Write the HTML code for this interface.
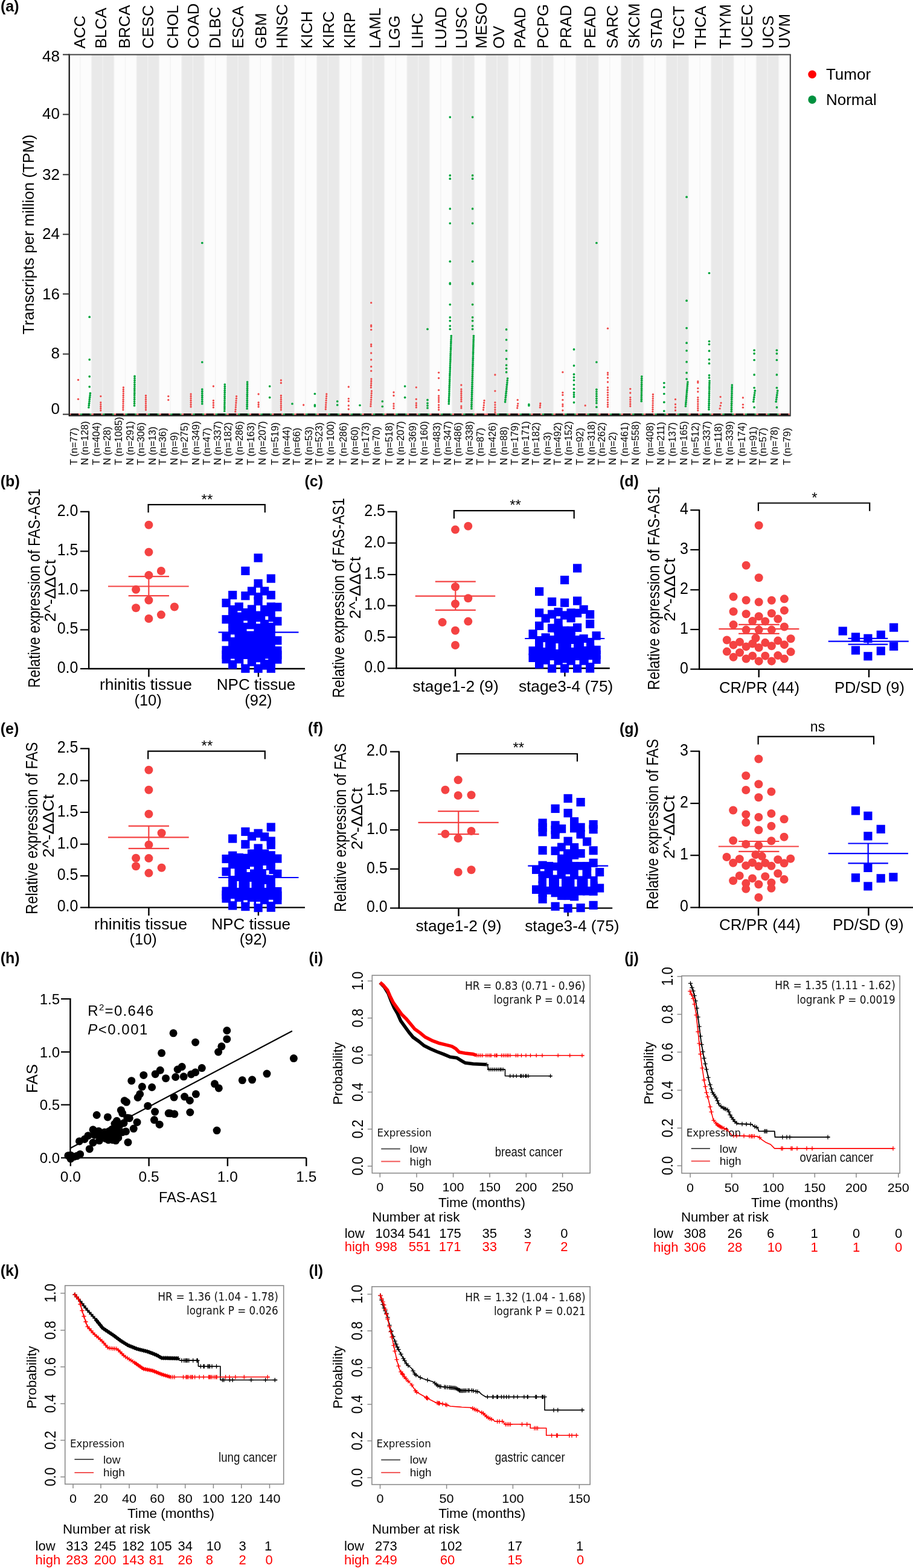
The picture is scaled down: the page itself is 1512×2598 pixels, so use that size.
<!DOCTYPE html>
<html><head><meta charset="utf-8"><title>Figure</title>
<style>html,body{margin:0;padding:0;background:#fff;}svg{display:block;}
</style></head>
<body><svg xmlns="http://www.w3.org/2000/svg" font-family="'Liberation Sans', Arial, Helvetica, sans-serif" width="1512" height="2598" viewBox="0 0 1512 2598">
<rect width="1512" height="2598" fill="#fff"/>
<rect x="114.10" y="90.50" width="37.32" height="597.00" fill="#fcfcfc"/>
<rect x="151.42" y="90.50" width="37.32" height="597.00" fill="#e9e9e9"/>
<rect x="188.74" y="90.50" width="37.32" height="597.00" fill="#fcfcfc"/>
<rect x="226.06" y="90.50" width="37.32" height="597.00" fill="#e9e9e9"/>
<rect x="263.38" y="90.50" width="37.32" height="597.00" fill="#fcfcfc"/>
<rect x="300.70" y="90.50" width="37.32" height="597.00" fill="#e9e9e9"/>
<rect x="338.02" y="90.50" width="37.32" height="597.00" fill="#fcfcfc"/>
<rect x="375.34" y="90.50" width="37.32" height="597.00" fill="#e9e9e9"/>
<rect x="412.66" y="90.50" width="37.32" height="597.00" fill="#fcfcfc"/>
<rect x="449.98" y="90.50" width="37.32" height="597.00" fill="#e9e9e9"/>
<rect x="487.30" y="90.50" width="37.32" height="597.00" fill="#fcfcfc"/>
<rect x="524.62" y="90.50" width="37.32" height="597.00" fill="#e9e9e9"/>
<rect x="561.94" y="90.50" width="37.32" height="597.00" fill="#fcfcfc"/>
<rect x="599.26" y="90.50" width="37.32" height="597.00" fill="#e9e9e9"/>
<rect x="636.58" y="90.50" width="37.32" height="597.00" fill="#fcfcfc"/>
<rect x="673.90" y="90.50" width="37.32" height="597.00" fill="#e9e9e9"/>
<rect x="711.22" y="90.50" width="37.32" height="597.00" fill="#fcfcfc"/>
<rect x="748.54" y="90.50" width="37.32" height="597.00" fill="#e9e9e9"/>
<rect x="785.86" y="90.50" width="18.66" height="597.00" fill="#fcfcfc"/>
<rect x="804.52" y="90.50" width="37.32" height="597.00" fill="#e9e9e9"/>
<rect x="841.84" y="90.50" width="37.32" height="597.00" fill="#fcfcfc"/>
<rect x="879.16" y="90.50" width="37.32" height="597.00" fill="#e9e9e9"/>
<rect x="916.48" y="90.50" width="37.32" height="597.00" fill="#fcfcfc"/>
<rect x="953.80" y="90.50" width="37.32" height="597.00" fill="#e9e9e9"/>
<rect x="991.12" y="90.50" width="37.32" height="597.00" fill="#fcfcfc"/>
<rect x="1028.44" y="90.50" width="37.32" height="597.00" fill="#e9e9e9"/>
<rect x="1065.76" y="90.50" width="37.32" height="597.00" fill="#fcfcfc"/>
<rect x="1103.08" y="90.50" width="37.32" height="597.00" fill="#e9e9e9"/>
<rect x="1140.40" y="90.50" width="37.32" height="597.00" fill="#fcfcfc"/>
<rect x="1177.72" y="90.50" width="37.32" height="597.00" fill="#e9e9e9"/>
<rect x="1215.04" y="90.50" width="37.32" height="597.00" fill="#fcfcfc"/>
<rect x="1252.36" y="90.50" width="37.32" height="597.00" fill="#e9e9e9"/>
<rect x="1289.68" y="90.50" width="18.66" height="597.00" fill="#fcfcfc"/>
<rect x="132.16" y="90.5" width="1.3" height="596.0" fill="#f2f2f2"/>
<rect x="150.82" y="90.5" width="1.3" height="596.0" fill="#f2f2f2"/>
<rect x="169.48" y="90.5" width="1.3" height="596.0" fill="#f2f2f2"/>
<rect x="188.14" y="90.5" width="1.3" height="596.0" fill="#f2f2f2"/>
<rect x="206.80" y="90.5" width="1.3" height="596.0" fill="#f2f2f2"/>
<rect x="225.46" y="90.5" width="1.3" height="596.0" fill="#f2f2f2"/>
<rect x="244.12" y="90.5" width="1.3" height="596.0" fill="#f2f2f2"/>
<rect x="262.78" y="90.5" width="1.3" height="596.0" fill="#f2f2f2"/>
<rect x="281.44" y="90.5" width="1.3" height="596.0" fill="#f2f2f2"/>
<rect x="300.10" y="90.5" width="1.3" height="596.0" fill="#f2f2f2"/>
<rect x="318.76" y="90.5" width="1.3" height="596.0" fill="#f2f2f2"/>
<rect x="337.42" y="90.5" width="1.3" height="596.0" fill="#f2f2f2"/>
<rect x="356.08" y="90.5" width="1.3" height="596.0" fill="#f2f2f2"/>
<rect x="374.74" y="90.5" width="1.3" height="596.0" fill="#f2f2f2"/>
<rect x="393.40" y="90.5" width="1.3" height="596.0" fill="#f2f2f2"/>
<rect x="412.06" y="90.5" width="1.3" height="596.0" fill="#f2f2f2"/>
<rect x="430.72" y="90.5" width="1.3" height="596.0" fill="#f2f2f2"/>
<rect x="449.38" y="90.5" width="1.3" height="596.0" fill="#f2f2f2"/>
<rect x="468.04" y="90.5" width="1.3" height="596.0" fill="#f2f2f2"/>
<rect x="486.70" y="90.5" width="1.3" height="596.0" fill="#f2f2f2"/>
<rect x="505.36" y="90.5" width="1.3" height="596.0" fill="#f2f2f2"/>
<rect x="524.02" y="90.5" width="1.3" height="596.0" fill="#f2f2f2"/>
<rect x="542.68" y="90.5" width="1.3" height="596.0" fill="#f2f2f2"/>
<rect x="561.34" y="90.5" width="1.3" height="596.0" fill="#f2f2f2"/>
<rect x="580.00" y="90.5" width="1.3" height="596.0" fill="#f2f2f2"/>
<rect x="598.66" y="90.5" width="1.3" height="596.0" fill="#f2f2f2"/>
<rect x="617.32" y="90.5" width="1.3" height="596.0" fill="#f2f2f2"/>
<rect x="635.98" y="90.5" width="1.3" height="596.0" fill="#f2f2f2"/>
<rect x="654.64" y="90.5" width="1.3" height="596.0" fill="#f2f2f2"/>
<rect x="673.30" y="90.5" width="1.3" height="596.0" fill="#f2f2f2"/>
<rect x="691.96" y="90.5" width="1.3" height="596.0" fill="#f2f2f2"/>
<rect x="710.62" y="90.5" width="1.3" height="596.0" fill="#f2f2f2"/>
<rect x="729.28" y="90.5" width="1.3" height="596.0" fill="#f2f2f2"/>
<rect x="747.94" y="90.5" width="1.3" height="596.0" fill="#f2f2f2"/>
<rect x="766.60" y="90.5" width="1.3" height="596.0" fill="#f2f2f2"/>
<rect x="785.26" y="90.5" width="1.3" height="596.0" fill="#f2f2f2"/>
<rect x="803.92" y="90.5" width="1.3" height="596.0" fill="#f2f2f2"/>
<rect x="822.58" y="90.5" width="1.3" height="596.0" fill="#f2f2f2"/>
<rect x="841.24" y="90.5" width="1.3" height="596.0" fill="#f2f2f2"/>
<rect x="859.90" y="90.5" width="1.3" height="596.0" fill="#f2f2f2"/>
<rect x="878.56" y="90.5" width="1.3" height="596.0" fill="#f2f2f2"/>
<rect x="897.22" y="90.5" width="1.3" height="596.0" fill="#f2f2f2"/>
<rect x="915.88" y="90.5" width="1.3" height="596.0" fill="#f2f2f2"/>
<rect x="934.54" y="90.5" width="1.3" height="596.0" fill="#f2f2f2"/>
<rect x="953.20" y="90.5" width="1.3" height="596.0" fill="#f2f2f2"/>
<rect x="971.86" y="90.5" width="1.3" height="596.0" fill="#f2f2f2"/>
<rect x="990.52" y="90.5" width="1.3" height="596.0" fill="#f2f2f2"/>
<rect x="1009.18" y="90.5" width="1.3" height="596.0" fill="#f2f2f2"/>
<rect x="1027.84" y="90.5" width="1.3" height="596.0" fill="#f2f2f2"/>
<rect x="1046.50" y="90.5" width="1.3" height="596.0" fill="#f2f2f2"/>
<rect x="1065.16" y="90.5" width="1.3" height="596.0" fill="#f2f2f2"/>
<rect x="1083.82" y="90.5" width="1.3" height="596.0" fill="#f2f2f2"/>
<rect x="1102.48" y="90.5" width="1.3" height="596.0" fill="#f2f2f2"/>
<rect x="1121.14" y="90.5" width="1.3" height="596.0" fill="#f2f2f2"/>
<rect x="1139.80" y="90.5" width="1.3" height="596.0" fill="#f2f2f2"/>
<rect x="1158.46" y="90.5" width="1.3" height="596.0" fill="#f2f2f2"/>
<rect x="1177.12" y="90.5" width="1.3" height="596.0" fill="#f2f2f2"/>
<rect x="1195.78" y="90.5" width="1.3" height="596.0" fill="#f2f2f2"/>
<rect x="1214.44" y="90.5" width="1.3" height="596.0" fill="#f2f2f2"/>
<rect x="1233.10" y="90.5" width="1.3" height="596.0" fill="#f2f2f2"/>
<rect x="1251.76" y="90.5" width="1.3" height="596.0" fill="#f2f2f2"/>
<rect x="1270.42" y="90.5" width="1.3" height="596.0" fill="#f2f2f2"/>
<rect x="1289.08" y="90.5" width="1.3" height="596.0" fill="#f2f2f2"/>
<circle cx="129.5" cy="629.4" r="1.65" fill="#f04a4a"/>
<circle cx="129.5" cy="661.3" r="1.65" fill="#f04a4a"/>
<circle cx="148.2" cy="525.2" r="1.85" fill="#00a53c"/>
<circle cx="148.2" cy="595.8" r="1.85" fill="#00a53c"/>
<circle cx="148.2" cy="623.8" r="1.85" fill="#00a53c"/>
<circle cx="148.2" cy="640.8" r="1.85" fill="#00a53c"/>
<circle cx="149.4" cy="651.5" r="1.85" fill="#00a53c"/>
<circle cx="149.1" cy="654.9" r="1.85" fill="#00a53c"/>
<circle cx="148.7" cy="658.2" r="1.85" fill="#00a53c"/>
<circle cx="148.3" cy="661.6" r="1.85" fill="#00a53c"/>
<circle cx="148.0" cy="664.9" r="1.85" fill="#00a53c"/>
<circle cx="147.6" cy="668.3" r="1.85" fill="#00a53c"/>
<circle cx="147.3" cy="671.6" r="1.85" fill="#00a53c"/>
<circle cx="146.9" cy="675.0" r="1.85" fill="#00a53c"/>
<circle cx="166.8" cy="656.6" r="1.65" fill="#f04a4a"/>
<circle cx="166.8" cy="666.8" r="1.65" fill="#f04a4a"/>
<circle cx="166.8" cy="670.1" r="1.65" fill="#f04a4a"/>
<circle cx="166.8" cy="673.4" r="1.65" fill="#f04a4a"/>
<circle cx="166.8" cy="676.7" r="1.65" fill="#f04a4a"/>
<circle cx="166.8" cy="680.0" r="1.65" fill="#f04a4a"/>
<circle cx="204.4" cy="642.0" r="1.65" fill="#f04a4a"/>
<circle cx="204.3" cy="645.4" r="1.65" fill="#f04a4a"/>
<circle cx="204.3" cy="648.7" r="1.65" fill="#f04a4a"/>
<circle cx="204.3" cy="652.1" r="1.65" fill="#f04a4a"/>
<circle cx="204.2" cy="655.5" r="1.65" fill="#f04a4a"/>
<circle cx="204.2" cy="658.8" r="1.65" fill="#f04a4a"/>
<circle cx="204.1" cy="662.2" r="1.65" fill="#f04a4a"/>
<circle cx="204.1" cy="665.5" r="1.65" fill="#f04a4a"/>
<circle cx="204.0" cy="668.9" r="1.65" fill="#f04a4a"/>
<circle cx="204.0" cy="672.3" r="1.65" fill="#f04a4a"/>
<circle cx="203.9" cy="675.6" r="1.65" fill="#f04a4a"/>
<circle cx="203.9" cy="679.0" r="1.65" fill="#f04a4a"/>
<circle cx="223.0" cy="623.4" r="1.85" fill="#00a53c"/>
<circle cx="223.0" cy="626.9" r="1.85" fill="#00a53c"/>
<circle cx="223.0" cy="630.3" r="1.85" fill="#00a53c"/>
<circle cx="222.9" cy="633.8" r="1.85" fill="#00a53c"/>
<circle cx="222.9" cy="637.3" r="1.85" fill="#00a53c"/>
<circle cx="222.9" cy="640.8" r="1.85" fill="#00a53c"/>
<circle cx="222.8" cy="644.2" r="1.85" fill="#00a53c"/>
<circle cx="222.8" cy="647.7" r="1.85" fill="#00a53c"/>
<circle cx="222.8" cy="651.2" r="1.85" fill="#00a53c"/>
<circle cx="222.7" cy="654.6" r="1.85" fill="#00a53c"/>
<circle cx="222.7" cy="658.1" r="1.85" fill="#00a53c"/>
<circle cx="222.7" cy="661.6" r="1.85" fill="#00a53c"/>
<circle cx="222.6" cy="665.1" r="1.85" fill="#00a53c"/>
<circle cx="222.6" cy="668.5" r="1.85" fill="#00a53c"/>
<circle cx="222.5" cy="672.0" r="1.85" fill="#00a53c"/>
<circle cx="241.5" cy="655.5" r="1.65" fill="#f04a4a"/>
<circle cx="241.5" cy="658.9" r="1.65" fill="#f04a4a"/>
<circle cx="241.5" cy="662.2" r="1.65" fill="#f04a4a"/>
<circle cx="241.5" cy="665.6" r="1.65" fill="#f04a4a"/>
<circle cx="241.5" cy="668.9" r="1.65" fill="#f04a4a"/>
<circle cx="241.5" cy="672.3" r="1.65" fill="#f04a4a"/>
<circle cx="241.5" cy="675.6" r="1.65" fill="#f04a4a"/>
<circle cx="241.5" cy="679.0" r="1.65" fill="#f04a4a"/>
<circle cx="278.8" cy="656.6" r="1.65" fill="#f04a4a"/>
<circle cx="278.8" cy="662.7" r="1.65" fill="#f04a4a"/>
<circle cx="316.1" cy="653.0" r="1.65" fill="#f04a4a"/>
<circle cx="316.1" cy="656.5" r="1.65" fill="#f04a4a"/>
<circle cx="316.1" cy="660.0" r="1.65" fill="#f04a4a"/>
<circle cx="316.1" cy="663.5" r="1.65" fill="#f04a4a"/>
<circle cx="316.1" cy="667.0" r="1.65" fill="#f04a4a"/>
<circle cx="316.1" cy="670.5" r="1.65" fill="#f04a4a"/>
<circle cx="316.1" cy="674.0" r="1.65" fill="#f04a4a"/>
<circle cx="334.8" cy="402.5" r="1.85" fill="#00a53c"/>
<circle cx="334.8" cy="600.0" r="1.85" fill="#00a53c"/>
<circle cx="334.8" cy="645.0" r="1.85" fill="#00a53c"/>
<circle cx="334.8" cy="648.4" r="1.85" fill="#00a53c"/>
<circle cx="334.8" cy="651.9" r="1.85" fill="#00a53c"/>
<circle cx="334.8" cy="655.3" r="1.85" fill="#00a53c"/>
<circle cx="334.8" cy="658.7" r="1.85" fill="#00a53c"/>
<circle cx="334.8" cy="662.1" r="1.85" fill="#00a53c"/>
<circle cx="334.8" cy="665.6" r="1.85" fill="#00a53c"/>
<circle cx="334.8" cy="669.0" r="1.85" fill="#00a53c"/>
<circle cx="353.4" cy="640.0" r="1.65" fill="#f04a4a"/>
<circle cx="353.4" cy="663.7" r="1.65" fill="#f04a4a"/>
<circle cx="353.4" cy="667.5" r="1.65" fill="#f04a4a"/>
<circle cx="353.4" cy="671.2" r="1.65" fill="#f04a4a"/>
<circle cx="353.4" cy="675.0" r="1.65" fill="#f04a4a"/>
<circle cx="372.3" cy="637.0" r="1.85" fill="#00a53c"/>
<circle cx="372.3" cy="640.4" r="1.85" fill="#00a53c"/>
<circle cx="372.3" cy="643.8" r="1.85" fill="#00a53c"/>
<circle cx="372.2" cy="647.2" r="1.85" fill="#00a53c"/>
<circle cx="372.2" cy="650.5" r="1.85" fill="#00a53c"/>
<circle cx="372.1" cy="653.9" r="1.85" fill="#00a53c"/>
<circle cx="372.1" cy="657.3" r="1.85" fill="#00a53c"/>
<circle cx="372.1" cy="660.7" r="1.85" fill="#00a53c"/>
<circle cx="372.0" cy="664.1" r="1.85" fill="#00a53c"/>
<circle cx="372.0" cy="667.5" r="1.85" fill="#00a53c"/>
<circle cx="371.9" cy="670.8" r="1.85" fill="#00a53c"/>
<circle cx="371.9" cy="674.2" r="1.85" fill="#00a53c"/>
<circle cx="371.9" cy="677.6" r="1.85" fill="#00a53c"/>
<circle cx="371.8" cy="681.0" r="1.85" fill="#00a53c"/>
<circle cx="391.6" cy="656.6" r="1.65" fill="#f04a4a"/>
<circle cx="391.4" cy="660.2" r="1.65" fill="#f04a4a"/>
<circle cx="391.1" cy="663.9" r="1.65" fill="#f04a4a"/>
<circle cx="390.9" cy="667.5" r="1.65" fill="#f04a4a"/>
<circle cx="390.6" cy="671.1" r="1.65" fill="#f04a4a"/>
<circle cx="390.4" cy="674.7" r="1.65" fill="#f04a4a"/>
<circle cx="390.1" cy="678.4" r="1.65" fill="#f04a4a"/>
<circle cx="389.8" cy="682.0" r="1.65" fill="#f04a4a"/>
<circle cx="409.6" cy="633.0" r="1.85" fill="#00a53c"/>
<circle cx="409.6" cy="636.4" r="1.85" fill="#00a53c"/>
<circle cx="409.6" cy="639.8" r="1.85" fill="#00a53c"/>
<circle cx="409.5" cy="643.2" r="1.85" fill="#00a53c"/>
<circle cx="409.5" cy="646.5" r="1.85" fill="#00a53c"/>
<circle cx="409.5" cy="649.9" r="1.85" fill="#00a53c"/>
<circle cx="409.4" cy="653.3" r="1.85" fill="#00a53c"/>
<circle cx="409.4" cy="656.7" r="1.85" fill="#00a53c"/>
<circle cx="409.3" cy="660.1" r="1.85" fill="#00a53c"/>
<circle cx="409.3" cy="663.5" r="1.85" fill="#00a53c"/>
<circle cx="409.3" cy="666.8" r="1.85" fill="#00a53c"/>
<circle cx="409.2" cy="670.2" r="1.85" fill="#00a53c"/>
<circle cx="409.2" cy="673.6" r="1.85" fill="#00a53c"/>
<circle cx="409.1" cy="677.0" r="1.85" fill="#00a53c"/>
<circle cx="428.1" cy="653.0" r="1.65" fill="#f04a4a"/>
<circle cx="428.1" cy="667.0" r="1.65" fill="#f04a4a"/>
<circle cx="428.1" cy="670.5" r="1.65" fill="#f04a4a"/>
<circle cx="428.1" cy="674.0" r="1.65" fill="#f04a4a"/>
<circle cx="446.7" cy="640.0" r="1.85" fill="#00a53c"/>
<circle cx="446.7" cy="658.6" r="1.85" fill="#00a53c"/>
<circle cx="465.4" cy="630.0" r="1.65" fill="#f04a4a"/>
<circle cx="465.4" cy="634.5" r="1.65" fill="#f04a4a"/>
<circle cx="465.4" cy="655.5" r="1.65" fill="#f04a4a"/>
<circle cx="465.4" cy="658.9" r="1.65" fill="#f04a4a"/>
<circle cx="465.4" cy="662.2" r="1.65" fill="#f04a4a"/>
<circle cx="465.4" cy="665.6" r="1.65" fill="#f04a4a"/>
<circle cx="465.4" cy="668.9" r="1.65" fill="#f04a4a"/>
<circle cx="465.4" cy="672.3" r="1.65" fill="#f04a4a"/>
<circle cx="465.4" cy="675.6" r="1.65" fill="#f04a4a"/>
<circle cx="465.4" cy="679.0" r="1.65" fill="#f04a4a"/>
<circle cx="484.0" cy="669.0" r="1.85" fill="#00a53c"/>
<circle cx="502.7" cy="671.0" r="1.65" fill="#f04a4a"/>
<circle cx="521.4" cy="652.5" r="1.85" fill="#00a53c"/>
<circle cx="521.4" cy="671.0" r="1.85" fill="#00a53c"/>
<circle cx="521.4" cy="673.0" r="1.85" fill="#00a53c"/>
<circle cx="540.8" cy="653.0" r="1.65" fill="#f04a4a"/>
<circle cx="540.6" cy="656.6" r="1.65" fill="#f04a4a"/>
<circle cx="540.3" cy="660.1" r="1.65" fill="#f04a4a"/>
<circle cx="540.1" cy="663.7" r="1.65" fill="#f04a4a"/>
<circle cx="539.9" cy="667.3" r="1.65" fill="#f04a4a"/>
<circle cx="539.7" cy="670.9" r="1.65" fill="#f04a4a"/>
<circle cx="539.5" cy="674.4" r="1.65" fill="#f04a4a"/>
<circle cx="539.3" cy="678.0" r="1.65" fill="#f04a4a"/>
<circle cx="558.7" cy="665.0" r="1.85" fill="#00a53c"/>
<circle cx="558.7" cy="671.0" r="1.85" fill="#00a53c"/>
<circle cx="577.3" cy="641.0" r="1.65" fill="#f04a4a"/>
<circle cx="577.3" cy="672.0" r="1.65" fill="#f04a4a"/>
<circle cx="577.3" cy="678.0" r="1.65" fill="#f04a4a"/>
<circle cx="577.3" cy="660.6" r="1.65" fill="#f04a4a"/>
<circle cx="577.3" cy="664.7" r="1.65" fill="#f04a4a"/>
<circle cx="596.0" cy="671.5" r="1.85" fill="#00a53c"/>
<circle cx="614.7" cy="501.7" r="1.65" fill="#f04a4a"/>
<circle cx="614.7" cy="539.0" r="1.65" fill="#f04a4a"/>
<circle cx="614.7" cy="541.0" r="1.65" fill="#f04a4a"/>
<circle cx="614.7" cy="546.3" r="1.65" fill="#f04a4a"/>
<circle cx="614.7" cy="570.7" r="1.65" fill="#f04a4a"/>
<circle cx="614.7" cy="573.7" r="1.65" fill="#f04a4a"/>
<circle cx="614.7" cy="585.0" r="1.65" fill="#f04a4a"/>
<circle cx="614.7" cy="596.0" r="1.65" fill="#f04a4a"/>
<circle cx="614.7" cy="607.5" r="1.65" fill="#f04a4a"/>
<circle cx="614.7" cy="614.6" r="1.65" fill="#f04a4a"/>
<circle cx="614.9" cy="628.0" r="1.65" fill="#f04a4a"/>
<circle cx="614.8" cy="631.5" r="1.65" fill="#f04a4a"/>
<circle cx="614.7" cy="635.0" r="1.65" fill="#f04a4a"/>
<circle cx="614.5" cy="638.5" r="1.65" fill="#f04a4a"/>
<circle cx="614.4" cy="642.0" r="1.65" fill="#f04a4a"/>
<circle cx="615.4" cy="648.0" r="1.65" fill="#f04a4a"/>
<circle cx="615.2" cy="651.6" r="1.65" fill="#f04a4a"/>
<circle cx="615.0" cy="655.1" r="1.65" fill="#f04a4a"/>
<circle cx="614.8" cy="658.7" r="1.65" fill="#f04a4a"/>
<circle cx="614.6" cy="662.3" r="1.65" fill="#f04a4a"/>
<circle cx="614.3" cy="665.9" r="1.65" fill="#f04a4a"/>
<circle cx="614.1" cy="669.4" r="1.65" fill="#f04a4a"/>
<circle cx="613.9" cy="673.0" r="1.65" fill="#f04a4a"/>
<circle cx="633.3" cy="665.0" r="1.85" fill="#00a53c"/>
<circle cx="633.3" cy="673.5" r="1.85" fill="#00a53c"/>
<circle cx="652.0" cy="650.0" r="1.65" fill="#f04a4a"/>
<circle cx="652.0" cy="655.5" r="1.65" fill="#f04a4a"/>
<circle cx="652.0" cy="669.0" r="1.65" fill="#f04a4a"/>
<circle cx="652.0" cy="672.8" r="1.65" fill="#f04a4a"/>
<circle cx="652.0" cy="676.6" r="1.65" fill="#f04a4a"/>
<circle cx="670.6" cy="640.0" r="1.85" fill="#00a53c"/>
<circle cx="670.6" cy="658.6" r="1.85" fill="#00a53c"/>
<circle cx="689.3" cy="641.8" r="1.65" fill="#f04a4a"/>
<circle cx="689.3" cy="661.3" r="1.65" fill="#f04a4a"/>
<circle cx="689.3" cy="668.0" r="1.65" fill="#f04a4a"/>
<circle cx="689.3" cy="671.5" r="1.65" fill="#f04a4a"/>
<circle cx="689.3" cy="675.0" r="1.65" fill="#f04a4a"/>
<circle cx="708.0" cy="545.3" r="1.85" fill="#00a53c"/>
<circle cx="708.0" cy="662.7" r="1.85" fill="#00a53c"/>
<circle cx="708.0" cy="668.0" r="1.85" fill="#00a53c"/>
<circle cx="708.0" cy="672.0" r="1.85" fill="#00a53c"/>
<circle cx="708.0" cy="676.0" r="1.85" fill="#00a53c"/>
<circle cx="726.6" cy="617.3" r="1.65" fill="#f04a4a"/>
<circle cx="726.6" cy="626.5" r="1.65" fill="#f04a4a"/>
<circle cx="726.6" cy="646.3" r="1.65" fill="#f04a4a"/>
<circle cx="726.6" cy="656.0" r="1.65" fill="#f04a4a"/>
<circle cx="726.6" cy="659.3" r="1.65" fill="#f04a4a"/>
<circle cx="726.6" cy="662.7" r="1.65" fill="#f04a4a"/>
<circle cx="726.6" cy="666.0" r="1.65" fill="#f04a4a"/>
<circle cx="726.6" cy="671.0" r="1.65" fill="#f04a4a"/>
<circle cx="726.6" cy="675.0" r="1.65" fill="#f04a4a"/>
<circle cx="726.6" cy="679.0" r="1.65" fill="#f04a4a"/>
<circle cx="745.3" cy="194.1" r="1.85" fill="#00a53c"/>
<circle cx="745.3" cy="290.7" r="1.85" fill="#00a53c"/>
<circle cx="745.3" cy="296.2" r="1.85" fill="#00a53c"/>
<circle cx="745.3" cy="345.9" r="1.85" fill="#00a53c"/>
<circle cx="745.3" cy="370.0" r="1.85" fill="#00a53c"/>
<circle cx="745.3" cy="433.2" r="1.85" fill="#00a53c"/>
<circle cx="745.3" cy="469.0" r="1.85" fill="#00a53c"/>
<circle cx="745.3" cy="470.6" r="1.85" fill="#00a53c"/>
<circle cx="745.3" cy="504.6" r="1.85" fill="#00a53c"/>
<circle cx="745.3" cy="525.8" r="1.85" fill="#00a53c"/>
<circle cx="745.3" cy="531.6" r="1.85" fill="#00a53c"/>
<circle cx="745.3" cy="540.0" r="1.85" fill="#00a53c"/>
<circle cx="745.3" cy="545.3" r="1.85" fill="#00a53c"/>
<circle cx="747.3" cy="556.5" r="1.85" fill="#00a53c"/>
<circle cx="747.2" cy="559.8" r="1.85" fill="#00a53c"/>
<circle cx="747.0" cy="563.1" r="1.85" fill="#00a53c"/>
<circle cx="746.9" cy="566.4" r="1.85" fill="#00a53c"/>
<circle cx="746.8" cy="569.7" r="1.85" fill="#00a53c"/>
<circle cx="746.7" cy="573.0" r="1.85" fill="#00a53c"/>
<circle cx="746.6" cy="576.4" r="1.85" fill="#00a53c"/>
<circle cx="746.5" cy="579.7" r="1.85" fill="#00a53c"/>
<circle cx="746.3" cy="583.0" r="1.85" fill="#00a53c"/>
<circle cx="746.2" cy="586.3" r="1.85" fill="#00a53c"/>
<circle cx="746.1" cy="589.6" r="1.85" fill="#00a53c"/>
<circle cx="746.0" cy="592.9" r="1.85" fill="#00a53c"/>
<circle cx="745.9" cy="596.2" r="1.85" fill="#00a53c"/>
<circle cx="745.8" cy="599.5" r="1.85" fill="#00a53c"/>
<circle cx="745.6" cy="602.8" r="1.85" fill="#00a53c"/>
<circle cx="745.5" cy="606.1" r="1.85" fill="#00a53c"/>
<circle cx="745.4" cy="609.4" r="1.85" fill="#00a53c"/>
<circle cx="745.3" cy="612.8" r="1.85" fill="#00a53c"/>
<circle cx="745.2" cy="616.1" r="1.85" fill="#00a53c"/>
<circle cx="745.0" cy="619.4" r="1.85" fill="#00a53c"/>
<circle cx="744.9" cy="622.7" r="1.85" fill="#00a53c"/>
<circle cx="744.8" cy="626.0" r="1.85" fill="#00a53c"/>
<circle cx="744.7" cy="629.3" r="1.85" fill="#00a53c"/>
<circle cx="744.6" cy="632.6" r="1.85" fill="#00a53c"/>
<circle cx="744.5" cy="635.9" r="1.85" fill="#00a53c"/>
<circle cx="744.3" cy="639.2" r="1.85" fill="#00a53c"/>
<circle cx="744.2" cy="642.5" r="1.85" fill="#00a53c"/>
<circle cx="744.1" cy="645.8" r="1.85" fill="#00a53c"/>
<circle cx="744.0" cy="649.1" r="1.85" fill="#00a53c"/>
<circle cx="743.9" cy="652.5" r="1.85" fill="#00a53c"/>
<circle cx="743.8" cy="655.8" r="1.85" fill="#00a53c"/>
<circle cx="743.6" cy="659.1" r="1.85" fill="#00a53c"/>
<circle cx="743.5" cy="662.4" r="1.85" fill="#00a53c"/>
<circle cx="743.4" cy="665.7" r="1.85" fill="#00a53c"/>
<circle cx="743.3" cy="669.0" r="1.85" fill="#00a53c"/>
<circle cx="763.9" cy="638.0" r="1.65" fill="#f04a4a"/>
<circle cx="763.9" cy="645.0" r="1.65" fill="#f04a4a"/>
<circle cx="763.9" cy="648.3" r="1.65" fill="#f04a4a"/>
<circle cx="763.9" cy="651.7" r="1.65" fill="#f04a4a"/>
<circle cx="763.9" cy="655.0" r="1.65" fill="#f04a4a"/>
<circle cx="763.9" cy="658.3" r="1.65" fill="#f04a4a"/>
<circle cx="763.9" cy="661.7" r="1.65" fill="#f04a4a"/>
<circle cx="763.9" cy="665.0" r="1.65" fill="#f04a4a"/>
<circle cx="763.9" cy="673.0" r="1.65" fill="#f04a4a"/>
<circle cx="763.9" cy="676.0" r="1.65" fill="#f04a4a"/>
<circle cx="782.6" cy="194.1" r="1.85" fill="#00a53c"/>
<circle cx="782.6" cy="290.7" r="1.85" fill="#00a53c"/>
<circle cx="782.6" cy="296.2" r="1.85" fill="#00a53c"/>
<circle cx="782.6" cy="345.9" r="1.85" fill="#00a53c"/>
<circle cx="782.6" cy="370.0" r="1.85" fill="#00a53c"/>
<circle cx="782.6" cy="433.2" r="1.85" fill="#00a53c"/>
<circle cx="782.6" cy="469.0" r="1.85" fill="#00a53c"/>
<circle cx="782.6" cy="470.6" r="1.85" fill="#00a53c"/>
<circle cx="782.6" cy="504.6" r="1.85" fill="#00a53c"/>
<circle cx="782.6" cy="525.8" r="1.85" fill="#00a53c"/>
<circle cx="782.6" cy="531.6" r="1.85" fill="#00a53c"/>
<circle cx="782.6" cy="540.0" r="1.85" fill="#00a53c"/>
<circle cx="782.6" cy="545.3" r="1.85" fill="#00a53c"/>
<circle cx="784.4" cy="556.5" r="1.85" fill="#00a53c"/>
<circle cx="784.3" cy="559.8" r="1.85" fill="#00a53c"/>
<circle cx="784.2" cy="563.2" r="1.85" fill="#00a53c"/>
<circle cx="784.1" cy="566.5" r="1.85" fill="#00a53c"/>
<circle cx="784.0" cy="569.9" r="1.85" fill="#00a53c"/>
<circle cx="783.9" cy="573.2" r="1.85" fill="#00a53c"/>
<circle cx="783.8" cy="576.6" r="1.85" fill="#00a53c"/>
<circle cx="783.7" cy="579.9" r="1.85" fill="#00a53c"/>
<circle cx="783.6" cy="583.3" r="1.85" fill="#00a53c"/>
<circle cx="783.5" cy="586.6" r="1.85" fill="#00a53c"/>
<circle cx="783.4" cy="590.0" r="1.85" fill="#00a53c"/>
<circle cx="783.3" cy="593.3" r="1.85" fill="#00a53c"/>
<circle cx="783.2" cy="596.7" r="1.85" fill="#00a53c"/>
<circle cx="783.1" cy="600.0" r="1.85" fill="#00a53c"/>
<circle cx="783.0" cy="603.4" r="1.85" fill="#00a53c"/>
<circle cx="782.9" cy="606.7" r="1.85" fill="#00a53c"/>
<circle cx="782.8" cy="610.1" r="1.85" fill="#00a53c"/>
<circle cx="782.7" cy="613.4" r="1.85" fill="#00a53c"/>
<circle cx="782.6" cy="616.8" r="1.85" fill="#00a53c"/>
<circle cx="782.5" cy="620.1" r="1.85" fill="#00a53c"/>
<circle cx="782.4" cy="623.4" r="1.85" fill="#00a53c"/>
<circle cx="782.3" cy="626.8" r="1.85" fill="#00a53c"/>
<circle cx="782.2" cy="630.1" r="1.85" fill="#00a53c"/>
<circle cx="782.1" cy="633.5" r="1.85" fill="#00a53c"/>
<circle cx="782.0" cy="636.8" r="1.85" fill="#00a53c"/>
<circle cx="781.9" cy="640.2" r="1.85" fill="#00a53c"/>
<circle cx="781.8" cy="643.5" r="1.85" fill="#00a53c"/>
<circle cx="781.7" cy="646.9" r="1.85" fill="#00a53c"/>
<circle cx="781.6" cy="650.2" r="1.85" fill="#00a53c"/>
<circle cx="781.5" cy="653.6" r="1.85" fill="#00a53c"/>
<circle cx="781.4" cy="656.9" r="1.85" fill="#00a53c"/>
<circle cx="781.3" cy="660.3" r="1.85" fill="#00a53c"/>
<circle cx="781.2" cy="663.6" r="1.85" fill="#00a53c"/>
<circle cx="781.1" cy="667.0" r="1.85" fill="#00a53c"/>
<circle cx="781.0" cy="670.3" r="1.85" fill="#00a53c"/>
<circle cx="780.9" cy="673.7" r="1.85" fill="#00a53c"/>
<circle cx="780.9" cy="677.0" r="1.85" fill="#00a53c"/>
<circle cx="802.0" cy="663.7" r="1.65" fill="#f04a4a"/>
<circle cx="801.6" cy="667.5" r="1.65" fill="#f04a4a"/>
<circle cx="801.3" cy="671.4" r="1.65" fill="#f04a4a"/>
<circle cx="800.9" cy="675.2" r="1.65" fill="#f04a4a"/>
<circle cx="800.5" cy="679.0" r="1.65" fill="#f04a4a"/>
<circle cx="819.9" cy="621.0" r="1.65" fill="#f04a4a"/>
<circle cx="819.9" cy="647.8" r="1.65" fill="#f04a4a"/>
<circle cx="819.9" cy="666.8" r="1.65" fill="#f04a4a"/>
<circle cx="819.9" cy="670.8" r="1.65" fill="#f04a4a"/>
<circle cx="819.9" cy="674.9" r="1.65" fill="#f04a4a"/>
<circle cx="819.9" cy="679.0" r="1.65" fill="#f04a4a"/>
<circle cx="819.9" cy="683.0" r="1.65" fill="#f04a4a"/>
<circle cx="838.6" cy="545.9" r="1.85" fill="#00a53c"/>
<circle cx="838.6" cy="563.0" r="1.85" fill="#00a53c"/>
<circle cx="838.6" cy="581.0" r="1.85" fill="#00a53c"/>
<circle cx="838.6" cy="594.8" r="1.85" fill="#00a53c"/>
<circle cx="838.6" cy="605.0" r="1.85" fill="#00a53c"/>
<circle cx="838.6" cy="610.6" r="1.85" fill="#00a53c"/>
<circle cx="838.6" cy="616.7" r="1.85" fill="#00a53c"/>
<circle cx="840.6" cy="627.0" r="1.85" fill="#00a53c"/>
<circle cx="840.2" cy="630.5" r="1.85" fill="#00a53c"/>
<circle cx="839.9" cy="634.1" r="1.85" fill="#00a53c"/>
<circle cx="839.5" cy="637.6" r="1.85" fill="#00a53c"/>
<circle cx="839.1" cy="641.1" r="1.85" fill="#00a53c"/>
<circle cx="838.8" cy="644.6" r="1.85" fill="#00a53c"/>
<circle cx="838.4" cy="648.2" r="1.85" fill="#00a53c"/>
<circle cx="838.0" cy="651.7" r="1.85" fill="#00a53c"/>
<circle cx="837.7" cy="655.2" r="1.85" fill="#00a53c"/>
<circle cx="837.3" cy="658.7" r="1.85" fill="#00a53c"/>
<circle cx="836.9" cy="662.3" r="1.85" fill="#00a53c"/>
<circle cx="836.6" cy="665.8" r="1.85" fill="#00a53c"/>
<circle cx="857.2" cy="662.7" r="1.65" fill="#f04a4a"/>
<circle cx="857.7" cy="668.8" r="1.65" fill="#f04a4a"/>
<circle cx="857.2" cy="672.4" r="1.65" fill="#f04a4a"/>
<circle cx="856.7" cy="676.0" r="1.65" fill="#f04a4a"/>
<circle cx="875.9" cy="670.0" r="1.85" fill="#00a53c"/>
<circle cx="875.9" cy="672.0" r="1.85" fill="#00a53c"/>
<circle cx="894.8" cy="668.4" r="1.65" fill="#f04a4a"/>
<circle cx="894.6" cy="671.7" r="1.65" fill="#f04a4a"/>
<circle cx="894.3" cy="675.0" r="1.65" fill="#f04a4a"/>
<circle cx="931.9" cy="616.7" r="1.65" fill="#f04a4a"/>
<circle cx="931.9" cy="662.7" r="1.65" fill="#f04a4a"/>
<circle cx="931.9" cy="680.0" r="1.65" fill="#f04a4a"/>
<circle cx="931.9" cy="650.4" r="1.65" fill="#f04a4a"/>
<circle cx="931.9" cy="654.5" r="1.65" fill="#f04a4a"/>
<circle cx="931.9" cy="670.0" r="1.65" fill="#f04a4a"/>
<circle cx="931.9" cy="673.0" r="1.65" fill="#f04a4a"/>
<circle cx="950.5" cy="578.9" r="1.85" fill="#00a53c"/>
<circle cx="950.5" cy="605.8" r="1.85" fill="#00a53c"/>
<circle cx="950.5" cy="620.2" r="1.85" fill="#00a53c"/>
<circle cx="950.5" cy="637.5" r="1.85" fill="#00a53c"/>
<circle cx="950.5" cy="644.3" r="1.85" fill="#00a53c"/>
<circle cx="950.5" cy="666.8" r="1.85" fill="#00a53c"/>
<circle cx="950.5" cy="625.0" r="1.85" fill="#00a53c"/>
<circle cx="950.5" cy="630.0" r="1.85" fill="#00a53c"/>
<circle cx="950.5" cy="650.4" r="1.85" fill="#00a53c"/>
<circle cx="950.5" cy="654.0" r="1.85" fill="#00a53c"/>
<circle cx="950.5" cy="657.6" r="1.85" fill="#00a53c"/>
<circle cx="969.2" cy="671.9" r="1.65" fill="#f04a4a"/>
<circle cx="987.9" cy="402.5" r="1.85" fill="#00a53c"/>
<circle cx="987.9" cy="600.0" r="1.85" fill="#00a53c"/>
<circle cx="987.9" cy="674.4" r="1.85" fill="#00a53c"/>
<circle cx="987.9" cy="645.3" r="1.85" fill="#00a53c"/>
<circle cx="987.9" cy="649.0" r="1.85" fill="#00a53c"/>
<circle cx="987.9" cy="652.8" r="1.85" fill="#00a53c"/>
<circle cx="987.9" cy="656.5" r="1.85" fill="#00a53c"/>
<circle cx="987.9" cy="660.3" r="1.85" fill="#00a53c"/>
<circle cx="987.9" cy="664.0" r="1.85" fill="#00a53c"/>
<circle cx="987.9" cy="667.8" r="1.85" fill="#00a53c"/>
<circle cx="1006.5" cy="544.2" r="1.65" fill="#f04a4a"/>
<circle cx="1006.5" cy="626.0" r="1.65" fill="#f04a4a"/>
<circle cx="1006.5" cy="633.0" r="1.65" fill="#f04a4a"/>
<circle cx="1006.5" cy="617.7" r="1.65" fill="#f04a4a"/>
<circle cx="1006.5" cy="620.8" r="1.65" fill="#f04a4a"/>
<circle cx="1006.5" cy="642.0" r="1.65" fill="#f04a4a"/>
<circle cx="1006.5" cy="646.2" r="1.65" fill="#f04a4a"/>
<circle cx="1006.5" cy="650.3" r="1.65" fill="#f04a4a"/>
<circle cx="1006.5" cy="654.5" r="1.65" fill="#f04a4a"/>
<circle cx="1006.5" cy="658.6" r="1.65" fill="#f04a4a"/>
<circle cx="1006.5" cy="662.7" r="1.65" fill="#f04a4a"/>
<circle cx="1006.5" cy="666.8" r="1.65" fill="#f04a4a"/>
<circle cx="1006.5" cy="670.4" r="1.65" fill="#f04a4a"/>
<circle cx="1006.5" cy="674.0" r="1.65" fill="#f04a4a"/>
<circle cx="1043.8" cy="644.3" r="1.65" fill="#f04a4a"/>
<circle cx="1043.8" cy="651.0" r="1.65" fill="#f04a4a"/>
<circle cx="1043.8" cy="658.6" r="1.65" fill="#f04a4a"/>
<circle cx="1043.8" cy="662.2" r="1.65" fill="#f04a4a"/>
<circle cx="1043.8" cy="665.8" r="1.65" fill="#f04a4a"/>
<circle cx="1043.8" cy="669.4" r="1.65" fill="#f04a4a"/>
<circle cx="1043.8" cy="673.0" r="1.65" fill="#f04a4a"/>
<circle cx="1062.8" cy="623.8" r="1.85" fill="#00a53c"/>
<circle cx="1062.7" cy="627.2" r="1.85" fill="#00a53c"/>
<circle cx="1062.7" cy="630.6" r="1.85" fill="#00a53c"/>
<circle cx="1062.6" cy="634.0" r="1.85" fill="#00a53c"/>
<circle cx="1062.6" cy="637.4" r="1.85" fill="#00a53c"/>
<circle cx="1062.5" cy="640.8" r="1.85" fill="#00a53c"/>
<circle cx="1062.5" cy="644.2" r="1.85" fill="#00a53c"/>
<circle cx="1062.5" cy="647.7" r="1.85" fill="#00a53c"/>
<circle cx="1062.4" cy="651.1" r="1.85" fill="#00a53c"/>
<circle cx="1062.4" cy="654.5" r="1.85" fill="#00a53c"/>
<circle cx="1062.3" cy="657.9" r="1.85" fill="#00a53c"/>
<circle cx="1062.3" cy="661.3" r="1.85" fill="#00a53c"/>
<circle cx="1062.2" cy="664.7" r="1.85" fill="#00a53c"/>
<circle cx="1081.4" cy="653.5" r="1.65" fill="#f04a4a"/>
<circle cx="1081.3" cy="657.1" r="1.65" fill="#f04a4a"/>
<circle cx="1081.3" cy="660.6" r="1.65" fill="#f04a4a"/>
<circle cx="1081.2" cy="664.2" r="1.65" fill="#f04a4a"/>
<circle cx="1081.2" cy="667.8" r="1.65" fill="#f04a4a"/>
<circle cx="1081.1" cy="671.3" r="1.65" fill="#f04a4a"/>
<circle cx="1081.0" cy="674.9" r="1.65" fill="#f04a4a"/>
<circle cx="1081.0" cy="678.4" r="1.65" fill="#f04a4a"/>
<circle cx="1080.9" cy="682.0" r="1.65" fill="#f04a4a"/>
<circle cx="1099.8" cy="634.5" r="1.85" fill="#00a53c"/>
<circle cx="1099.8" cy="641.6" r="1.85" fill="#00a53c"/>
<circle cx="1099.8" cy="652.5" r="1.85" fill="#00a53c"/>
<circle cx="1099.8" cy="666.4" r="1.85" fill="#00a53c"/>
<circle cx="1099.8" cy="681.0" r="1.85" fill="#00a53c"/>
<circle cx="1118.5" cy="661.7" r="1.65" fill="#f04a4a"/>
<circle cx="1118.5" cy="680.0" r="1.65" fill="#f04a4a"/>
<circle cx="1118.5" cy="669.9" r="1.65" fill="#f04a4a"/>
<circle cx="1118.5" cy="675.0" r="1.65" fill="#f04a4a"/>
<circle cx="1137.1" cy="326.4" r="1.85" fill="#00a53c"/>
<circle cx="1137.1" cy="498.2" r="1.85" fill="#00a53c"/>
<circle cx="1137.1" cy="543.6" r="1.85" fill="#00a53c"/>
<circle cx="1137.1" cy="568.2" r="1.85" fill="#00a53c"/>
<circle cx="1137.1" cy="581.0" r="1.85" fill="#00a53c"/>
<circle cx="1137.1" cy="599.7" r="1.85" fill="#00a53c"/>
<circle cx="1137.1" cy="617.7" r="1.85" fill="#00a53c"/>
<circle cx="1137.1" cy="628.0" r="1.85" fill="#00a53c"/>
<circle cx="1138.9" cy="633.0" r="1.85" fill="#00a53c"/>
<circle cx="1138.6" cy="636.3" r="1.85" fill="#00a53c"/>
<circle cx="1138.3" cy="639.7" r="1.85" fill="#00a53c"/>
<circle cx="1138.0" cy="643.0" r="1.85" fill="#00a53c"/>
<circle cx="1137.7" cy="646.3" r="1.85" fill="#00a53c"/>
<circle cx="1137.4" cy="649.7" r="1.85" fill="#00a53c"/>
<circle cx="1137.1" cy="653.0" r="1.85" fill="#00a53c"/>
<circle cx="1136.8" cy="656.3" r="1.85" fill="#00a53c"/>
<circle cx="1136.6" cy="659.7" r="1.85" fill="#00a53c"/>
<circle cx="1136.3" cy="663.0" r="1.85" fill="#00a53c"/>
<circle cx="1136.0" cy="666.3" r="1.85" fill="#00a53c"/>
<circle cx="1135.7" cy="669.7" r="1.85" fill="#00a53c"/>
<circle cx="1135.4" cy="673.0" r="1.85" fill="#00a53c"/>
<circle cx="1155.8" cy="643.3" r="1.65" fill="#f04a4a"/>
<circle cx="1155.8" cy="649.0" r="1.65" fill="#f04a4a"/>
<circle cx="1155.8" cy="632.0" r="1.65" fill="#f04a4a"/>
<circle cx="1155.8" cy="634.0" r="1.65" fill="#f04a4a"/>
<circle cx="1155.8" cy="658.6" r="1.65" fill="#f04a4a"/>
<circle cx="1155.8" cy="662.2" r="1.65" fill="#f04a4a"/>
<circle cx="1155.8" cy="665.7" r="1.65" fill="#f04a4a"/>
<circle cx="1155.8" cy="669.3" r="1.65" fill="#f04a4a"/>
<circle cx="1155.8" cy="672.9" r="1.65" fill="#f04a4a"/>
<circle cx="1155.8" cy="676.4" r="1.65" fill="#f04a4a"/>
<circle cx="1155.8" cy="680.0" r="1.65" fill="#f04a4a"/>
<circle cx="1174.5" cy="452.5" r="1.85" fill="#00a53c"/>
<circle cx="1174.5" cy="565.6" r="1.85" fill="#00a53c"/>
<circle cx="1174.5" cy="570.5" r="1.85" fill="#00a53c"/>
<circle cx="1174.5" cy="581.4" r="1.85" fill="#00a53c"/>
<circle cx="1174.5" cy="595.6" r="1.85" fill="#00a53c"/>
<circle cx="1174.5" cy="602.2" r="1.85" fill="#00a53c"/>
<circle cx="1174.5" cy="621.8" r="1.85" fill="#00a53c"/>
<circle cx="1174.5" cy="626.0" r="1.85" fill="#00a53c"/>
<circle cx="1175.0" cy="631.0" r="1.85" fill="#00a53c"/>
<circle cx="1174.9" cy="634.4" r="1.85" fill="#00a53c"/>
<circle cx="1174.8" cy="637.8" r="1.85" fill="#00a53c"/>
<circle cx="1174.7" cy="641.2" r="1.85" fill="#00a53c"/>
<circle cx="1174.7" cy="644.6" r="1.85" fill="#00a53c"/>
<circle cx="1174.6" cy="648.0" r="1.85" fill="#00a53c"/>
<circle cx="1174.5" cy="651.4" r="1.85" fill="#00a53c"/>
<circle cx="1174.5" cy="654.8" r="1.85" fill="#00a53c"/>
<circle cx="1174.4" cy="658.1" r="1.85" fill="#00a53c"/>
<circle cx="1174.3" cy="661.5" r="1.85" fill="#00a53c"/>
<circle cx="1174.2" cy="664.9" r="1.85" fill="#00a53c"/>
<circle cx="1174.2" cy="668.3" r="1.85" fill="#00a53c"/>
<circle cx="1174.1" cy="671.7" r="1.85" fill="#00a53c"/>
<circle cx="1174.0" cy="675.1" r="1.85" fill="#00a53c"/>
<circle cx="1174.0" cy="678.5" r="1.85" fill="#00a53c"/>
<circle cx="1193.1" cy="657.6" r="1.65" fill="#f04a4a"/>
<circle cx="1194.1" cy="667.6" r="1.65" fill="#f04a4a"/>
<circle cx="1193.1" cy="672.2" r="1.65" fill="#f04a4a"/>
<circle cx="1192.1" cy="676.9" r="1.65" fill="#f04a4a"/>
<circle cx="1212.3" cy="638.0" r="1.85" fill="#00a53c"/>
<circle cx="1212.2" cy="641.4" r="1.85" fill="#00a53c"/>
<circle cx="1212.1" cy="644.7" r="1.85" fill="#00a53c"/>
<circle cx="1212.0" cy="648.1" r="1.85" fill="#00a53c"/>
<circle cx="1212.0" cy="651.5" r="1.85" fill="#00a53c"/>
<circle cx="1211.9" cy="654.8" r="1.85" fill="#00a53c"/>
<circle cx="1211.8" cy="658.2" r="1.85" fill="#00a53c"/>
<circle cx="1211.7" cy="661.6" r="1.85" fill="#00a53c"/>
<circle cx="1211.7" cy="665.0" r="1.85" fill="#00a53c"/>
<circle cx="1211.6" cy="668.3" r="1.85" fill="#00a53c"/>
<circle cx="1211.5" cy="671.7" r="1.85" fill="#00a53c"/>
<circle cx="1211.4" cy="675.1" r="1.85" fill="#00a53c"/>
<circle cx="1211.4" cy="678.4" r="1.85" fill="#00a53c"/>
<circle cx="1211.3" cy="681.8" r="1.85" fill="#00a53c"/>
<circle cx="1230.4" cy="658.9" r="1.65" fill="#f04a4a"/>
<circle cx="1230.4" cy="670.3" r="1.65" fill="#f04a4a"/>
<circle cx="1230.4" cy="675.2" r="1.65" fill="#f04a4a"/>
<circle cx="1249.1" cy="580.3" r="1.85" fill="#00a53c"/>
<circle cx="1249.1" cy="585.8" r="1.85" fill="#00a53c"/>
<circle cx="1249.1" cy="596.5" r="1.85" fill="#00a53c"/>
<circle cx="1249.1" cy="620.9" r="1.85" fill="#00a53c"/>
<circle cx="1249.1" cy="642.5" r="1.85" fill="#00a53c"/>
<circle cx="1249.1" cy="674.9" r="1.85" fill="#00a53c"/>
<circle cx="1250.3" cy="647.4" r="1.85" fill="#00a53c"/>
<circle cx="1249.8" cy="651.0" r="1.85" fill="#00a53c"/>
<circle cx="1249.3" cy="654.6" r="1.85" fill="#00a53c"/>
<circle cx="1248.8" cy="658.2" r="1.85" fill="#00a53c"/>
<circle cx="1248.3" cy="661.8" r="1.85" fill="#00a53c"/>
<circle cx="1247.8" cy="665.4" r="1.85" fill="#00a53c"/>
<circle cx="1286.4" cy="580.3" r="1.85" fill="#00a53c"/>
<circle cx="1286.4" cy="585.8" r="1.85" fill="#00a53c"/>
<circle cx="1286.4" cy="596.5" r="1.85" fill="#00a53c"/>
<circle cx="1286.4" cy="620.9" r="1.85" fill="#00a53c"/>
<circle cx="1286.4" cy="642.5" r="1.85" fill="#00a53c"/>
<circle cx="1286.4" cy="674.9" r="1.85" fill="#00a53c"/>
<circle cx="1287.7" cy="647.4" r="1.85" fill="#00a53c"/>
<circle cx="1287.2" cy="651.0" r="1.85" fill="#00a53c"/>
<circle cx="1286.7" cy="654.6" r="1.85" fill="#00a53c"/>
<circle cx="1286.2" cy="658.2" r="1.85" fill="#00a53c"/>
<circle cx="1285.7" cy="661.8" r="1.85" fill="#00a53c"/>
<circle cx="1285.2" cy="665.4" r="1.85" fill="#00a53c"/>
<rect x="114.10" y="685.20" width="18.66" height="2.60" fill="#f26060"/>
<rect x="117.50" y="685.20" width="12.46" height="2.60" fill="#000"/>
<rect x="132.76" y="685.20" width="18.66" height="2.60" fill="#10a040"/>
<rect x="136.16" y="685.20" width="12.46" height="2.60" fill="#000"/>
<rect x="151.42" y="685.20" width="18.66" height="2.60" fill="#f26060"/>
<rect x="154.82" y="685.20" width="12.46" height="2.60" fill="#000"/>
<rect x="170.08" y="685.20" width="18.66" height="2.60" fill="#10a040"/>
<rect x="173.48" y="685.20" width="12.46" height="2.60" fill="#000"/>
<rect x="188.74" y="685.20" width="18.66" height="2.60" fill="#f26060"/>
<rect x="192.14" y="685.20" width="12.46" height="2.60" fill="#000"/>
<rect x="207.40" y="685.20" width="18.66" height="2.60" fill="#10a040"/>
<rect x="210.80" y="685.20" width="12.46" height="2.60" fill="#000"/>
<rect x="226.06" y="685.20" width="18.66" height="2.60" fill="#f26060"/>
<rect x="229.46" y="685.20" width="12.46" height="2.60" fill="#000"/>
<rect x="244.72" y="685.20" width="18.66" height="2.60" fill="#10a040"/>
<rect x="248.12" y="685.20" width="12.46" height="2.60" fill="#000"/>
<rect x="263.38" y="685.20" width="18.66" height="2.60" fill="#f26060"/>
<rect x="266.78" y="685.20" width="12.46" height="2.60" fill="#000"/>
<rect x="282.04" y="685.20" width="18.66" height="2.60" fill="#10a040"/>
<rect x="285.44" y="685.20" width="12.46" height="2.60" fill="#000"/>
<rect x="300.70" y="685.20" width="18.66" height="2.60" fill="#f26060"/>
<rect x="304.10" y="685.20" width="12.46" height="2.60" fill="#000"/>
<rect x="319.36" y="685.20" width="18.66" height="2.60" fill="#10a040"/>
<rect x="322.76" y="685.20" width="12.46" height="2.60" fill="#000"/>
<rect x="338.02" y="685.20" width="18.66" height="2.60" fill="#f26060"/>
<rect x="341.42" y="685.20" width="12.46" height="2.60" fill="#000"/>
<rect x="356.68" y="685.20" width="18.66" height="2.60" fill="#10a040"/>
<rect x="360.08" y="685.20" width="12.46" height="2.60" fill="#000"/>
<rect x="375.34" y="685.20" width="18.66" height="2.60" fill="#f26060"/>
<rect x="378.74" y="685.20" width="12.46" height="2.60" fill="#000"/>
<rect x="394.00" y="685.20" width="18.66" height="2.60" fill="#10a040"/>
<rect x="397.40" y="685.20" width="12.46" height="2.60" fill="#000"/>
<rect x="412.66" y="685.20" width="18.66" height="2.60" fill="#f26060"/>
<rect x="416.06" y="685.20" width="12.46" height="2.60" fill="#000"/>
<rect x="431.32" y="685.20" width="18.66" height="2.60" fill="#10a040"/>
<rect x="434.72" y="685.20" width="12.46" height="2.60" fill="#000"/>
<rect x="449.98" y="685.20" width="18.66" height="2.60" fill="#f26060"/>
<rect x="453.38" y="685.20" width="12.46" height="2.60" fill="#000"/>
<rect x="468.64" y="685.20" width="18.66" height="2.60" fill="#10a040"/>
<rect x="472.04" y="685.20" width="12.46" height="2.60" fill="#000"/>
<rect x="487.30" y="685.20" width="18.66" height="2.60" fill="#f26060"/>
<rect x="490.70" y="685.20" width="12.46" height="2.60" fill="#000"/>
<rect x="505.96" y="685.20" width="18.66" height="2.60" fill="#10a040"/>
<rect x="509.36" y="685.20" width="12.46" height="2.60" fill="#000"/>
<rect x="524.62" y="685.20" width="18.66" height="2.60" fill="#f26060"/>
<rect x="528.02" y="685.20" width="12.46" height="2.60" fill="#000"/>
<rect x="543.28" y="685.20" width="18.66" height="2.60" fill="#10a040"/>
<rect x="546.68" y="685.20" width="12.46" height="2.60" fill="#000"/>
<rect x="561.94" y="685.20" width="18.66" height="2.60" fill="#f26060"/>
<rect x="565.34" y="685.20" width="12.46" height="2.60" fill="#000"/>
<rect x="580.60" y="685.20" width="18.66" height="2.60" fill="#10a040"/>
<rect x="584.00" y="685.20" width="12.46" height="2.60" fill="#000"/>
<rect x="599.26" y="685.20" width="18.66" height="2.60" fill="#f26060"/>
<rect x="602.66" y="685.20" width="12.46" height="2.60" fill="#000"/>
<rect x="617.92" y="685.20" width="18.66" height="2.60" fill="#10a040"/>
<rect x="621.32" y="685.20" width="12.46" height="2.60" fill="#000"/>
<rect x="636.58" y="685.20" width="18.66" height="2.60" fill="#f26060"/>
<rect x="639.98" y="685.20" width="12.46" height="2.60" fill="#000"/>
<rect x="655.24" y="685.20" width="18.66" height="2.60" fill="#10a040"/>
<rect x="658.64" y="685.20" width="12.46" height="2.60" fill="#000"/>
<rect x="673.90" y="685.20" width="18.66" height="2.60" fill="#f26060"/>
<rect x="677.30" y="685.20" width="12.46" height="2.60" fill="#000"/>
<rect x="692.56" y="685.20" width="18.66" height="2.60" fill="#10a040"/>
<rect x="695.96" y="685.20" width="12.46" height="2.60" fill="#000"/>
<rect x="711.22" y="685.20" width="18.66" height="2.60" fill="#f26060"/>
<rect x="714.62" y="685.20" width="12.46" height="2.60" fill="#000"/>
<rect x="729.88" y="685.20" width="18.66" height="2.60" fill="#10a040"/>
<rect x="733.28" y="685.20" width="12.46" height="2.60" fill="#000"/>
<rect x="748.54" y="685.20" width="18.66" height="2.60" fill="#f26060"/>
<rect x="751.94" y="685.20" width="12.46" height="2.60" fill="#000"/>
<rect x="767.20" y="685.20" width="18.66" height="2.60" fill="#10a040"/>
<rect x="770.60" y="685.20" width="12.46" height="2.60" fill="#000"/>
<rect x="785.86" y="685.20" width="18.66" height="2.60" fill="#f26060"/>
<rect x="789.26" y="685.20" width="12.46" height="2.60" fill="#000"/>
<rect x="804.52" y="685.20" width="18.66" height="2.60" fill="#f26060"/>
<rect x="807.92" y="685.20" width="12.46" height="2.60" fill="#000"/>
<rect x="823.18" y="685.20" width="18.66" height="2.60" fill="#10a040"/>
<rect x="826.58" y="685.20" width="12.46" height="2.60" fill="#000"/>
<rect x="841.84" y="685.20" width="18.66" height="2.60" fill="#f26060"/>
<rect x="845.24" y="685.20" width="12.46" height="2.60" fill="#000"/>
<rect x="860.50" y="685.20" width="18.66" height="2.60" fill="#10a040"/>
<rect x="863.90" y="685.20" width="12.46" height="2.60" fill="#000"/>
<rect x="879.16" y="685.20" width="18.66" height="2.60" fill="#f26060"/>
<rect x="882.56" y="685.20" width="12.46" height="2.60" fill="#000"/>
<rect x="897.82" y="685.20" width="18.66" height="2.60" fill="#10a040"/>
<rect x="901.22" y="685.20" width="12.46" height="2.60" fill="#000"/>
<rect x="916.48" y="685.20" width="18.66" height="2.60" fill="#f26060"/>
<rect x="919.88" y="685.20" width="12.46" height="2.60" fill="#000"/>
<rect x="935.14" y="685.20" width="18.66" height="2.60" fill="#10a040"/>
<rect x="938.54" y="685.20" width="12.46" height="2.60" fill="#000"/>
<rect x="953.80" y="685.20" width="18.66" height="2.60" fill="#f26060"/>
<rect x="957.20" y="685.20" width="12.46" height="2.60" fill="#000"/>
<rect x="972.46" y="685.20" width="18.66" height="2.60" fill="#10a040"/>
<rect x="975.86" y="685.20" width="12.46" height="2.60" fill="#000"/>
<rect x="991.12" y="685.20" width="18.66" height="2.60" fill="#f26060"/>
<rect x="994.52" y="685.20" width="12.46" height="2.60" fill="#000"/>
<rect x="1009.78" y="685.20" width="18.66" height="2.60" fill="#10a040"/>
<rect x="1013.18" y="685.20" width="12.46" height="2.60" fill="#000"/>
<rect x="1028.44" y="685.20" width="18.66" height="2.60" fill="#f26060"/>
<rect x="1031.84" y="685.20" width="12.46" height="2.60" fill="#000"/>
<rect x="1047.10" y="685.20" width="18.66" height="2.60" fill="#10a040"/>
<rect x="1050.50" y="685.20" width="12.46" height="2.60" fill="#000"/>
<rect x="1065.76" y="685.20" width="18.66" height="2.60" fill="#f26060"/>
<rect x="1069.16" y="685.20" width="12.46" height="2.60" fill="#000"/>
<rect x="1084.42" y="685.20" width="18.66" height="2.60" fill="#10a040"/>
<rect x="1087.82" y="685.20" width="12.46" height="2.60" fill="#000"/>
<rect x="1103.08" y="685.20" width="18.66" height="2.60" fill="#f26060"/>
<rect x="1106.48" y="685.20" width="12.46" height="2.60" fill="#000"/>
<rect x="1121.74" y="685.20" width="18.66" height="2.60" fill="#10a040"/>
<rect x="1125.14" y="685.20" width="12.46" height="2.60" fill="#000"/>
<rect x="1140.40" y="685.20" width="18.66" height="2.60" fill="#f26060"/>
<rect x="1143.80" y="685.20" width="12.46" height="2.60" fill="#000"/>
<rect x="1159.06" y="685.20" width="18.66" height="2.60" fill="#10a040"/>
<rect x="1162.46" y="685.20" width="12.46" height="2.60" fill="#000"/>
<rect x="1177.72" y="685.20" width="18.66" height="2.60" fill="#f26060"/>
<rect x="1181.12" y="685.20" width="12.46" height="2.60" fill="#000"/>
<rect x="1196.38" y="685.20" width="18.66" height="2.60" fill="#10a040"/>
<rect x="1199.78" y="685.20" width="12.46" height="2.60" fill="#000"/>
<rect x="1215.04" y="685.20" width="18.66" height="2.60" fill="#f26060"/>
<rect x="1218.44" y="685.20" width="12.46" height="2.60" fill="#000"/>
<rect x="1233.70" y="685.20" width="18.66" height="2.60" fill="#10a040"/>
<rect x="1237.10" y="685.20" width="12.46" height="2.60" fill="#000"/>
<rect x="1252.36" y="685.20" width="18.66" height="2.60" fill="#f26060"/>
<rect x="1255.76" y="685.20" width="12.46" height="2.60" fill="#000"/>
<rect x="1271.02" y="685.20" width="18.66" height="2.60" fill="#10a040"/>
<rect x="1274.42" y="685.20" width="12.46" height="2.60" fill="#000"/>
<rect x="1289.68" y="685.20" width="18.66" height="2.60" fill="#f26060"/>
<rect x="1293.08" y="685.20" width="12.46" height="2.60" fill="#000"/>
<rect x="114.70" y="687.60" width="1194.10" height="2.20" fill="#222"/>
<line x1="114.70" y1="89.50" x2="114.70" y2="689.80" stroke="#111" stroke-width="2.2"/>
<line x1="113.10" y1="90.50" x2="1309.80" y2="90.50" stroke="#444" stroke-width="2.0"/>
<line x1="1308.80" y1="90.50" x2="1308.80" y2="689.80" stroke="#444" stroke-width="2.0"/>
<line x1="104.00" y1="90.45" x2="114.70" y2="90.45" stroke="#333" stroke-width="2.0"/>
<text x="98.90" y="101.70" font-size="26" text-anchor="end">48</text>
<line x1="104.00" y1="189.60" x2="114.70" y2="189.60" stroke="#333" stroke-width="2.0"/>
<text x="98.90" y="196.80" font-size="26" text-anchor="end">40</text>
<line x1="104.00" y1="289.30" x2="114.70" y2="289.30" stroke="#333" stroke-width="2.0"/>
<text x="98.90" y="298.30" font-size="26" text-anchor="end">32</text>
<line x1="104.00" y1="388.30" x2="114.70" y2="388.30" stroke="#333" stroke-width="2.0"/>
<text x="98.90" y="396.40" font-size="26" text-anchor="end">24</text>
<line x1="104.00" y1="487.10" x2="114.70" y2="487.10" stroke="#333" stroke-width="2.0"/>
<text x="98.90" y="496.40" font-size="26" text-anchor="end">16</text>
<line x1="104.00" y1="586.60" x2="114.70" y2="586.60" stroke="#333" stroke-width="2.0"/>
<text x="98.90" y="593.70" font-size="26" text-anchor="end">8</text>
<line x1="104.00" y1="686.50" x2="114.70" y2="686.50" stroke="#333" stroke-width="2.0"/>
<text x="98.90" y="685.80" font-size="26" text-anchor="end">0</text>
<text transform="translate(56.40,554.00) rotate(-90)" font-size="26" textLength="331" lengthAdjust="spacingAndGlyphs">Transcripts per million (TPM)</text>
<text transform="translate(141.30,80.50) rotate(-90)" font-size="26">ACC</text>
<text transform="translate(176.10,80.50) rotate(-90)" font-size="26">BLCA</text>
<text transform="translate(214.90,80.50) rotate(-90)" font-size="26">BRCA</text>
<text transform="translate(253.80,80.50) rotate(-90)" font-size="26">CESC</text>
<text transform="translate(294.70,80.50) rotate(-90)" font-size="26">CHOL</text>
<text transform="translate(329.40,80.50) rotate(-90)" font-size="26">COAD</text>
<text transform="translate(365.20,80.50) rotate(-90)" font-size="26">DLBC</text>
<text transform="translate(403.10,80.50) rotate(-90)" font-size="26">ESCA</text>
<text transform="translate(440.50,80.50) rotate(-90)" font-size="26">GBM</text>
<text transform="translate(476.30,80.50) rotate(-90)" font-size="26">HNSC</text>
<text transform="translate(517.20,80.50) rotate(-90)" font-size="26">KICH</text>
<text transform="translate(553.00,80.50) rotate(-90)" font-size="26">KIRC</text>
<text transform="translate(587.70,80.50) rotate(-90)" font-size="26">KIRP</text>
<text transform="translate(629.70,80.50) rotate(-90)" font-size="26">LAML</text>
<text transform="translate(662.40,80.50) rotate(-90)" font-size="26">LGG</text>
<text transform="translate(699.60,80.50) rotate(-90)" font-size="26">LIHC</text>
<text transform="translate(738.70,80.50) rotate(-90)" font-size="26">LUAD</text>
<text transform="translate(773.40,80.50) rotate(-90)" font-size="26">LUSC</text>
<text transform="translate(806.20,80.50) rotate(-90)" font-size="26">MESO</text>
<text transform="translate(834.80,80.50) rotate(-90)" font-size="26">OV</text>
<text transform="translate(869.60,80.50) rotate(-90)" font-size="26">PAAD</text>
<text transform="translate(908.40,80.50) rotate(-90)" font-size="26">PCPG</text>
<text transform="translate(946.20,80.50) rotate(-90)" font-size="26">PRAD</text>
<text transform="translate(986.10,80.50) rotate(-90)" font-size="26">PEAD</text>
<text transform="translate(1022.50,80.50) rotate(-90)" font-size="26">SARC</text>
<text transform="translate(1059.40,80.50) rotate(-90)" font-size="26">SKCM</text>
<text transform="translate(1096.20,80.50) rotate(-90)" font-size="26">STAD</text>
<text transform="translate(1133.00,80.50) rotate(-90)" font-size="26">TGCT</text>
<text transform="translate(1168.80,80.50) rotate(-90)" font-size="26">THCA</text>
<text transform="translate(1209.90,80.50) rotate(-90)" font-size="26">THYM</text>
<text transform="translate(1246.10,80.50) rotate(-90)" font-size="26">UCEC</text>
<text transform="translate(1281.40,80.50) rotate(-90)" font-size="26">UCS</text>
<text transform="translate(1307.60,80.50) rotate(-90)" font-size="26">UVM</text>
<text transform="translate(128.00,770.60) rotate(-90)" font-size="16.3">T (n=77)</text>
<text transform="translate(146.40,770.60) rotate(-90)" font-size="16.3">N (n=128)</text>
<text transform="translate(164.80,770.60) rotate(-90)" font-size="16.3">T (n=404)</text>
<text transform="translate(183.20,770.60) rotate(-90)" font-size="16.3">N (n=28)</text>
<text transform="translate(202.20,770.60) rotate(-90)" font-size="16.3">T (n=1085)</text>
<text transform="translate(220.60,770.60) rotate(-90)" font-size="16.3">N (n=291)</text>
<text transform="translate(239.00,770.60) rotate(-90)" font-size="16.3">T (n=306)</text>
<text transform="translate(257.50,770.60) rotate(-90)" font-size="16.3">N (n=13)</text>
<text transform="translate(275.20,770.60) rotate(-90)" font-size="16.3">T (n=36)</text>
<text transform="translate(293.60,770.60) rotate(-90)" font-size="16.3">N (n=9)</text>
<text transform="translate(310.80,770.60) rotate(-90)" font-size="16.3">T (n=275)</text>
<text transform="translate(329.80,770.60) rotate(-90)" font-size="16.3">N (n=349)</text>
<text transform="translate(347.60,770.60) rotate(-90)" font-size="16.3">T (n=47)</text>
<text transform="translate(366.00,770.60) rotate(-90)" font-size="16.3">N (n=337)</text>
<text transform="translate(383.20,770.60) rotate(-90)" font-size="16.3">T (n=182)</text>
<text transform="translate(402.20,770.60) rotate(-90)" font-size="16.3">N (n=286)</text>
<text transform="translate(421.30,770.60) rotate(-90)" font-size="16.3">T (n=163)</text>
<text transform="translate(439.70,770.60) rotate(-90)" font-size="16.3">N (n=207)</text>
<text transform="translate(460.60,770.60) rotate(-90)" font-size="16.3">T (n=519)</text>
<text transform="translate(479.60,770.60) rotate(-90)" font-size="16.3">N (n=44)</text>
<text transform="translate(497.40,770.60) rotate(-90)" font-size="16.3">T (n=66)</text>
<text transform="translate(516.90,770.60) rotate(-90)" font-size="16.3">N (n=53)</text>
<text transform="translate(534.30,770.60) rotate(-90)" font-size="16.3">T (n=523)</text>
<text transform="translate(552.70,770.60) rotate(-90)" font-size="16.3">N (n=100)</text>
<text transform="translate(574.20,770.60) rotate(-90)" font-size="16.3">T (n=286)</text>
<text transform="translate(593.40,770.60) rotate(-90)" font-size="16.3">N (n=60)</text>
<text transform="translate(610.50,770.60) rotate(-90)" font-size="16.3">T (n=173)</text>
<text transform="translate(628.90,770.60) rotate(-90)" font-size="16.3">N (n=70)</text>
<text transform="translate(650.30,770.60) rotate(-90)" font-size="16.3">T (n=518)</text>
<text transform="translate(668.70,770.60) rotate(-90)" font-size="16.3">N (n=207)</text>
<text transform="translate(689.00,770.60) rotate(-90)" font-size="16.3">T (n=369)</text>
<text transform="translate(708.00,770.60) rotate(-90)" font-size="16.3">N (n=160)</text>
<text transform="translate(728.90,770.60) rotate(-90)" font-size="16.3">T (n=483)</text>
<text transform="translate(747.30,770.60) rotate(-90)" font-size="16.3">N (n=347)</text>
<text transform="translate(764.10,770.60) rotate(-90)" font-size="16.3">T (n=486)</text>
<text transform="translate(782.90,770.60) rotate(-90)" font-size="16.3">N (n=338)</text>
<text transform="translate(800.70,770.60) rotate(-90)" font-size="16.3">T (n=87)</text>
<text transform="translate(820.90,770.60) rotate(-90)" font-size="16.3">T (n=426)</text>
<text transform="translate(840.00,770.60) rotate(-90)" font-size="16.3">N (n=88)</text>
<text transform="translate(858.40,770.60) rotate(-90)" font-size="16.3">T (n=179)</text>
<text transform="translate(876.20,770.60) rotate(-90)" font-size="16.3">N (n=171)</text>
<text transform="translate(893.30,770.60) rotate(-90)" font-size="16.3">T (n=182)</text>
<text transform="translate(911.70,770.60) rotate(-90)" font-size="16.3">N (n=3)</text>
<text transform="translate(928.90,770.60) rotate(-90)" font-size="16.3">T (n=492)</text>
<text transform="translate(947.40,770.60) rotate(-90)" font-size="16.3">N (n=152)</text>
<text transform="translate(966.40,770.60) rotate(-90)" font-size="16.3">T (n=92)</text>
<text transform="translate(984.80,770.60) rotate(-90)" font-size="16.3">N (n=318)</text>
<text transform="translate(1002.00,770.60) rotate(-90)" font-size="16.3">T (n=262)</text>
<text transform="translate(1020.40,770.60) rotate(-90)" font-size="16.3">N (n=2)</text>
<text transform="translate(1040.00,770.60) rotate(-90)" font-size="16.3">T (n=461)</text>
<text transform="translate(1058.40,770.60) rotate(-90)" font-size="16.3">N (n=558)</text>
<text transform="translate(1081.70,770.60) rotate(-90)" font-size="16.3">T (n=408)</text>
<text transform="translate(1100.20,770.60) rotate(-90)" font-size="16.3">N (n=211)</text>
<text transform="translate(1119.20,770.60) rotate(-90)" font-size="16.3">T (n=137)</text>
<text transform="translate(1137.60,770.60) rotate(-90)" font-size="16.3">N (n=165)</text>
<text transform="translate(1157.30,770.60) rotate(-90)" font-size="16.3">T (n=512)</text>
<text transform="translate(1176.30,770.60) rotate(-90)" font-size="16.3">N (n=337)</text>
<text transform="translate(1194.70,770.60) rotate(-90)" font-size="16.3">T (n=118)</text>
<text transform="translate(1213.80,770.60) rotate(-90)" font-size="16.3">N (n=339)</text>
<text transform="translate(1233.80,770.60) rotate(-90)" font-size="16.3">T (n=174)</text>
<text transform="translate(1252.60,770.60) rotate(-90)" font-size="16.3">N (n=91)</text>
<text transform="translate(1268.80,770.60) rotate(-90)" font-size="16.3">T (n=57)</text>
<text transform="translate(1287.80,770.60) rotate(-90)" font-size="16.3">N (n=78)</text>
<text transform="translate(1308.60,770.60) rotate(-90)" font-size="16.3">T (n=79)</text>
<circle cx="1345.10" cy="123.20" r="6.8" fill="#ff0000"/>
<circle cx="1345.10" cy="165.10" r="6.8" fill="#00913f"/>
<text x="1367.90" y="131.90" font-size="26">Tumor</text>
<text x="1367.90" y="173.50" font-size="26">Normal</text>
<text x="1.00" y="18.50" font-size="25" font-weight="bold">(a)</text>
<line x1="147.10" y1="846.80" x2="147.10" y2="1109.00" stroke="#000" stroke-width="2.4"/>
<line x1="146.10" y1="1108.00" x2="505.00" y2="1108.00" stroke="#000" stroke-width="2.4"/>
<line x1="133.00" y1="847.80" x2="147.10" y2="847.80" stroke="#000" stroke-width="2.2"/>
<text x="129.40" y="854.60" font-size="26.8" text-anchor="end" textLength="34.75" lengthAdjust="spacingAndGlyphs">2.0</text>
<line x1="133.00" y1="913.40" x2="147.10" y2="913.40" stroke="#000" stroke-width="2.2"/>
<text x="129.40" y="920.20" font-size="26.8" text-anchor="end" textLength="34.75" lengthAdjust="spacingAndGlyphs">1.5</text>
<line x1="133.00" y1="978.60" x2="147.10" y2="978.60" stroke="#000" stroke-width="2.2"/>
<text x="129.40" y="985.40" font-size="26.8" text-anchor="end" textLength="34.75" lengthAdjust="spacingAndGlyphs">1.0</text>
<line x1="133.00" y1="1043.50" x2="147.10" y2="1043.50" stroke="#000" stroke-width="2.2"/>
<text x="129.40" y="1050.30" font-size="26.8" text-anchor="end" textLength="34.75" lengthAdjust="spacingAndGlyphs">0.5</text>
<line x1="133.00" y1="1108.00" x2="147.10" y2="1108.00" stroke="#000" stroke-width="2.2"/>
<text x="129.40" y="1114.80" font-size="26.8" text-anchor="end" textLength="34.75" lengthAdjust="spacingAndGlyphs">0.0</text>
<line x1="246.40" y1="1108.00" x2="246.40" y2="1121.50" stroke="#000" stroke-width="2.4"/>
<line x1="427.90" y1="1108.00" x2="427.90" y2="1121.50" stroke="#000" stroke-width="2.4"/>
<circle cx="246.40" cy="869.80" r="7.0" fill="#f44242"/>
<circle cx="246.40" cy="914.80" r="7.0" fill="#f44242"/>
<circle cx="266.90" cy="946.00" r="7.0" fill="#f44242"/>
<circle cx="246.40" cy="953.10" r="7.0" fill="#f44242"/>
<circle cx="225.10" cy="976.80" r="7.0" fill="#f44242"/>
<circle cx="246.40" cy="994.50" r="7.0" fill="#f44242"/>
<circle cx="225.10" cy="1007.30" r="7.0" fill="#f44242"/>
<circle cx="288.90" cy="1005.50" r="7.0" fill="#f44242"/>
<circle cx="266.90" cy="1018.60" r="7.0" fill="#f44242"/>
<circle cx="246.40" cy="1025.00" r="7.0" fill="#f44242"/>
<rect x="367.50" y="991.95" width="14.20" height="14.20" fill="#0000ff"/>
<rect x="367.50" y="1019.15" width="14.20" height="14.20" fill="#0000ff"/>
<rect x="367.50" y="1048.40" width="14.20" height="14.20" fill="#0000ff"/>
<rect x="367.50" y="1070.30" width="14.20" height="14.20" fill="#0000ff"/>
<rect x="367.50" y="1077.70" width="14.20" height="14.20" fill="#0000ff"/>
<rect x="367.50" y="1085.10" width="14.20" height="14.20" fill="#0000ff"/>
<rect x="378.10" y="978.90" width="14.20" height="14.20" fill="#0000ff"/>
<rect x="378.10" y="1003.00" width="14.20" height="14.20" fill="#0000ff"/>
<rect x="378.10" y="1014.39" width="14.20" height="14.20" fill="#0000ff"/>
<rect x="378.10" y="1025.78" width="14.20" height="14.20" fill="#0000ff"/>
<rect x="378.10" y="1037.16" width="14.20" height="14.20" fill="#0000ff"/>
<rect x="378.10" y="1048.55" width="14.20" height="14.20" fill="#0000ff"/>
<rect x="378.10" y="1059.94" width="14.20" height="14.20" fill="#0000ff"/>
<rect x="378.10" y="1071.33" width="14.20" height="14.20" fill="#0000ff"/>
<rect x="378.10" y="1082.71" width="14.20" height="14.20" fill="#0000ff"/>
<rect x="378.10" y="1094.10" width="14.20" height="14.20" fill="#0000ff"/>
<rect x="388.70" y="998.30" width="14.20" height="14.20" fill="#0000ff"/>
<rect x="388.70" y="1009.15" width="14.20" height="14.20" fill="#0000ff"/>
<rect x="388.70" y="1020.00" width="14.20" height="14.20" fill="#0000ff"/>
<rect x="388.70" y="1030.85" width="14.20" height="14.20" fill="#0000ff"/>
<rect x="388.70" y="1041.70" width="14.20" height="14.20" fill="#0000ff"/>
<rect x="388.70" y="1052.55" width="14.20" height="14.20" fill="#0000ff"/>
<rect x="388.70" y="1063.40" width="14.20" height="14.20" fill="#0000ff"/>
<rect x="388.70" y="1074.25" width="14.20" height="14.20" fill="#0000ff"/>
<rect x="388.70" y="1085.10" width="14.20" height="14.20" fill="#0000ff"/>
<rect x="399.30" y="938.80" width="14.20" height="14.20" fill="#0000ff"/>
<rect x="399.30" y="980.10" width="14.20" height="14.20" fill="#0000ff"/>
<rect x="399.30" y="1008.00" width="14.20" height="14.20" fill="#0000ff"/>
<rect x="399.30" y="1019.57" width="14.20" height="14.20" fill="#0000ff"/>
<rect x="399.30" y="1031.15" width="14.20" height="14.20" fill="#0000ff"/>
<rect x="399.30" y="1042.73" width="14.20" height="14.20" fill="#0000ff"/>
<rect x="399.30" y="1054.30" width="14.20" height="14.20" fill="#0000ff"/>
<rect x="399.30" y="1065.88" width="14.20" height="14.20" fill="#0000ff"/>
<rect x="399.30" y="1077.45" width="14.20" height="14.20" fill="#0000ff"/>
<rect x="399.30" y="1089.03" width="14.20" height="14.20" fill="#0000ff"/>
<rect x="399.30" y="1100.60" width="14.20" height="14.20" fill="#0000ff"/>
<rect x="409.90" y="972.30" width="14.20" height="14.20" fill="#0000ff"/>
<rect x="409.90" y="1002.40" width="14.20" height="14.20" fill="#0000ff"/>
<rect x="409.90" y="1013.30" width="14.20" height="14.20" fill="#0000ff"/>
<rect x="409.90" y="1024.20" width="14.20" height="14.20" fill="#0000ff"/>
<rect x="409.90" y="1035.10" width="14.20" height="14.20" fill="#0000ff"/>
<rect x="409.90" y="1046.00" width="14.20" height="14.20" fill="#0000ff"/>
<rect x="409.90" y="1056.90" width="14.20" height="14.20" fill="#0000ff"/>
<rect x="409.90" y="1067.80" width="14.20" height="14.20" fill="#0000ff"/>
<rect x="409.90" y="1078.70" width="14.20" height="14.20" fill="#0000ff"/>
<rect x="409.90" y="1089.60" width="14.20" height="14.20" fill="#0000ff"/>
<rect x="420.50" y="917.30" width="14.20" height="14.20" fill="#0000ff"/>
<rect x="420.50" y="959.70" width="14.20" height="14.20" fill="#0000ff"/>
<rect x="420.50" y="969.47" width="14.20" height="14.20" fill="#0000ff"/>
<rect x="420.50" y="979.23" width="14.20" height="14.20" fill="#0000ff"/>
<rect x="420.50" y="989.00" width="14.20" height="14.20" fill="#0000ff"/>
<rect x="420.50" y="1012.60" width="14.20" height="14.20" fill="#0000ff"/>
<rect x="420.50" y="1023.60" width="14.20" height="14.20" fill="#0000ff"/>
<rect x="420.50" y="1034.60" width="14.20" height="14.20" fill="#0000ff"/>
<rect x="420.50" y="1045.60" width="14.20" height="14.20" fill="#0000ff"/>
<rect x="420.50" y="1056.60" width="14.20" height="14.20" fill="#0000ff"/>
<rect x="420.50" y="1067.60" width="14.20" height="14.20" fill="#0000ff"/>
<rect x="420.50" y="1078.60" width="14.20" height="14.20" fill="#0000ff"/>
<rect x="420.50" y="1089.60" width="14.20" height="14.20" fill="#0000ff"/>
<rect x="420.50" y="1100.60" width="14.20" height="14.20" fill="#0000ff"/>
<rect x="431.10" y="972.30" width="14.20" height="14.20" fill="#0000ff"/>
<rect x="431.10" y="1002.80" width="14.20" height="14.20" fill="#0000ff"/>
<rect x="431.10" y="1014.36" width="14.20" height="14.20" fill="#0000ff"/>
<rect x="431.10" y="1025.93" width="14.20" height="14.20" fill="#0000ff"/>
<rect x="431.10" y="1037.49" width="14.20" height="14.20" fill="#0000ff"/>
<rect x="431.10" y="1049.05" width="14.20" height="14.20" fill="#0000ff"/>
<rect x="431.10" y="1060.61" width="14.20" height="14.20" fill="#0000ff"/>
<rect x="431.10" y="1072.18" width="14.20" height="14.20" fill="#0000ff"/>
<rect x="431.10" y="1083.74" width="14.20" height="14.20" fill="#0000ff"/>
<rect x="431.10" y="1095.30" width="14.20" height="14.20" fill="#0000ff"/>
<rect x="441.70" y="951.50" width="14.20" height="14.20" fill="#0000ff"/>
<rect x="441.70" y="978.90" width="14.20" height="14.20" fill="#0000ff"/>
<rect x="441.70" y="998.30" width="14.20" height="14.20" fill="#0000ff"/>
<rect x="441.70" y="1009.67" width="14.20" height="14.20" fill="#0000ff"/>
<rect x="441.70" y="1021.03" width="14.20" height="14.20" fill="#0000ff"/>
<rect x="441.70" y="1032.40" width="14.20" height="14.20" fill="#0000ff"/>
<rect x="441.70" y="1043.77" width="14.20" height="14.20" fill="#0000ff"/>
<rect x="441.70" y="1055.13" width="14.20" height="14.20" fill="#0000ff"/>
<rect x="441.70" y="1066.50" width="14.20" height="14.20" fill="#0000ff"/>
<rect x="441.70" y="1077.87" width="14.20" height="14.20" fill="#0000ff"/>
<rect x="441.70" y="1089.23" width="14.20" height="14.20" fill="#0000ff"/>
<rect x="441.70" y="1100.60" width="14.20" height="14.20" fill="#0000ff"/>
<rect x="452.30" y="998.70" width="14.20" height="14.20" fill="#0000ff"/>
<rect x="452.30" y="1022.25" width="14.20" height="14.20" fill="#0000ff"/>
<rect x="452.30" y="1054.15" width="14.20" height="14.20" fill="#0000ff"/>
<rect x="452.30" y="1071.00" width="14.20" height="14.20" fill="#0000ff"/>
<rect x="452.30" y="1078.25" width="14.20" height="14.20" fill="#0000ff"/>
<rect x="452.30" y="1085.50" width="14.20" height="14.20" fill="#0000ff"/>
<rect x="382.00" y="1051.40" width="6.50" height="4.60" fill="#fff"/>
<rect x="393.40" y="1012.20" width="6.20" height="2.40" fill="#fff"/>
<rect x="403.30" y="1028.50" width="6.50" height="3.30" fill="#fff"/>
<rect x="424.10" y="1030.20" width="6.90" height="3.20" fill="#fff"/>
<rect x="439.30" y="1021.20" width="4.90" height="5.70" fill="#fff"/>
<rect x="445.00" y="1030.20" width="7.30" height="1.60" fill="#fff"/>
<rect x="382.00" y="1091.50" width="6.50" height="2.50" fill="#fff"/>
<rect x="403.30" y="1092.00" width="6.50" height="8.50" fill="#fff"/>
<rect x="408.60" y="1042.40" width="11.80" height="3.30" fill="#fff"/>
<rect x="439.30" y="1091.50" width="4.90" height="1.70" fill="#fff"/>
<rect x="424.10" y="1097.30" width="6.90" height="3.20" fill="#fff"/>
<rect x="424.10" y="973.70" width="6.90" height="8.20" fill="#fff"/>
<line x1="179.00" y1="971.50" x2="312.70" y2="971.50" stroke="#f44242" stroke-width="2.2"/>
<line x1="212.70" y1="955.20" x2="280.00" y2="955.20" stroke="#f44242" stroke-width="2.2"/>
<line x1="212.70" y1="987.10" x2="280.00" y2="987.10" stroke="#f44242" stroke-width="2.2"/>
<line x1="246.35" y1="955.20" x2="246.35" y2="987.10" stroke="#f44242" stroke-width="2.2"/>
<line x1="361.60" y1="1047.70" x2="494.50" y2="1047.70" stroke="#0000ff" stroke-width="2.2"/>
<text x="241.40" y="1142.70" font-size="25.5" text-anchor="middle" textLength="153" lengthAdjust="spacingAndGlyphs">rhinitis tissue</text>
<text x="245.10" y="1168.60" font-size="25.5" text-anchor="middle">(10)</text>
<text x="424.00" y="1142.70" font-size="25.5" text-anchor="middle" textLength="130.5" lengthAdjust="spacingAndGlyphs">NPC tissue</text>
<text x="427.90" y="1168.60" font-size="25.5" text-anchor="middle">(92)</text>
<polyline points="245.6,849.3 245.6,836.2 438.8,836.2 438.8,849.3" fill="none" stroke="#000" stroke-width="2.2"/>
<text x="342.90" y="835.60" font-size="24" text-anchor="middle">**</text>
<text transform="translate(66.20,1139.50) rotate(-90)" font-size="27.5" textLength="330.0" lengthAdjust="spacingAndGlyphs">Relative expression of FAS-AS1</text>
<text transform="translate(91.60,1030.50) rotate(-90)" font-size="26" textLength="103.2" lengthAdjust="spacingAndGlyphs">2^-ΔΔCt</text>
<text x="0.80" y="805.60" font-size="25" font-weight="bold">(b)</text>
<line x1="656.40" y1="846.80" x2="656.40" y2="1108.30" stroke="#000" stroke-width="2.4"/>
<line x1="655.40" y1="1107.30" x2="1009.80" y2="1107.30" stroke="#000" stroke-width="2.4"/>
<line x1="641.70" y1="847.80" x2="656.40" y2="847.80" stroke="#000" stroke-width="2.2"/>
<text x="638.00" y="854.60" font-size="26.8" text-anchor="end" textLength="34.75" lengthAdjust="spacingAndGlyphs">2.5</text>
<line x1="641.70" y1="899.70" x2="656.40" y2="899.70" stroke="#000" stroke-width="2.2"/>
<text x="638.00" y="906.50" font-size="26.8" text-anchor="end" textLength="34.75" lengthAdjust="spacingAndGlyphs">2.0</text>
<line x1="641.70" y1="952.00" x2="656.40" y2="952.00" stroke="#000" stroke-width="2.2"/>
<text x="638.00" y="958.80" font-size="26.8" text-anchor="end" textLength="34.75" lengthAdjust="spacingAndGlyphs">1.5</text>
<line x1="641.70" y1="1003.50" x2="656.40" y2="1003.50" stroke="#000" stroke-width="2.2"/>
<text x="638.00" y="1010.30" font-size="26.8" text-anchor="end" textLength="34.75" lengthAdjust="spacingAndGlyphs">1.0</text>
<line x1="641.70" y1="1055.70" x2="656.40" y2="1055.70" stroke="#000" stroke-width="2.2"/>
<text x="638.00" y="1062.50" font-size="26.8" text-anchor="end" textLength="34.75" lengthAdjust="spacingAndGlyphs">0.5</text>
<line x1="641.70" y1="1107.30" x2="656.40" y2="1107.30" stroke="#000" stroke-width="2.2"/>
<text x="638.00" y="1114.10" font-size="26.8" text-anchor="end" textLength="34.75" lengthAdjust="spacingAndGlyphs">0.0</text>
<line x1="754.00" y1="1107.30" x2="754.00" y2="1120.80" stroke="#000" stroke-width="2.4"/>
<line x1="935.40" y1="1107.30" x2="935.40" y2="1120.80" stroke="#000" stroke-width="2.4"/>
<circle cx="754.00" cy="877.60" r="7.0" fill="#f44242"/>
<circle cx="775.30" cy="871.70" r="7.0" fill="#f44242"/>
<circle cx="754.00" cy="972.20" r="7.0" fill="#f44242"/>
<circle cx="775.30" cy="991.30" r="7.0" fill="#f44242"/>
<circle cx="754.00" cy="1000.50" r="7.0" fill="#f44242"/>
<circle cx="732.60" cy="1031.10" r="7.0" fill="#f44242"/>
<circle cx="775.30" cy="1029.60" r="7.0" fill="#f44242"/>
<circle cx="754.00" cy="1044.70" r="7.0" fill="#f44242"/>
<circle cx="754.00" cy="1069.00" r="7.0" fill="#f44242"/>
<rect x="875.50" y="1043.20" width="14.20" height="14.20" fill="#0000ff"/>
<rect x="875.50" y="1071.20" width="14.20" height="14.20" fill="#0000ff"/>
<rect x="875.50" y="1082.80" width="14.20" height="14.20" fill="#0000ff"/>
<rect x="886.00" y="973.00" width="14.20" height="14.20" fill="#0000ff"/>
<rect x="886.00" y="1008.30" width="14.20" height="14.20" fill="#0000ff"/>
<rect x="886.00" y="1029.80" width="14.20" height="14.20" fill="#0000ff"/>
<rect x="886.00" y="1054.00" width="14.20" height="14.20" fill="#0000ff"/>
<rect x="886.00" y="1063.83" width="14.20" height="14.20" fill="#0000ff"/>
<rect x="886.00" y="1073.65" width="14.20" height="14.20" fill="#0000ff"/>
<rect x="886.00" y="1083.47" width="14.20" height="14.20" fill="#0000ff"/>
<rect x="886.00" y="1093.30" width="14.20" height="14.20" fill="#0000ff"/>
<rect x="896.50" y="1017.40" width="14.20" height="14.20" fill="#0000ff"/>
<rect x="896.50" y="1049.30" width="14.20" height="14.20" fill="#0000ff"/>
<rect x="896.50" y="1058.62" width="14.20" height="14.20" fill="#0000ff"/>
<rect x="896.50" y="1067.95" width="14.20" height="14.20" fill="#0000ff"/>
<rect x="896.50" y="1077.27" width="14.20" height="14.20" fill="#0000ff"/>
<rect x="896.50" y="1086.60" width="14.20" height="14.20" fill="#0000ff"/>
<rect x="907.00" y="989.90" width="14.20" height="14.20" fill="#0000ff"/>
<rect x="907.00" y="1010.70" width="14.20" height="14.20" fill="#0000ff"/>
<rect x="907.00" y="1033.60" width="14.20" height="14.20" fill="#0000ff"/>
<rect x="907.00" y="1053.10" width="14.20" height="14.20" fill="#0000ff"/>
<rect x="907.00" y="1064.92" width="14.20" height="14.20" fill="#0000ff"/>
<rect x="907.00" y="1076.75" width="14.20" height="14.20" fill="#0000ff"/>
<rect x="907.00" y="1088.57" width="14.20" height="14.20" fill="#0000ff"/>
<rect x="907.00" y="1100.40" width="14.20" height="14.20" fill="#0000ff"/>
<rect x="917.50" y="1006.90" width="14.20" height="14.20" fill="#0000ff"/>
<rect x="917.50" y="1025.00" width="14.20" height="14.20" fill="#0000ff"/>
<rect x="917.50" y="1035.43" width="14.20" height="14.20" fill="#0000ff"/>
<rect x="917.50" y="1045.87" width="14.20" height="14.20" fill="#0000ff"/>
<rect x="917.50" y="1056.30" width="14.20" height="14.20" fill="#0000ff"/>
<rect x="917.50" y="1066.73" width="14.20" height="14.20" fill="#0000ff"/>
<rect x="917.50" y="1077.17" width="14.20" height="14.20" fill="#0000ff"/>
<rect x="917.50" y="1087.60" width="14.20" height="14.20" fill="#0000ff"/>
<rect x="928.00" y="953.90" width="14.20" height="14.20" fill="#0000ff"/>
<rect x="928.00" y="991.60" width="14.20" height="14.20" fill="#0000ff"/>
<rect x="928.00" y="1012.40" width="14.20" height="14.20" fill="#0000ff"/>
<rect x="928.00" y="1037.80" width="14.20" height="14.20" fill="#0000ff"/>
<rect x="928.00" y="1048.23" width="14.20" height="14.20" fill="#0000ff"/>
<rect x="928.00" y="1058.67" width="14.20" height="14.20" fill="#0000ff"/>
<rect x="928.00" y="1069.10" width="14.20" height="14.20" fill="#0000ff"/>
<rect x="928.00" y="1079.53" width="14.20" height="14.20" fill="#0000ff"/>
<rect x="928.00" y="1089.97" width="14.20" height="14.20" fill="#0000ff"/>
<rect x="928.00" y="1100.40" width="14.20" height="14.20" fill="#0000ff"/>
<rect x="938.50" y="1008.30" width="14.20" height="14.20" fill="#0000ff"/>
<rect x="938.50" y="1017.00" width="14.20" height="14.20" fill="#0000ff"/>
<rect x="938.50" y="1037.80" width="14.20" height="14.20" fill="#0000ff"/>
<rect x="938.50" y="1047.76" width="14.20" height="14.20" fill="#0000ff"/>
<rect x="938.50" y="1057.72" width="14.20" height="14.20" fill="#0000ff"/>
<rect x="938.50" y="1067.68" width="14.20" height="14.20" fill="#0000ff"/>
<rect x="938.50" y="1077.64" width="14.20" height="14.20" fill="#0000ff"/>
<rect x="938.50" y="1087.60" width="14.20" height="14.20" fill="#0000ff"/>
<rect x="949.00" y="934.35" width="14.20" height="14.20" fill="#0000ff"/>
<rect x="949.00" y="988.50" width="14.20" height="14.20" fill="#0000ff"/>
<rect x="949.00" y="1008.70" width="14.20" height="14.20" fill="#0000ff"/>
<rect x="949.00" y="1032.85" width="14.20" height="14.20" fill="#0000ff"/>
<rect x="949.00" y="1053.10" width="14.20" height="14.20" fill="#0000ff"/>
<rect x="949.00" y="1064.92" width="14.20" height="14.20" fill="#0000ff"/>
<rect x="949.00" y="1076.75" width="14.20" height="14.20" fill="#0000ff"/>
<rect x="949.00" y="1088.57" width="14.20" height="14.20" fill="#0000ff"/>
<rect x="949.00" y="1100.40" width="14.20" height="14.20" fill="#0000ff"/>
<rect x="959.50" y="1002.80" width="14.20" height="14.20" fill="#0000ff"/>
<rect x="959.50" y="1051.20" width="14.20" height="14.20" fill="#0000ff"/>
<rect x="959.50" y="1060.30" width="14.20" height="14.20" fill="#0000ff"/>
<rect x="959.50" y="1069.40" width="14.20" height="14.20" fill="#0000ff"/>
<rect x="959.50" y="1078.50" width="14.20" height="14.20" fill="#0000ff"/>
<rect x="959.50" y="1087.60" width="14.20" height="14.20" fill="#0000ff"/>
<rect x="970.00" y="1010.95" width="14.20" height="14.20" fill="#0000ff"/>
<rect x="970.00" y="1026.70" width="14.20" height="14.20" fill="#0000ff"/>
<rect x="970.00" y="1056.90" width="14.20" height="14.20" fill="#0000ff"/>
<rect x="970.00" y="1067.78" width="14.20" height="14.20" fill="#0000ff"/>
<rect x="970.00" y="1078.65" width="14.20" height="14.20" fill="#0000ff"/>
<rect x="970.00" y="1089.52" width="14.20" height="14.20" fill="#0000ff"/>
<rect x="970.00" y="1100.40" width="14.20" height="14.20" fill="#0000ff"/>
<rect x="980.50" y="1046.25" width="14.20" height="14.20" fill="#0000ff"/>
<rect x="980.50" y="1069.80" width="14.20" height="14.20" fill="#0000ff"/>
<rect x="980.50" y="1077.75" width="14.20" height="14.20" fill="#0000ff"/>
<rect x="980.50" y="1085.70" width="14.20" height="14.20" fill="#0000ff"/>
<rect x="899.50" y="1064.00" width="3.50" height="9.00" fill="#fff"/>
<rect x="920.50" y="1066.00" width="4.00" height="10.00" fill="#fff"/>
<rect x="946.00" y="1067.00" width="4.00" height="6.00" fill="#fff"/>
<rect x="967.00" y="1065.00" width="4.00" height="6.00" fill="#fff"/>
<rect x="910.80" y="1094.10" width="6.70" height="6.70" fill="#fff"/>
<rect x="931.80" y="1098.40" width="6.70" height="1.90" fill="#fff"/>
<rect x="952.80" y="1094.10" width="6.70" height="6.70" fill="#fff"/>
<rect x="974.70" y="1093.20" width="6.20" height="4.80" fill="#fff"/>
<line x1="687.70" y1="987.60" x2="820.20" y2="987.60" stroke="#f44242" stroke-width="2.2"/>
<line x1="720.80" y1="963.70" x2="787.80" y2="963.70" stroke="#f44242" stroke-width="2.2"/>
<line x1="720.80" y1="1010.80" x2="787.80" y2="1010.80" stroke="#f44242" stroke-width="2.2"/>
<line x1="754.30" y1="963.70" x2="754.30" y2="1010.80" stroke="#f44242" stroke-width="2.2"/>
<line x1="869.20" y1="1058.00" x2="1001.30" y2="1058.00" stroke="#0000ff" stroke-width="2.2"/>
<text x="754.50" y="1146.30" font-size="25.5" text-anchor="middle" textLength="142.4" lengthAdjust="spacingAndGlyphs">stage1-2 (9)</text>
<text x="937.10" y="1146.30" font-size="25.5" text-anchor="middle" textLength="156.4" lengthAdjust="spacingAndGlyphs">stage3-4 (75)</text>
<polyline points="751.9,859.3 751.9,846.2 950.7,846.2 950.7,859.3" fill="none" stroke="#000" stroke-width="2.2"/>
<text x="853.60" y="844.70" font-size="24" text-anchor="middle">**</text>
<text transform="translate(570.00,1156.20) rotate(-90)" font-size="27.5" textLength="331.2" lengthAdjust="spacingAndGlyphs">Relative expression of FAS-AS1</text>
<text transform="translate(597.20,1025.60) rotate(-90)" font-size="26" textLength="103.1" lengthAdjust="spacingAndGlyphs">2^-ΔΔCt</text>
<text x="504.50" y="805.70" font-size="25" font-weight="bold">(c)</text>
<line x1="1158.10" y1="844.20" x2="1158.10" y2="1109.70" stroke="#000" stroke-width="2.4"/>
<line x1="1157.10" y1="1108.70" x2="1512.00" y2="1108.70" stroke="#000" stroke-width="2.4"/>
<line x1="1143.30" y1="845.20" x2="1158.10" y2="845.20" stroke="#000" stroke-width="2.2"/>
<text x="1140.00" y="852.00" font-size="26.8" text-anchor="end" textLength="13.9" lengthAdjust="spacingAndGlyphs">4</text>
<line x1="1143.30" y1="910.90" x2="1158.10" y2="910.90" stroke="#000" stroke-width="2.2"/>
<text x="1140.00" y="917.70" font-size="26.8" text-anchor="end" textLength="13.9" lengthAdjust="spacingAndGlyphs">3</text>
<line x1="1143.30" y1="977.30" x2="1158.10" y2="977.30" stroke="#000" stroke-width="2.2"/>
<text x="1140.00" y="984.10" font-size="26.8" text-anchor="end" textLength="13.9" lengthAdjust="spacingAndGlyphs">2</text>
<line x1="1143.30" y1="1043.00" x2="1158.10" y2="1043.00" stroke="#000" stroke-width="2.2"/>
<text x="1140.00" y="1049.80" font-size="26.8" text-anchor="end" textLength="13.9" lengthAdjust="spacingAndGlyphs">1</text>
<line x1="1143.30" y1="1108.70" x2="1158.10" y2="1108.70" stroke="#000" stroke-width="2.2"/>
<text x="1140.00" y="1115.50" font-size="26.8" text-anchor="end" textLength="13.9" lengthAdjust="spacingAndGlyphs">0</text>
<line x1="1256.70" y1="1108.70" x2="1256.70" y2="1122.20" stroke="#000" stroke-width="2.4"/>
<line x1="1439.00" y1="1108.70" x2="1439.00" y2="1122.20" stroke="#000" stroke-width="2.4"/>
<circle cx="1256.67" cy="870.50" r="7.0" fill="#f44242"/>
<circle cx="1235.62" cy="936.71" r="7.0" fill="#f44242"/>
<circle cx="1256.67" cy="957.21" r="7.0" fill="#f44242"/>
<circle cx="1214.57" cy="988.73" r="7.0" fill="#f44242"/>
<circle cx="1235.62" cy="994.51" r="7.0" fill="#f44242"/>
<circle cx="1256.67" cy="997.45" r="7.0" fill="#f44242"/>
<circle cx="1277.83" cy="994.73" r="7.0" fill="#f44242"/>
<circle cx="1298.88" cy="992.33" r="7.0" fill="#f44242"/>
<circle cx="1214.57" cy="1013.27" r="7.0" fill="#f44242"/>
<circle cx="1235.62" cy="1017.19" r="7.0" fill="#f44242"/>
<circle cx="1256.67" cy="1021.23" r="7.0" fill="#f44242"/>
<circle cx="1277.83" cy="1016.32" r="7.0" fill="#f44242"/>
<circle cx="1298.88" cy="1011.41" r="7.0" fill="#f44242"/>
<circle cx="1288.30" cy="1025.59" r="7.0" fill="#f44242"/>
<circle cx="1246.20" cy="1029.08" r="7.0" fill="#f44242"/>
<circle cx="1267.25" cy="1029.41" r="7.0" fill="#f44242"/>
<circle cx="1214.57" cy="1035.08" r="7.0" fill="#f44242"/>
<circle cx="1298.88" cy="1038.46" r="7.0" fill="#f44242"/>
<circle cx="1235.62" cy="1043.59" r="7.0" fill="#f44242"/>
<circle cx="1256.67" cy="1043.59" r="7.0" fill="#f44242"/>
<circle cx="1277.83" cy="1043.59" r="7.0" fill="#f44242"/>
<circle cx="1251.44" cy="1057.22" r="7.0" fill="#f44242"/>
<circle cx="1203.78" cy="1060.49" r="7.0" fill="#f44242"/>
<circle cx="1225.04" cy="1063.76" r="7.0" fill="#f44242"/>
<circle cx="1288.30" cy="1061.58" r="7.0" fill="#f44242"/>
<circle cx="1309.57" cy="1058.31" r="7.0" fill="#f44242"/>
<circle cx="1214.57" cy="1068.67" r="7.0" fill="#f44242"/>
<circle cx="1235.62" cy="1071.40" r="7.0" fill="#f44242"/>
<circle cx="1246.20" cy="1066.49" r="7.0" fill="#f44242"/>
<circle cx="1267.25" cy="1064.85" r="7.0" fill="#f44242"/>
<circle cx="1277.83" cy="1070.31" r="7.0" fill="#f44242"/>
<circle cx="1298.88" cy="1068.13" r="7.0" fill="#f44242"/>
<circle cx="1256.67" cy="1073.03" r="7.0" fill="#f44242"/>
<circle cx="1203.78" cy="1079.58" r="7.0" fill="#f44242"/>
<circle cx="1225.04" cy="1081.21" r="7.0" fill="#f44242"/>
<circle cx="1309.57" cy="1080.12" r="7.0" fill="#f44242"/>
<circle cx="1214.57" cy="1088.85" r="7.0" fill="#f44242"/>
<circle cx="1246.20" cy="1086.67" r="7.0" fill="#f44242"/>
<circle cx="1267.25" cy="1086.67" r="7.0" fill="#f44242"/>
<circle cx="1288.30" cy="1086.12" r="7.0" fill="#f44242"/>
<circle cx="1235.62" cy="1091.57" r="7.0" fill="#f44242"/>
<circle cx="1298.88" cy="1091.57" r="7.0" fill="#f44242"/>
<circle cx="1256.67" cy="1095.39" r="7.0" fill="#f44242"/>
<circle cx="1277.83" cy="1095.39" r="7.0" fill="#f44242"/>
<rect x="1388.60" y="1038.50" width="14.20" height="14.20" fill="#0000ff"/>
<rect x="1409.90" y="1048.40" width="14.20" height="14.20" fill="#0000ff"/>
<rect x="1430.30" y="1050.70" width="14.20" height="14.20" fill="#0000ff"/>
<rect x="1451.70" y="1044.80" width="14.20" height="14.20" fill="#0000ff"/>
<rect x="1473.00" y="1032.60" width="14.20" height="14.20" fill="#0000ff"/>
<rect x="1409.90" y="1070.40" width="14.20" height="14.20" fill="#0000ff"/>
<rect x="1451.70" y="1071.40" width="14.20" height="14.20" fill="#0000ff"/>
<rect x="1473.00" y="1063.80" width="14.20" height="14.20" fill="#0000ff"/>
<rect x="1430.30" y="1080.20" width="14.20" height="14.20" fill="#0000ff"/>
<line x1="1190.40" y1="1042.20" x2="1323.40" y2="1042.20" stroke="#f44242" stroke-width="2.2"/>
<line x1="1223.10" y1="1034.90" x2="1290.70" y2="1034.90" stroke="#f44242" stroke-width="2.2"/>
<line x1="1223.10" y1="1049.80" x2="1290.70" y2="1049.80" stroke="#f44242" stroke-width="2.2"/>
<line x1="1256.90" y1="1034.90" x2="1256.90" y2="1049.80" stroke="#f44242" stroke-width="2.2"/>
<line x1="1371.70" y1="1062.70" x2="1504.80" y2="1062.70" stroke="#0000ff" stroke-width="2.2"/>
<line x1="1404.60" y1="1057.80" x2="1470.30" y2="1057.80" stroke="#0000ff" stroke-width="2.2"/>
<line x1="1404.60" y1="1067.60" x2="1470.30" y2="1067.60" stroke="#0000ff" stroke-width="2.2"/>
<line x1="1437.45" y1="1057.80" x2="1437.45" y2="1067.60" stroke="#0000ff" stroke-width="2.2"/>
<text x="1257.50" y="1147.50" font-size="25.5" text-anchor="middle" textLength="133" lengthAdjust="spacingAndGlyphs">CR/PR (44)</text>
<text x="1440.00" y="1147.50" font-size="25.5" text-anchor="middle" textLength="116" lengthAdjust="spacingAndGlyphs">PD/SD (9)</text>
<polyline points="1255.9,846.7 1255.9,833.5 1440.2,833.5 1440.2,846.7" fill="none" stroke="#000" stroke-width="2.2"/>
<text x="1349.00" y="832.70" font-size="24" text-anchor="middle">*</text>
<text transform="translate(1092.00,1143.20) rotate(-90)" font-size="27.5" textLength="336.8" lengthAdjust="spacingAndGlyphs">Relative expression of FAS-AS1</text>
<text transform="translate(1117.80,1029.80) rotate(-90)" font-size="26" textLength="105.1" lengthAdjust="spacingAndGlyphs">2^-ΔΔCt</text>
<text x="1025.90" y="805.70" font-size="25" font-weight="bold">(d)</text>
<line x1="147.10" y1="1239.30" x2="147.10" y2="1504.60" stroke="#000" stroke-width="2.4"/>
<line x1="146.10" y1="1503.60" x2="505.00" y2="1503.60" stroke="#000" stroke-width="2.4"/>
<line x1="133.00" y1="1240.30" x2="147.10" y2="1240.30" stroke="#000" stroke-width="2.2"/>
<text x="129.40" y="1247.10" font-size="26.8" text-anchor="end" textLength="34.75" lengthAdjust="spacingAndGlyphs">2.5</text>
<line x1="133.00" y1="1293.40" x2="147.10" y2="1293.40" stroke="#000" stroke-width="2.2"/>
<text x="129.40" y="1300.20" font-size="26.8" text-anchor="end" textLength="34.75" lengthAdjust="spacingAndGlyphs">2.0</text>
<line x1="133.00" y1="1345.90" x2="147.10" y2="1345.90" stroke="#000" stroke-width="2.2"/>
<text x="129.40" y="1352.70" font-size="26.8" text-anchor="end" textLength="34.75" lengthAdjust="spacingAndGlyphs">1.5</text>
<line x1="133.00" y1="1398.70" x2="147.10" y2="1398.70" stroke="#000" stroke-width="2.2"/>
<text x="129.40" y="1405.50" font-size="26.8" text-anchor="end" textLength="34.75" lengthAdjust="spacingAndGlyphs">1.0</text>
<line x1="133.00" y1="1451.20" x2="147.10" y2="1451.20" stroke="#000" stroke-width="2.2"/>
<text x="129.40" y="1458.00" font-size="26.8" text-anchor="end" textLength="34.75" lengthAdjust="spacingAndGlyphs">0.5</text>
<line x1="133.00" y1="1503.60" x2="147.10" y2="1503.60" stroke="#000" stroke-width="2.2"/>
<text x="129.40" y="1510.40" font-size="26.8" text-anchor="end" textLength="34.75" lengthAdjust="spacingAndGlyphs">0.0</text>
<line x1="246.40" y1="1503.60" x2="246.40" y2="1517.10" stroke="#000" stroke-width="2.4"/>
<line x1="427.90" y1="1503.60" x2="427.90" y2="1517.10" stroke="#000" stroke-width="2.4"/>
<circle cx="246.40" cy="1275.70" r="7.0" fill="#f44242"/>
<circle cx="246.40" cy="1308.70" r="7.0" fill="#f44242"/>
<circle cx="246.40" cy="1348.70" r="7.0" fill="#f44242"/>
<circle cx="267.60" cy="1380.30" r="7.0" fill="#f44242"/>
<circle cx="246.40" cy="1399.80" r="7.0" fill="#f44242"/>
<circle cx="225.10" cy="1421.80" r="7.0" fill="#f44242"/>
<circle cx="246.40" cy="1422.10" r="7.0" fill="#f44242"/>
<circle cx="225.10" cy="1435.20" r="7.0" fill="#f44242"/>
<circle cx="267.60" cy="1437.70" r="7.0" fill="#f44242"/>
<circle cx="246.40" cy="1446.60" r="7.0" fill="#f44242"/>
<rect x="367.50" y="1415.95" width="14.20" height="14.20" fill="#0000ff"/>
<rect x="367.50" y="1437.25" width="14.20" height="14.20" fill="#0000ff"/>
<rect x="367.50" y="1469.50" width="14.20" height="14.20" fill="#0000ff"/>
<rect x="367.50" y="1475.50" width="14.20" height="14.20" fill="#0000ff"/>
<rect x="367.50" y="1481.50" width="14.20" height="14.20" fill="#0000ff"/>
<rect x="378.10" y="1382.45" width="14.20" height="14.20" fill="#0000ff"/>
<rect x="378.10" y="1410.60" width="14.20" height="14.20" fill="#0000ff"/>
<rect x="378.10" y="1422.43" width="14.20" height="14.20" fill="#0000ff"/>
<rect x="378.10" y="1434.26" width="14.20" height="14.20" fill="#0000ff"/>
<rect x="378.10" y="1446.09" width="14.20" height="14.20" fill="#0000ff"/>
<rect x="378.10" y="1457.91" width="14.20" height="14.20" fill="#0000ff"/>
<rect x="378.10" y="1469.74" width="14.20" height="14.20" fill="#0000ff"/>
<rect x="378.10" y="1481.57" width="14.20" height="14.20" fill="#0000ff"/>
<rect x="378.10" y="1493.40" width="14.20" height="14.20" fill="#0000ff"/>
<rect x="388.70" y="1413.90" width="14.20" height="14.20" fill="#0000ff"/>
<rect x="388.70" y="1424.90" width="14.20" height="14.20" fill="#0000ff"/>
<rect x="388.70" y="1435.90" width="14.20" height="14.20" fill="#0000ff"/>
<rect x="388.70" y="1446.90" width="14.20" height="14.20" fill="#0000ff"/>
<rect x="388.70" y="1457.90" width="14.20" height="14.20" fill="#0000ff"/>
<rect x="388.70" y="1468.90" width="14.20" height="14.20" fill="#0000ff"/>
<rect x="388.70" y="1479.90" width="14.20" height="14.20" fill="#0000ff"/>
<rect x="399.30" y="1370.85" width="14.20" height="14.20" fill="#0000ff"/>
<rect x="399.30" y="1391.85" width="14.20" height="14.20" fill="#0000ff"/>
<rect x="399.30" y="1414.70" width="14.20" height="14.20" fill="#0000ff"/>
<rect x="399.30" y="1426.17" width="14.20" height="14.20" fill="#0000ff"/>
<rect x="399.30" y="1437.64" width="14.20" height="14.20" fill="#0000ff"/>
<rect x="399.30" y="1449.11" width="14.20" height="14.20" fill="#0000ff"/>
<rect x="399.30" y="1460.59" width="14.20" height="14.20" fill="#0000ff"/>
<rect x="399.30" y="1472.06" width="14.20" height="14.20" fill="#0000ff"/>
<rect x="399.30" y="1483.53" width="14.20" height="14.20" fill="#0000ff"/>
<rect x="399.30" y="1495.00" width="14.20" height="14.20" fill="#0000ff"/>
<rect x="409.90" y="1378.55" width="14.20" height="14.20" fill="#0000ff"/>
<rect x="409.90" y="1407.40" width="14.20" height="14.20" fill="#0000ff"/>
<rect x="409.90" y="1417.76" width="14.20" height="14.20" fill="#0000ff"/>
<rect x="409.90" y="1428.11" width="14.20" height="14.20" fill="#0000ff"/>
<rect x="409.90" y="1438.47" width="14.20" height="14.20" fill="#0000ff"/>
<rect x="409.90" y="1448.83" width="14.20" height="14.20" fill="#0000ff"/>
<rect x="409.90" y="1459.19" width="14.20" height="14.20" fill="#0000ff"/>
<rect x="409.90" y="1469.54" width="14.20" height="14.20" fill="#0000ff"/>
<rect x="409.90" y="1479.90" width="14.20" height="14.20" fill="#0000ff"/>
<rect x="420.50" y="1373.65" width="14.20" height="14.20" fill="#0000ff"/>
<rect x="420.50" y="1398.40" width="14.20" height="14.20" fill="#0000ff"/>
<rect x="420.50" y="1409.36" width="14.20" height="14.20" fill="#0000ff"/>
<rect x="420.50" y="1420.31" width="14.20" height="14.20" fill="#0000ff"/>
<rect x="420.50" y="1431.27" width="14.20" height="14.20" fill="#0000ff"/>
<rect x="420.50" y="1442.22" width="14.20" height="14.20" fill="#0000ff"/>
<rect x="420.50" y="1453.18" width="14.20" height="14.20" fill="#0000ff"/>
<rect x="420.50" y="1464.13" width="14.20" height="14.20" fill="#0000ff"/>
<rect x="420.50" y="1475.09" width="14.20" height="14.20" fill="#0000ff"/>
<rect x="420.50" y="1486.04" width="14.20" height="14.20" fill="#0000ff"/>
<rect x="420.50" y="1497.00" width="14.20" height="14.20" fill="#0000ff"/>
<rect x="431.10" y="1379.35" width="14.20" height="14.20" fill="#0000ff"/>
<rect x="431.10" y="1407.40" width="14.20" height="14.20" fill="#0000ff"/>
<rect x="431.10" y="1418.34" width="14.20" height="14.20" fill="#0000ff"/>
<rect x="431.10" y="1429.29" width="14.20" height="14.20" fill="#0000ff"/>
<rect x="431.10" y="1440.23" width="14.20" height="14.20" fill="#0000ff"/>
<rect x="431.10" y="1451.17" width="14.20" height="14.20" fill="#0000ff"/>
<rect x="431.10" y="1462.11" width="14.20" height="14.20" fill="#0000ff"/>
<rect x="431.10" y="1473.06" width="14.20" height="14.20" fill="#0000ff"/>
<rect x="431.10" y="1484.00" width="14.20" height="14.20" fill="#0000ff"/>
<rect x="441.70" y="1363.45" width="14.20" height="14.20" fill="#0000ff"/>
<rect x="441.70" y="1386.50" width="14.20" height="14.20" fill="#0000ff"/>
<rect x="441.70" y="1392.80" width="14.20" height="14.20" fill="#0000ff"/>
<rect x="441.70" y="1410.20" width="14.20" height="14.20" fill="#0000ff"/>
<rect x="441.70" y="1421.00" width="14.20" height="14.20" fill="#0000ff"/>
<rect x="441.70" y="1431.80" width="14.20" height="14.20" fill="#0000ff"/>
<rect x="441.70" y="1442.60" width="14.20" height="14.20" fill="#0000ff"/>
<rect x="441.70" y="1453.40" width="14.20" height="14.20" fill="#0000ff"/>
<rect x="441.70" y="1464.20" width="14.20" height="14.20" fill="#0000ff"/>
<rect x="441.70" y="1475.00" width="14.20" height="14.20" fill="#0000ff"/>
<rect x="441.70" y="1485.80" width="14.20" height="14.20" fill="#0000ff"/>
<rect x="441.70" y="1496.60" width="14.20" height="14.20" fill="#0000ff"/>
<rect x="452.30" y="1415.55" width="14.20" height="14.20" fill="#0000ff"/>
<rect x="452.30" y="1440.75" width="14.20" height="14.20" fill="#0000ff"/>
<rect x="452.30" y="1469.90" width="14.20" height="14.20" fill="#0000ff"/>
<rect x="452.30" y="1476.95" width="14.20" height="14.20" fill="#0000ff"/>
<rect x="452.30" y="1484.00" width="14.20" height="14.20" fill="#0000ff"/>
<rect x="382.00" y="1439.30" width="6.50" height="11.80" fill="#fff"/>
<rect x="408.60" y="1440.00" width="5.40" height="5.00" fill="#fff"/>
<rect x="414.00" y="1436.00" width="6.40" height="4.50" fill="#fff"/>
<rect x="435.50" y="1434.00" width="5.50" height="6.00" fill="#fff"/>
<rect x="441.00" y="1442.00" width="4.50" height="7.50" fill="#fff"/>
<rect x="445.40" y="1448.30" width="6.90" height="1.70" fill="#fff"/>
<rect x="392.50" y="1460.00" width="3.00" height="11.00" fill="#fff"/>
<rect x="413.50" y="1461.00" width="3.00" height="10.00" fill="#fff"/>
<rect x="438.00" y="1465.00" width="3.00" height="6.00" fill="#fff"/>
<rect x="382.00" y="1489.20" width="6.50" height="4.00" fill="#fff"/>
<rect x="403.30" y="1491.60" width="6.50" height="3.30" fill="#fff"/>
<rect x="424.10" y="1494.10" width="6.90" height="3.20" fill="#fff"/>
<rect x="445.00" y="1490.80" width="7.30" height="3.30" fill="#fff"/>
<line x1="179.00" y1="1387.40" x2="312.70" y2="1387.40" stroke="#f44242" stroke-width="2.2"/>
<line x1="212.70" y1="1368.60" x2="280.00" y2="1368.60" stroke="#f44242" stroke-width="2.2"/>
<line x1="212.70" y1="1405.80" x2="280.00" y2="1405.80" stroke="#f44242" stroke-width="2.2"/>
<line x1="246.35" y1="1368.60" x2="246.35" y2="1405.80" stroke="#f44242" stroke-width="2.2"/>
<line x1="361.60" y1="1454.00" x2="494.50" y2="1454.00" stroke="#0000ff" stroke-width="2.2"/>
<text x="233.10" y="1539.80" font-size="25.5" text-anchor="middle" textLength="154" lengthAdjust="spacingAndGlyphs">rhinitis tissue</text>
<text x="237.20" y="1564.60" font-size="25.5" text-anchor="middle">(10)</text>
<text x="415.60" y="1539.80" font-size="25.5" text-anchor="middle" textLength="130.8" lengthAdjust="spacingAndGlyphs">NPC tissue</text>
<text x="419.40" y="1564.60" font-size="25.5" text-anchor="middle">(92)</text>
<polyline points="245.2,1257.8 245.2,1244.7 438.8,1244.7 438.8,1257.8" fill="none" stroke="#000" stroke-width="2.2"/>
<text x="342.90" y="1243.90" font-size="24" text-anchor="middle">**</text>
<text transform="translate(62.00,1515.00) rotate(-90)" font-size="27.5" textLength="285.4" lengthAdjust="spacingAndGlyphs">Relative expression of FAS</text>
<text transform="translate(89.30,1421.00) rotate(-90)" font-size="26" textLength="104.5" lengthAdjust="spacingAndGlyphs">2^-ΔΔCt</text>
<text x="0.70" y="1215.70" font-size="25" font-weight="bold">(e)</text>
<line x1="660.80" y1="1244.50" x2="660.80" y2="1505.60" stroke="#000" stroke-width="2.4"/>
<line x1="659.80" y1="1504.60" x2="1014.20" y2="1504.60" stroke="#000" stroke-width="2.4"/>
<line x1="646.00" y1="1245.50" x2="660.80" y2="1245.50" stroke="#000" stroke-width="2.2"/>
<text x="641.70" y="1252.30" font-size="26.8" text-anchor="end" textLength="34.75" lengthAdjust="spacingAndGlyphs">2.0</text>
<line x1="646.00" y1="1310.30" x2="660.80" y2="1310.30" stroke="#000" stroke-width="2.2"/>
<text x="641.70" y="1317.10" font-size="26.8" text-anchor="end" textLength="34.75" lengthAdjust="spacingAndGlyphs">1.5</text>
<line x1="646.00" y1="1375.10" x2="660.80" y2="1375.10" stroke="#000" stroke-width="2.2"/>
<text x="641.70" y="1381.90" font-size="26.8" text-anchor="end" textLength="34.75" lengthAdjust="spacingAndGlyphs">1.0</text>
<line x1="646.00" y1="1439.80" x2="660.80" y2="1439.80" stroke="#000" stroke-width="2.2"/>
<text x="641.70" y="1446.60" font-size="26.8" text-anchor="end" textLength="34.75" lengthAdjust="spacingAndGlyphs">0.5</text>
<line x1="646.00" y1="1504.60" x2="660.80" y2="1504.60" stroke="#000" stroke-width="2.2"/>
<text x="641.70" y="1511.40" font-size="26.8" text-anchor="end" textLength="34.75" lengthAdjust="spacingAndGlyphs">0.0</text>
<line x1="759.50" y1="1504.60" x2="759.50" y2="1518.10" stroke="#000" stroke-width="2.4"/>
<line x1="940.60" y1="1504.60" x2="940.60" y2="1518.10" stroke="#000" stroke-width="2.4"/>
<circle cx="758.70" cy="1292.30" r="7.0" fill="#f44242"/>
<circle cx="737.40" cy="1308.80" r="7.0" fill="#f44242"/>
<circle cx="758.70" cy="1318.00" r="7.0" fill="#f44242"/>
<circle cx="780.50" cy="1317.30" r="7.0" fill="#f44242"/>
<circle cx="737.40" cy="1381.70" r="7.0" fill="#f44242"/>
<circle cx="780.50" cy="1376.90" r="7.0" fill="#f44242"/>
<circle cx="758.70" cy="1389.10" r="7.0" fill="#f44242"/>
<circle cx="758.70" cy="1445.00" r="7.0" fill="#f44242"/>
<circle cx="780.50" cy="1441.30" r="7.0" fill="#f44242"/>
<rect x="881.00" y="1433.85" width="14.20" height="14.20" fill="#0000ff"/>
<rect x="881.00" y="1466.80" width="14.20" height="14.20" fill="#0000ff"/>
<rect x="891.50" y="1356.50" width="14.20" height="14.20" fill="#0000ff"/>
<rect x="891.50" y="1363.95" width="14.20" height="14.20" fill="#0000ff"/>
<rect x="891.50" y="1371.40" width="14.20" height="14.20" fill="#0000ff"/>
<rect x="891.50" y="1401.90" width="14.20" height="14.20" fill="#0000ff"/>
<rect x="891.50" y="1426.70" width="14.20" height="14.20" fill="#0000ff"/>
<rect x="891.50" y="1437.88" width="14.20" height="14.20" fill="#0000ff"/>
<rect x="891.50" y="1449.06" width="14.20" height="14.20" fill="#0000ff"/>
<rect x="891.50" y="1460.24" width="14.20" height="14.20" fill="#0000ff"/>
<rect x="891.50" y="1471.42" width="14.20" height="14.20" fill="#0000ff"/>
<rect x="891.50" y="1482.60" width="14.20" height="14.20" fill="#0000ff"/>
<rect x="902.00" y="1428.10" width="14.20" height="14.20" fill="#0000ff"/>
<rect x="902.00" y="1438.02" width="14.20" height="14.20" fill="#0000ff"/>
<rect x="902.00" y="1447.95" width="14.20" height="14.20" fill="#0000ff"/>
<rect x="902.00" y="1457.88" width="14.20" height="14.20" fill="#0000ff"/>
<rect x="902.00" y="1467.80" width="14.20" height="14.20" fill="#0000ff"/>
<rect x="912.50" y="1332.75" width="14.20" height="14.20" fill="#0000ff"/>
<rect x="912.50" y="1360.30" width="14.20" height="14.20" fill="#0000ff"/>
<rect x="912.50" y="1368.00" width="14.20" height="14.20" fill="#0000ff"/>
<rect x="912.50" y="1375.70" width="14.20" height="14.20" fill="#0000ff"/>
<rect x="912.50" y="1402.65" width="14.20" height="14.20" fill="#0000ff"/>
<rect x="912.50" y="1429.10" width="14.20" height="14.20" fill="#0000ff"/>
<rect x="912.50" y="1439.85" width="14.20" height="14.20" fill="#0000ff"/>
<rect x="912.50" y="1450.60" width="14.20" height="14.20" fill="#0000ff"/>
<rect x="912.50" y="1461.35" width="14.20" height="14.20" fill="#0000ff"/>
<rect x="912.50" y="1472.10" width="14.20" height="14.20" fill="#0000ff"/>
<rect x="912.50" y="1494.70" width="14.20" height="14.20" fill="#0000ff"/>
<rect x="923.00" y="1366.10" width="14.20" height="14.20" fill="#0000ff"/>
<rect x="923.00" y="1396.60" width="14.20" height="14.20" fill="#0000ff"/>
<rect x="923.00" y="1408.07" width="14.20" height="14.20" fill="#0000ff"/>
<rect x="923.00" y="1419.54" width="14.20" height="14.20" fill="#0000ff"/>
<rect x="923.00" y="1431.01" width="14.20" height="14.20" fill="#0000ff"/>
<rect x="923.00" y="1442.49" width="14.20" height="14.20" fill="#0000ff"/>
<rect x="923.00" y="1453.96" width="14.20" height="14.20" fill="#0000ff"/>
<rect x="923.00" y="1465.43" width="14.20" height="14.20" fill="#0000ff"/>
<rect x="923.00" y="1476.90" width="14.20" height="14.20" fill="#0000ff"/>
<rect x="933.50" y="1315.80" width="14.20" height="14.20" fill="#0000ff"/>
<rect x="933.50" y="1340.10" width="14.20" height="14.20" fill="#0000ff"/>
<rect x="933.50" y="1386.60" width="14.20" height="14.20" fill="#0000ff"/>
<rect x="933.50" y="1397.89" width="14.20" height="14.20" fill="#0000ff"/>
<rect x="933.50" y="1409.17" width="14.20" height="14.20" fill="#0000ff"/>
<rect x="933.50" y="1420.46" width="14.20" height="14.20" fill="#0000ff"/>
<rect x="933.50" y="1431.75" width="14.20" height="14.20" fill="#0000ff"/>
<rect x="933.50" y="1443.04" width="14.20" height="14.20" fill="#0000ff"/>
<rect x="933.50" y="1454.32" width="14.20" height="14.20" fill="#0000ff"/>
<rect x="933.50" y="1465.61" width="14.20" height="14.20" fill="#0000ff"/>
<rect x="933.50" y="1476.90" width="14.20" height="14.20" fill="#0000ff"/>
<rect x="933.50" y="1497.80" width="14.20" height="14.20" fill="#0000ff"/>
<rect x="944.00" y="1354.10" width="14.20" height="14.20" fill="#0000ff"/>
<rect x="944.00" y="1365.20" width="14.20" height="14.20" fill="#0000ff"/>
<rect x="944.00" y="1397.10" width="14.20" height="14.20" fill="#0000ff"/>
<rect x="944.00" y="1403.35" width="14.20" height="14.20" fill="#0000ff"/>
<rect x="944.00" y="1409.60" width="14.20" height="14.20" fill="#0000ff"/>
<rect x="944.00" y="1428.10" width="14.20" height="14.20" fill="#0000ff"/>
<rect x="944.00" y="1438.14" width="14.20" height="14.20" fill="#0000ff"/>
<rect x="944.00" y="1448.18" width="14.20" height="14.20" fill="#0000ff"/>
<rect x="944.00" y="1458.22" width="14.20" height="14.20" fill="#0000ff"/>
<rect x="944.00" y="1468.26" width="14.20" height="14.20" fill="#0000ff"/>
<rect x="944.00" y="1478.30" width="14.20" height="14.20" fill="#0000ff"/>
<rect x="954.50" y="1322.00" width="14.20" height="14.20" fill="#0000ff"/>
<rect x="954.50" y="1363.70" width="14.20" height="14.20" fill="#0000ff"/>
<rect x="954.50" y="1375.30" width="14.20" height="14.20" fill="#0000ff"/>
<rect x="954.50" y="1406.95" width="14.20" height="14.20" fill="#0000ff"/>
<rect x="954.50" y="1428.10" width="14.20" height="14.20" fill="#0000ff"/>
<rect x="954.50" y="1438.40" width="14.20" height="14.20" fill="#0000ff"/>
<rect x="954.50" y="1448.70" width="14.20" height="14.20" fill="#0000ff"/>
<rect x="954.50" y="1459.00" width="14.20" height="14.20" fill="#0000ff"/>
<rect x="954.50" y="1469.30" width="14.20" height="14.20" fill="#0000ff"/>
<rect x="954.50" y="1497.10" width="14.20" height="14.20" fill="#0000ff"/>
<rect x="965.00" y="1387.35" width="14.20" height="14.20" fill="#0000ff"/>
<rect x="965.00" y="1428.10" width="14.20" height="14.20" fill="#0000ff"/>
<rect x="965.00" y="1438.40" width="14.20" height="14.20" fill="#0000ff"/>
<rect x="965.00" y="1448.70" width="14.20" height="14.20" fill="#0000ff"/>
<rect x="965.00" y="1459.00" width="14.20" height="14.20" fill="#0000ff"/>
<rect x="965.00" y="1469.30" width="14.20" height="14.20" fill="#0000ff"/>
<rect x="975.50" y="1358.90" width="14.20" height="14.20" fill="#0000ff"/>
<rect x="975.50" y="1367.10" width="14.20" height="14.20" fill="#0000ff"/>
<rect x="975.50" y="1402.15" width="14.20" height="14.20" fill="#0000ff"/>
<rect x="975.50" y="1422.70" width="14.20" height="14.20" fill="#0000ff"/>
<rect x="975.50" y="1452.00" width="14.20" height="14.20" fill="#0000ff"/>
<rect x="975.50" y="1460.85" width="14.20" height="14.20" fill="#0000ff"/>
<rect x="975.50" y="1469.70" width="14.20" height="14.20" fill="#0000ff"/>
<rect x="975.50" y="1492.80" width="14.20" height="14.20" fill="#0000ff"/>
<rect x="986.00" y="1437.95" width="14.20" height="14.20" fill="#0000ff"/>
<rect x="986.00" y="1464.40" width="14.20" height="14.20" fill="#0000ff"/>
<rect x="936.80" y="1400.90" width="7.20" height="6.20" fill="#fff"/>
<rect x="926.80" y="1410.50" width="6.20" height="5.20" fill="#fff"/>
<rect x="894.80" y="1440.00" width="6.70" height="3.40" fill="#fff"/>
<rect x="915.80" y="1442.40" width="6.70" height="7.20" fill="#fff"/>
<rect x="936.80" y="1448.60" width="7.20" height="3.40" fill="#fff"/>
<rect x="957.80" y="1441.50" width="6.70" height="10.00" fill="#fff"/>
<rect x="905.00" y="1455.00" width="4.00" height="14.00" fill="#fff"/>
<rect x="926.00" y="1456.00" width="4.00" height="13.00" fill="#fff"/>
<rect x="951.50" y="1457.00" width="4.00" height="12.00" fill="#fff"/>
<rect x="973.50" y="1456.00" width="4.00" height="13.00" fill="#fff"/>
<line x1="692.50" y1="1362.90" x2="825.70" y2="1362.90" stroke="#f44242" stroke-width="2.2"/>
<line x1="725.20" y1="1344.20" x2="793.30" y2="1344.20" stroke="#f44242" stroke-width="2.2"/>
<line x1="725.20" y1="1382.10" x2="793.30" y2="1382.10" stroke="#f44242" stroke-width="2.2"/>
<line x1="759.25" y1="1344.20" x2="759.25" y2="1382.10" stroke="#f44242" stroke-width="2.2"/>
<line x1="874.30" y1="1434.70" x2="1007.20" y2="1434.70" stroke="#0000ff" stroke-width="2.2"/>
<text x="759.50" y="1542.50" font-size="25.5" text-anchor="middle" textLength="142.1" lengthAdjust="spacingAndGlyphs">stage1-2 (9)</text>
<text x="947.40" y="1542.50" font-size="25.5" text-anchor="middle" textLength="156.4" lengthAdjust="spacingAndGlyphs">stage3-4 (75)</text>
<polyline points="756.9,1261.7 756.9,1249.0 956.0,1249.0 956.0,1261.7" fill="none" stroke="#000" stroke-width="2.2"/>
<text x="858.80" y="1246.70" font-size="24" text-anchor="middle">**</text>
<text transform="translate(573.00,1511.00) rotate(-90)" font-size="27.5" textLength="279.5" lengthAdjust="spacingAndGlyphs">Relative expression of FAS</text>
<text transform="translate(599.80,1408.00) rotate(-90)" font-size="26" textLength="103" lengthAdjust="spacingAndGlyphs">2^-ΔΔCt</text>
<text x="510.10" y="1215.20" font-size="25" font-weight="bold">(f)</text>
<line x1="1158.10" y1="1243.70" x2="1158.10" y2="1504.60" stroke="#000" stroke-width="2.4"/>
<line x1="1157.10" y1="1503.60" x2="1512.00" y2="1503.60" stroke="#000" stroke-width="2.4"/>
<line x1="1143.30" y1="1244.70" x2="1158.10" y2="1244.70" stroke="#000" stroke-width="2.2"/>
<text x="1140.00" y="1251.50" font-size="26.8" text-anchor="end" textLength="13.9" lengthAdjust="spacingAndGlyphs">3</text>
<line x1="1143.30" y1="1331.10" x2="1158.10" y2="1331.10" stroke="#000" stroke-width="2.2"/>
<text x="1140.00" y="1337.90" font-size="26.8" text-anchor="end" textLength="13.9" lengthAdjust="spacingAndGlyphs">2</text>
<line x1="1143.30" y1="1417.20" x2="1158.10" y2="1417.20" stroke="#000" stroke-width="2.2"/>
<text x="1140.00" y="1424.00" font-size="26.8" text-anchor="end" textLength="13.9" lengthAdjust="spacingAndGlyphs">1</text>
<line x1="1143.30" y1="1503.60" x2="1158.10" y2="1503.60" stroke="#000" stroke-width="2.2"/>
<text x="1140.00" y="1510.40" font-size="26.8" text-anchor="end" textLength="13.9" lengthAdjust="spacingAndGlyphs">0</text>
<line x1="1256.00" y1="1503.60" x2="1256.00" y2="1517.10" stroke="#000" stroke-width="2.4"/>
<line x1="1438.40" y1="1503.60" x2="1438.40" y2="1517.10" stroke="#000" stroke-width="2.4"/>
<circle cx="1256.34" cy="1257.45" r="7.0" fill="#f44242"/>
<circle cx="1235.30" cy="1285.26" r="7.0" fill="#f44242"/>
<circle cx="1256.34" cy="1299.22" r="7.0" fill="#f44242"/>
<circle cx="1235.30" cy="1309.04" r="7.0" fill="#f44242"/>
<circle cx="1277.39" cy="1311.76" r="7.0" fill="#f44242"/>
<circle cx="1256.34" cy="1321.25" r="7.0" fill="#f44242"/>
<circle cx="1214.14" cy="1342.52" r="7.0" fill="#f44242"/>
<circle cx="1235.30" cy="1349.39" r="7.0" fill="#f44242"/>
<circle cx="1277.39" cy="1347.97" r="7.0" fill="#f44242"/>
<circle cx="1256.34" cy="1353.97" r="7.0" fill="#f44242"/>
<circle cx="1298.55" cy="1357.24" r="7.0" fill="#f44242"/>
<circle cx="1235.30" cy="1362.70" r="7.0" fill="#f44242"/>
<circle cx="1277.39" cy="1368.69" r="7.0" fill="#f44242"/>
<circle cx="1256.34" cy="1375.24" r="7.0" fill="#f44242"/>
<circle cx="1298.55" cy="1386.69" r="7.0" fill="#f44242"/>
<circle cx="1214.14" cy="1392.69" r="7.0" fill="#f44242"/>
<circle cx="1277.39" cy="1393.23" r="7.0" fill="#f44242"/>
<circle cx="1235.30" cy="1398.69" r="7.0" fill="#f44242"/>
<circle cx="1256.34" cy="1400.87" r="7.0" fill="#f44242"/>
<circle cx="1251.44" cy="1416.14" r="7.0" fill="#f44242"/>
<circle cx="1261.80" cy="1418.86" r="7.0" fill="#f44242"/>
<circle cx="1203.45" cy="1419.95" r="7.0" fill="#f44242"/>
<circle cx="1224.72" cy="1423.23" r="7.0" fill="#f44242"/>
<circle cx="1288.30" cy="1424.32" r="7.0" fill="#f44242"/>
<circle cx="1309.24" cy="1422.68" r="7.0" fill="#f44242"/>
<circle cx="1214.14" cy="1429.77" r="7.0" fill="#f44242"/>
<circle cx="1245.98" cy="1429.22" r="7.0" fill="#f44242"/>
<circle cx="1267.25" cy="1429.77" r="7.0" fill="#f44242"/>
<circle cx="1298.55" cy="1430.32" r="7.0" fill="#f44242"/>
<circle cx="1235.30" cy="1434.13" r="7.0" fill="#f44242"/>
<circle cx="1256.34" cy="1435.22" r="7.0" fill="#f44242"/>
<circle cx="1277.39" cy="1434.68" r="7.0" fill="#f44242"/>
<circle cx="1224.72" cy="1451.04" r="7.0" fill="#f44242"/>
<circle cx="1288.30" cy="1447.22" r="7.0" fill="#f44242"/>
<circle cx="1245.98" cy="1455.40" r="7.0" fill="#f44242"/>
<circle cx="1267.25" cy="1452.13" r="7.0" fill="#f44242"/>
<circle cx="1214.14" cy="1459.22" r="7.0" fill="#f44242"/>
<circle cx="1298.55" cy="1457.04" r="7.0" fill="#f44242"/>
<circle cx="1235.30" cy="1463.58" r="7.0" fill="#f44242"/>
<circle cx="1277.39" cy="1462.49" r="7.0" fill="#f44242"/>
<circle cx="1256.34" cy="1465.22" r="7.0" fill="#f44242"/>
<circle cx="1235.30" cy="1472.85" r="7.0" fill="#f44242"/>
<circle cx="1277.39" cy="1471.76" r="7.0" fill="#f44242"/>
<circle cx="1256.34" cy="1487.03" r="7.0" fill="#f44242"/>
<rect x="1409.90" y="1336.20" width="14.20" height="14.20" fill="#0000ff"/>
<rect x="1430.30" y="1344.70" width="14.20" height="14.20" fill="#0000ff"/>
<rect x="1451.60" y="1366.70" width="14.20" height="14.20" fill="#0000ff"/>
<rect x="1430.30" y="1378.20" width="14.20" height="14.20" fill="#0000ff"/>
<rect x="1430.30" y="1430.80" width="14.20" height="14.20" fill="#0000ff"/>
<rect x="1409.90" y="1447.20" width="14.20" height="14.20" fill="#0000ff"/>
<rect x="1451.60" y="1448.20" width="14.20" height="14.20" fill="#0000ff"/>
<rect x="1472.30" y="1446.20" width="14.20" height="14.20" fill="#0000ff"/>
<rect x="1430.30" y="1461.30" width="14.20" height="14.20" fill="#0000ff"/>
<line x1="1189.80" y1="1402.50" x2="1322.90" y2="1402.50" stroke="#f44242" stroke-width="2.2"/>
<line x1="1223.10" y1="1394.00" x2="1290.40" y2="1394.00" stroke="#f44242" stroke-width="2.2"/>
<line x1="1223.10" y1="1410.90" x2="1290.40" y2="1410.90" stroke="#f44242" stroke-width="2.2"/>
<line x1="1256.75" y1="1394.00" x2="1256.75" y2="1410.90" stroke="#f44242" stroke-width="2.2"/>
<line x1="1371.70" y1="1414.20" x2="1504.00" y2="1414.20" stroke="#0000ff" stroke-width="2.2"/>
<line x1="1404.50" y1="1397.50" x2="1470.90" y2="1397.50" stroke="#0000ff" stroke-width="2.2"/>
<line x1="1404.50" y1="1430.30" x2="1470.90" y2="1430.30" stroke="#0000ff" stroke-width="2.2"/>
<line x1="1437.70" y1="1397.50" x2="1437.70" y2="1430.30" stroke="#0000ff" stroke-width="2.2"/>
<text x="1258.30" y="1541.40" font-size="25.5" text-anchor="middle" textLength="134.7" lengthAdjust="spacingAndGlyphs">CR/PR (44)</text>
<text x="1437.70" y="1541.40" font-size="25.5" text-anchor="middle" textLength="117.6" lengthAdjust="spacingAndGlyphs">PD/SD (9)</text>
<polyline points="1255.6,1233.5 1255.6,1220.4 1447.0,1220.4 1447.0,1233.5" fill="none" stroke="#000" stroke-width="2.2"/>
<text x="1354.00" y="1211.70" font-size="23" text-anchor="middle">ns</text>
<text transform="translate(1090.30,1506.90) rotate(-90)" font-size="27.5" textLength="282.6" lengthAdjust="spacingAndGlyphs">Relative expression of FAS</text>
<text transform="translate(1117.30,1423.10) rotate(-90)" font-size="26" textLength="105.1" lengthAdjust="spacingAndGlyphs">2^-ΔΔCt</text>
<text x="1025.90" y="1215.50" font-size="25" font-weight="bold">(g)</text>
<circle cx="217.78" cy="1790.71" r="6.5" fill="#000"/>
<circle cx="237.82" cy="1781.44" r="6.5" fill="#000"/>
<circle cx="257.18" cy="1779.70" r="6.5" fill="#000"/>
<circle cx="265.29" cy="1773.33" r="6.5" fill="#000"/>
<circle cx="274.56" cy="1786.65" r="6.5" fill="#000"/>
<circle cx="235.39" cy="1800.56" r="6.5" fill="#000"/>
<circle cx="251.62" cy="1801.49" r="6.5" fill="#000"/>
<circle cx="231.68" cy="1812.73" r="6.5" fill="#000"/>
<circle cx="228.21" cy="1818.52" r="6.5" fill="#000"/>
<circle cx="206.19" cy="1823.74" r="6.5" fill="#000"/>
<circle cx="209.43" cy="1826.06" r="6.5" fill="#000"/>
<circle cx="244.78" cy="1832.43" r="6.5" fill="#000"/>
<circle cx="200.39" cy="1839.38" r="6.5" fill="#000"/>
<circle cx="202.71" cy="1844.60" r="6.5" fill="#000"/>
<circle cx="256.60" cy="1842.05" r="6.5" fill="#000"/>
<circle cx="279.20" cy="1844.60" r="6.5" fill="#000"/>
<circle cx="160.18" cy="1847.50" r="6.5" fill="#000"/>
<circle cx="178.37" cy="1850.97" r="6.5" fill="#000"/>
<circle cx="210.82" cy="1852.13" r="6.5" fill="#000"/>
<circle cx="227.05" cy="1859.43" r="6.5" fill="#000"/>
<circle cx="255.44" cy="1855.61" r="6.5" fill="#000"/>
<circle cx="264.13" cy="1863.14" r="6.5" fill="#000"/>
<circle cx="193.44" cy="1857.35" r="6.5" fill="#000"/>
<circle cx="189.96" cy="1861.98" r="6.5" fill="#000"/>
<circle cx="205.03" cy="1860.82" r="6.5" fill="#000"/>
<circle cx="198.08" cy="1864.30" r="6.5" fill="#000"/>
<circle cx="221.25" cy="1870.09" r="6.5" fill="#000"/>
<circle cx="208.51" cy="1874.73" r="6.5" fill="#000"/>
<circle cx="154.04" cy="1871.83" r="6.5" fill="#000"/>
<circle cx="163.31" cy="1874.15" r="6.5" fill="#000"/>
<circle cx="185.33" cy="1871.25" r="6.5" fill="#000"/>
<circle cx="193.44" cy="1874.73" r="6.5" fill="#000"/>
<circle cx="145.93" cy="1881.68" r="6.5" fill="#000"/>
<circle cx="156.36" cy="1880.52" r="6.5" fill="#000"/>
<circle cx="165.63" cy="1880.52" r="6.5" fill="#000"/>
<circle cx="177.22" cy="1880.52" r="6.5" fill="#000"/>
<circle cx="184.17" cy="1880.52" r="6.5" fill="#000"/>
<circle cx="191.12" cy="1881.68" r="6.5" fill="#000"/>
<circle cx="195.76" cy="1885.16" r="6.5" fill="#000"/>
<circle cx="179.53" cy="1888.64" r="6.5" fill="#000"/>
<circle cx="186.49" cy="1888.64" r="6.5" fill="#000"/>
<circle cx="191.70" cy="1889.79" r="6.5" fill="#000"/>
<circle cx="164.47" cy="1889.79" r="6.5" fill="#000"/>
<circle cx="154.04" cy="1893.27" r="6.5" fill="#000"/>
<circle cx="131.44" cy="1890.95" r="6.5" fill="#000"/>
<circle cx="140.13" cy="1887.48" r="6.5" fill="#000"/>
<circle cx="148.24" cy="1903.70" r="6.5" fill="#000"/>
<circle cx="211.98" cy="1892.69" r="6.5" fill="#000"/>
<circle cx="132.60" cy="1912.39" r="6.5" fill="#000"/>
<circle cx="116.95" cy="1914.13" r="6.5" fill="#000"/>
<circle cx="116.95" cy="1919.93" r="6.5" fill="#000"/>
<circle cx="122.75" cy="1916.45" r="6.5" fill="#000"/>
<circle cx="112.90" cy="1914.71" r="6.5" fill="#000"/>
<circle cx="172.58" cy="1882.84" r="6.5" fill="#000"/>
<circle cx="193.44" cy="1867.78" r="6.5" fill="#000"/>
<circle cx="214.30" cy="1852.71" r="6.5" fill="#000"/>
<circle cx="173.16" cy="1875.89" r="6.5" fill="#000"/>
<circle cx="181.85" cy="1875.89" r="6.5" fill="#000"/>
<circle cx="202.71" cy="1875.89" r="6.5" fill="#000"/>
<circle cx="127.38" cy="1915.29" r="6.5" fill="#000"/>
<circle cx="158.67" cy="1875.89" r="6.5" fill="#000"/>
<circle cx="174.90" cy="1886.32" r="6.5" fill="#000"/>
<circle cx="287.10" cy="1711.80" r="6.5" fill="#000"/>
<circle cx="375.80" cy="1707.50" r="6.5" fill="#000"/>
<circle cx="375.80" cy="1721.70" r="6.5" fill="#000"/>
<circle cx="323.60" cy="1727.00" r="6.5" fill="#000"/>
<circle cx="267.60" cy="1744.80" r="6.5" fill="#000"/>
<circle cx="366.90" cy="1733.80" r="6.5" fill="#000"/>
<circle cx="361.60" cy="1743.00" r="6.5" fill="#000"/>
<circle cx="486.40" cy="1753.60" r="6.5" fill="#000"/>
<circle cx="334.30" cy="1769.60" r="6.5" fill="#000"/>
<circle cx="301.30" cy="1767.50" r="6.5" fill="#000"/>
<circle cx="294.20" cy="1772.00" r="6.5" fill="#000"/>
<circle cx="290.70" cy="1784.50" r="6.5" fill="#000"/>
<circle cx="304.20" cy="1783.80" r="6.5" fill="#000"/>
<circle cx="316.60" cy="1779.90" r="6.5" fill="#000"/>
<circle cx="323.60" cy="1776.70" r="6.5" fill="#000"/>
<circle cx="442.00" cy="1779.10" r="6.5" fill="#000"/>
<circle cx="401.30" cy="1789.80" r="6.5" fill="#000"/>
<circle cx="417.60" cy="1789.10" r="6.5" fill="#000"/>
<circle cx="355.50" cy="1795.80" r="6.5" fill="#000"/>
<circle cx="362.30" cy="1802.90" r="6.5" fill="#000"/>
<circle cx="288.20" cy="1818.10" r="6.5" fill="#000"/>
<circle cx="305.60" cy="1817.10" r="6.5" fill="#000"/>
<circle cx="314.40" cy="1823.50" r="6.5" fill="#000"/>
<circle cx="324.40" cy="1812.80" r="6.5" fill="#000"/>
<circle cx="281.80" cy="1844.70" r="6.5" fill="#000"/>
<circle cx="288.90" cy="1845.80" r="6.5" fill="#000"/>
<circle cx="314.80" cy="1843.00" r="6.5" fill="#000"/>
<circle cx="359.10" cy="1873.10" r="6.5" fill="#000"/>
<line x1="116.30" y1="1902.50" x2="483.90" y2="1708.20" stroke="#000" stroke-width="2.2"/>
<line x1="116.40" y1="1654.10" x2="116.40" y2="1919.40" stroke="#000" stroke-width="2.4"/>
<line x1="115.40" y1="1918.40" x2="507.30" y2="1918.40" stroke="#000" stroke-width="2.4"/>
<line x1="101.00" y1="1655.10" x2="116.40" y2="1655.10" stroke="#000" stroke-width="2.2"/>
<text x="99.00" y="1663.60" font-size="24" text-anchor="end">1.5</text>
<line x1="101.00" y1="1743.00" x2="116.40" y2="1743.00" stroke="#000" stroke-width="2.2"/>
<text x="99.00" y="1751.50" font-size="24" text-anchor="end">1.0</text>
<line x1="101.00" y1="1830.50" x2="116.40" y2="1830.50" stroke="#000" stroke-width="2.2"/>
<text x="99.00" y="1839.00" font-size="24" text-anchor="end">0.5</text>
<line x1="101.00" y1="1918.40" x2="116.40" y2="1918.40" stroke="#000" stroke-width="2.2"/>
<text x="99.00" y="1926.90" font-size="24" text-anchor="end">0.0</text>
<line x1="116.80" y1="1918.40" x2="116.80" y2="1932.20" stroke="#000" stroke-width="2.4"/>
<text x="116.80" y="1957.70" font-size="24.5" text-anchor="middle">0.0</text>
<line x1="246.60" y1="1918.40" x2="246.60" y2="1932.20" stroke="#000" stroke-width="2.4"/>
<text x="246.60" y="1957.70" font-size="24.5" text-anchor="middle">0.5</text>
<line x1="376.90" y1="1918.40" x2="376.90" y2="1932.20" stroke="#000" stroke-width="2.4"/>
<text x="376.90" y="1957.70" font-size="24.5" text-anchor="middle">1.0</text>
<line x1="507.30" y1="1918.40" x2="507.30" y2="1932.20" stroke="#000" stroke-width="2.4"/>
<text x="507.30" y="1957.70" font-size="24.5" text-anchor="middle">1.5</text>
<text x="263.10" y="1992.00" font-size="24" textLength="96.7" lengthAdjust="spacingAndGlyphs">FAS-AS1</text>
<text transform="translate(62.00,1811.00) rotate(-90)" font-size="25" textLength="47.8" lengthAdjust="spacingAndGlyphs">FAS</text>
<text x="145.3" y="1682.7" font-size="24" letter-spacing="1.3">R<tspan font-size="15" dy="-9">2</tspan><tspan dy="9">=0.646</tspan></text>
<text x="145.3" y="1713.6" font-size="24" letter-spacing="1.5"><tspan font-style="italic">P</tspan>&lt;0.001</text>
<text x="0.70" y="1596.40" font-size="25" font-weight="bold">(h)</text>
<polyline points="629.5,1628.0 636.4,1635.4 643.2,1646.4 647.3,1657.3 652.7,1669.5 658.2,1679.1 663.6,1691.3 670.4,1700.9 677.3,1710.4 684.1,1718.6 693.6,1725.4 701.8,1732.2 712.7,1737.7 723.6,1742.5 734.5,1746.6 745.4,1751.3 756.3,1752.7 763.1,1756.8 770.0,1760.9 783.6,1762.8 805.0,1763.7" fill="none" stroke="#000000" stroke-width="5.6" stroke-linejoin="round"/>
<polyline points="805.0,1763.7 808.0,1763.7 808.0,1772.0 836.5,1772.0 836.5,1782.8 914.5,1782.8" fill="none" stroke="#000000" stroke-width="1.6" stroke-linejoin="round"/>
<path d="M802.8,1763.7h6.4M806.0,1760.5v6.4M806.8,1772.0h6.4M810.0,1768.8v6.4M809.8,1772.0h6.4M813.0,1768.8v6.4M812.8,1772.0h6.4M816.0,1768.8v6.4M815.8,1772.0h6.4M819.0,1768.8v6.4M818.8,1772.0h6.4M822.0,1768.8v6.4M821.8,1772.0h6.4M825.0,1768.8v6.4M824.8,1772.0h6.4M828.0,1768.8v6.4M826.8,1772.0h6.4M830.0,1768.8v6.4M829.8,1772.0h6.4M833.0,1768.8v6.4M841.5,1782.8h6.4M844.7,1779.6v6.4M846.8,1782.8h6.4M850.0,1779.6v6.4M852.0,1782.8h6.4M855.2,1779.6v6.4M858.8,1782.8h6.4M862.0,1779.6v6.4M860.3,1782.8h6.4M863.5,1779.6v6.4M863.3,1782.8h6.4M866.5,1779.6v6.4M867.0,1782.8h6.4M870.2,1779.6v6.4M868.5,1782.8h6.4M871.7,1779.6v6.4M871.5,1782.8h6.4M874.7,1779.6v6.4M908.3,1782.8h6.4M911.5,1779.6v6.4" stroke="#000000" stroke-width="1.3" fill="none"/>
<polyline points="629.5,1628.0 635.0,1632.7 641.8,1640.9 645.9,1650.4 651.4,1661.4 658.2,1670.9 665.0,1680.4 673.2,1688.6 680.0,1696.8 686.8,1705.0 696.3,1711.8 704.5,1718.6 715.4,1724.1 726.3,1728.2 737.2,1730.9 748.2,1733.6 755.0,1737.7 760.4,1743.2 770.0,1745.0 783.6,1746.6 789.0,1748.7" fill="none" stroke="#ff0000" stroke-width="5.6" stroke-linejoin="round"/>
<polyline points="789.0,1748.7 967.7,1748.7" fill="none" stroke="#ff0000" stroke-width="1.4" stroke-linejoin="round"/>
<path d="M786.8,1748.7h6.4M790.0,1745.5v6.4M789.8,1748.7h6.4M793.0,1745.5v6.4M792.8,1748.7h6.4M796.0,1745.5v6.4M795.8,1748.7h6.4M799.0,1745.5v6.4M801.8,1748.7h6.4M805.0,1745.5v6.4M804.8,1748.7h6.4M808.0,1745.5v6.4M807.8,1748.7h6.4M811.0,1745.5v6.4M810.0,1748.7h6.4M813.2,1745.5v6.4M816.0,1748.7h6.4M819.2,1745.5v6.4M818.3,1748.7h6.4M821.5,1745.5v6.4M819.8,1748.7h6.4M823.0,1745.5v6.4M827.3,1748.7h6.4M830.5,1745.5v6.4M830.3,1748.7h6.4M833.5,1745.5v6.4M833.3,1748.7h6.4M836.5,1745.5v6.4M836.3,1748.7h6.4M839.5,1745.5v6.4M838.5,1748.7h6.4M841.7,1745.5v6.4M841.5,1748.7h6.4M844.7,1745.5v6.4M851.3,1748.7h6.4M854.5,1745.5v6.4M854.3,1748.7h6.4M857.5,1745.5v6.4M860.3,1748.7h6.4M863.5,1745.5v6.4M867.8,1748.7h6.4M871.0,1745.5v6.4M875.3,1748.7h6.4M878.5,1745.5v6.4M885.0,1748.7h6.4M888.2,1745.5v6.4M894.8,1748.7h6.4M898.0,1745.5v6.4M921.0,1748.7h6.4M924.2,1745.5v6.4M940.5,1748.7h6.4M943.7,1745.5v6.4M960.8,1748.7h6.4M964.0,1745.5v6.4" stroke="#ff0000" stroke-width="1.3" fill="none"/>
<rect x="616.3" y="1616.0" width="360.9" height="327.7" fill="none" stroke="#8a8a8a" stroke-width="1.6"/>
<line x1="608.80" y1="1625.40" x2="616.30" y2="1625.40" stroke="#8a8a8a" stroke-width="1.5"/>
<text transform="translate(600.80,1625.40) rotate(-90)" font-size="25.5" text-anchor="middle" textLength="31.3" lengthAdjust="spacingAndGlyphs">1.0</text>
<line x1="608.80" y1="1686.80" x2="616.30" y2="1686.80" stroke="#8a8a8a" stroke-width="1.5"/>
<text transform="translate(600.80,1686.80) rotate(-90)" font-size="25.5" text-anchor="middle" textLength="31.3" lengthAdjust="spacingAndGlyphs">0.8</text>
<line x1="608.80" y1="1748.10" x2="616.30" y2="1748.10" stroke="#8a8a8a" stroke-width="1.5"/>
<text transform="translate(600.80,1748.10) rotate(-90)" font-size="25.5" text-anchor="middle" textLength="31.3" lengthAdjust="spacingAndGlyphs">0.6</text>
<line x1="608.80" y1="1809.50" x2="616.30" y2="1809.50" stroke="#8a8a8a" stroke-width="1.5"/>
<text transform="translate(600.80,1809.50) rotate(-90)" font-size="25.5" text-anchor="middle" textLength="31.3" lengthAdjust="spacingAndGlyphs">0.4</text>
<line x1="608.80" y1="1870.80" x2="616.30" y2="1870.80" stroke="#8a8a8a" stroke-width="1.5"/>
<text transform="translate(600.80,1870.80) rotate(-90)" font-size="25.5" text-anchor="middle" textLength="31.3" lengthAdjust="spacingAndGlyphs">0.2</text>
<line x1="608.80" y1="1932.20" x2="616.30" y2="1932.20" stroke="#8a8a8a" stroke-width="1.5"/>
<text transform="translate(600.80,1932.20) rotate(-90)" font-size="25.5" text-anchor="middle" textLength="31.3" lengthAdjust="spacingAndGlyphs">0.0</text>
<line x1="629.30" y1="1943.70" x2="629.30" y2="1950.70" stroke="#8a8a8a" stroke-width="1.5"/>
<text x="629.30" y="1974.30" font-size="21" text-anchor="middle" textLength="12.01" lengthAdjust="spacingAndGlyphs">0</text>
<line x1="690.00" y1="1943.70" x2="690.00" y2="1950.70" stroke="#8a8a8a" stroke-width="1.5"/>
<text x="690.00" y="1974.30" font-size="21" text-anchor="middle" textLength="24.02" lengthAdjust="spacingAndGlyphs">50</text>
<line x1="750.60" y1="1943.70" x2="750.60" y2="1950.70" stroke="#8a8a8a" stroke-width="1.5"/>
<text x="750.60" y="1974.30" font-size="21" text-anchor="middle" textLength="36.03" lengthAdjust="spacingAndGlyphs">100</text>
<line x1="811.00" y1="1943.70" x2="811.00" y2="1950.70" stroke="#8a8a8a" stroke-width="1.5"/>
<text x="811.00" y="1974.30" font-size="21" text-anchor="middle" textLength="36.03" lengthAdjust="spacingAndGlyphs">150</text>
<line x1="871.30" y1="1943.70" x2="871.30" y2="1950.70" stroke="#8a8a8a" stroke-width="1.5"/>
<text x="871.30" y="1974.30" font-size="21" text-anchor="middle" textLength="36.03" lengthAdjust="spacingAndGlyphs">200</text>
<line x1="931.60" y1="1943.70" x2="931.60" y2="1950.70" stroke="#8a8a8a" stroke-width="1.5"/>
<text x="931.60" y="1974.30" font-size="21" text-anchor="middle" textLength="36.03" lengthAdjust="spacingAndGlyphs">250</text>
<text x="798.00" y="1999.90" font-size="22.5" text-anchor="middle" textLength="144" lengthAdjust="spacingAndGlyphs">Time (months)</text>
<text transform="translate(567.00,1778.60) rotate(-90)" font-size="22.5" text-anchor="middle" textLength="104" lengthAdjust="spacingAndGlyphs">Probability</text>
<text x="969.40" y="1639.80" font-size="19" font-family="'DejaVu Sans', 'Liberation Sans', sans-serif" text-anchor="end" fill="#111" textLength="199.5" lengthAdjust="spacingAndGlyphs">HR = 0.83 (0.71 - 0.96)</text>
<text x="969.40" y="1663.10" font-size="19" font-family="'DejaVu Sans', 'Liberation Sans', sans-serif" text-anchor="end" fill="#111" textLength="151.8" lengthAdjust="spacingAndGlyphs">logrank P = 0.014</text>
<text x="624.40" y="1882.90" font-size="18.5" font-family="'DejaVu Sans', 'Liberation Sans', sans-serif" fill="#111" textLength="90.4" lengthAdjust="spacingAndGlyphs">Expression</text>
<line x1="631.20" y1="1903.50" x2="662.80" y2="1903.50" stroke="#555" stroke-width="2"/>
<line x1="631.20" y1="1924.40" x2="662.80" y2="1924.40" stroke="#f25555" stroke-width="2"/>
<text x="678.60" y="1910.00" font-size="19" fill="#111">low</text>
<text x="678.60" y="1930.90" font-size="19" fill="#111">high</text>
<text x="819.80" y="1915.70" font-size="21.5" fill="#111" textLength="112" lengthAdjust="spacingAndGlyphs">breast cancer</text>
<text x="616.30" y="2023.70" font-size="22.5" textLength="145" lengthAdjust="spacingAndGlyphs">Number at risk</text>
<text x="570.70" y="2051.00" font-size="22">low</text>
<text x="570.70" y="2073.10" font-size="22" fill="#ff0000">high</text>
<text x="646.00" y="2051.00" font-size="22" text-anchor="middle">1034</text>
<text x="695.00" y="2051.00" font-size="22" text-anchor="middle">541</text>
<text x="745.50" y="2051.00" font-size="22" text-anchor="middle">175</text>
<text x="810.70" y="2051.00" font-size="22" text-anchor="middle">35</text>
<text x="873.90" y="2051.00" font-size="22" text-anchor="middle">3</text>
<text x="934.30" y="2051.00" font-size="22" text-anchor="middle">0</text>
<text x="639.50" y="2073.10" font-size="22" text-anchor="middle" fill="#ff0000">998</text>
<text x="695.00" y="2073.10" font-size="22" text-anchor="middle" fill="#ff0000">551</text>
<text x="745.20" y="2073.10" font-size="22" text-anchor="middle" fill="#ff0000">171</text>
<text x="810.70" y="2073.10" font-size="22" text-anchor="middle" fill="#ff0000">33</text>
<text x="873.90" y="2073.10" font-size="22" text-anchor="middle" fill="#ff0000">7</text>
<text x="934.30" y="2073.10" font-size="22" text-anchor="middle" fill="#ff0000">2</text>
<text x="511.60" y="1596.40" font-size="25" font-weight="bold">(i)</text>
<polyline points="1143.2,1628.6 1148.6,1643.6 1152.7,1661.4 1155.4,1680.4 1157.5,1696.8 1160.9,1724.1 1165.0,1748.6 1169.1,1767.7 1174.5,1792.2 1179.6,1809.6 1186.2,1819.4 1191.1,1830.9 1197.6,1835.8 1205.8,1839.1 1209.1,1847.3 1215.6,1857.1 1221.3,1862.0 1245.1,1862.8 1248.3,1866.1 1254.9,1868.5 1256.5,1874.3 1282.7,1874.3 1283.5,1884.1 1374.3,1884.1" fill="none" stroke="#000000" stroke-width="1.8" stroke-linejoin="round"/>
<path d="M1139.9,1629.4h7.2M1143.5,1625.8v7.2M1142.4,1636.4h7.2M1146.0,1632.8v7.2M1144.4,1641.9h7.2M1148.0,1638.3v7.2M1146.4,1649.7h7.2M1150.0,1646.1v7.2M1148.4,1658.4h7.2M1152.0,1654.8v7.2M1150.4,1670.5h7.2M1154.0,1666.9v7.2M1152.4,1685.1h7.2M1156.0,1681.5v7.2M1154.4,1700.8h7.2M1158.0,1697.2v7.2M1156.4,1716.9h7.2M1160.0,1713.3v7.2M1158.4,1730.7h7.2M1162.0,1727.1v7.2M1160.4,1742.6h7.2M1164.0,1739.0v7.2M1162.4,1753.3h7.2M1166.0,1749.7v7.2M1164.4,1762.6h7.2M1168.0,1759.0v7.2M1166.4,1771.8h7.2M1170.0,1768.2v7.2M1169.4,1785.4h7.2M1173.0,1781.8v7.2M1172.4,1797.3h7.2M1176.0,1793.7v7.2M1174.4,1804.1h7.2M1178.0,1800.5v7.2M1176.4,1810.2h7.2M1180.0,1806.6v7.2M1178.4,1813.2h7.2M1182.0,1809.6v7.2M1180.4,1816.1h7.2M1184.0,1812.5v7.2M1182.4,1819.1h7.2M1186.0,1815.5v7.2M1184.4,1823.6h7.2M1188.0,1820.0v7.2M1186.4,1828.3h7.2M1190.0,1824.7v7.2M1190.4,1833.1h7.2M1194.0,1829.5v7.2M1194.4,1836.0h7.2M1198.0,1832.4v7.2M1196.4,1836.8h7.2M1200.0,1833.2v7.2M1198.4,1837.6h7.2M1202.0,1834.0v7.2M1201.4,1838.8h7.2M1205.0,1835.2v7.2M1203.4,1842.1h7.2M1207.0,1838.5v7.2M1205.4,1847.1h7.2M1209.0,1843.5v7.2M1208.4,1851.7h7.2M1212.0,1848.1v7.2M1210.4,1854.7h7.2M1214.0,1851.1v7.2M1213.4,1858.3h7.2M1217.0,1854.7v7.2M1216.4,1860.9h7.2M1220.0,1857.3v7.2M1225.4,1862.3h7.2M1229.0,1858.7v7.2M1232.4,1862.5h7.2M1236.0,1858.9v7.2M1239.4,1862.7h7.2M1243.0,1859.1v7.2M1246.4,1866.7h7.2M1250.0,1863.1v7.2M1249.4,1867.8h7.2M1253.0,1864.2v7.2M1262.4,1874.3h7.2M1266.0,1870.7v7.2M1264.4,1874.3h7.2M1268.0,1870.7v7.2M1266.4,1874.3h7.2M1270.0,1870.7v7.2M1292.4,1884.1h7.2M1296.0,1880.5v7.2M1299.4,1884.1h7.2M1303.0,1880.5v7.2M1304.4,1884.1h7.2M1308.0,1880.5v7.2M1367.4,1884.1h7.2M1371.0,1880.5v7.2" stroke="#000000" stroke-width="1.3" fill="none"/>
<polyline points="1142.5,1641.6 1148.6,1655.9 1152.7,1679.1 1156.1,1710.4 1158.9,1737.7 1162.3,1765.0 1166.4,1792.2 1169.8,1809.6 1173.1,1821.1 1177.2,1839.1 1181.3,1855.4 1187.8,1863.6 1196.0,1868.5 1204.2,1871.8 1212.4,1881.6 1254.9,1882.9 1258.2,1884.9 1261.4,1888.2 1268.0,1892.7 1276.2,1896.3 1282.7,1902.9 1479.4,1902.9" fill="none" stroke="#ff0000" stroke-width="1.6" stroke-linejoin="round"/>
<path d="M1139.2,1642.3h7.2M1142.8,1638.7v7.2M1141.4,1647.5h7.2M1145.0,1643.9v7.2M1144.4,1654.5h7.2M1148.0,1650.9v7.2M1146.4,1663.8h7.2M1150.0,1660.2v7.2M1149.4,1681.9h7.2M1153.0,1678.3v7.2M1152.4,1709.5h7.2M1156.0,1705.9v7.2M1154.4,1728.9h7.2M1158.0,1725.3v7.2M1156.4,1746.5h7.2M1160.0,1742.9v7.2M1159.4,1769.6h7.2M1163.0,1766.0v7.2M1162.4,1789.5h7.2M1166.0,1785.9v7.2M1164.4,1800.4h7.2M1168.0,1796.8v7.2M1166.4,1810.3h7.2M1170.0,1806.7v7.2M1168.4,1817.3h7.2M1172.0,1813.7v7.2M1172.4,1833.8h7.2M1176.0,1830.2v7.2M1174.4,1842.3h7.2M1178.0,1838.7v7.2M1178.4,1856.3h7.2M1182.0,1852.7v7.2M1182.4,1861.3h7.2M1186.0,1857.7v7.2M1184.4,1863.7h7.2M1188.0,1860.1v7.2M1186.4,1864.9h7.2M1190.0,1861.3v7.2M1188.4,1866.1h7.2M1192.0,1862.5v7.2M1190.4,1867.3h7.2M1194.0,1863.7v7.2M1192.4,1868.5h7.2M1196.0,1864.9v7.2M1195.4,1869.7h7.2M1199.0,1866.1v7.2M1199.4,1871.3h7.2M1203.0,1867.7v7.2M1211.4,1881.7h7.2M1215.0,1878.1v7.2M1216.4,1881.8h7.2M1220.0,1878.2v7.2M1228.4,1882.2h7.2M1232.0,1878.6v7.2M1237.4,1882.5h7.2M1241.0,1878.9v7.2M1240.4,1882.6h7.2M1244.0,1879.0v7.2M1242.4,1882.6h7.2M1246.0,1879.0v7.2M1245.4,1882.7h7.2M1249.0,1879.1v7.2M1254.4,1884.8h7.2M1258.0,1881.2v7.2M1290.4,1902.9h7.2M1294.0,1899.3v7.2M1292.4,1902.9h7.2M1296.0,1899.3v7.2M1306.4,1902.9h7.2M1310.0,1899.3v7.2M1308.4,1902.9h7.2M1312.0,1899.3v7.2M1316.4,1902.9h7.2M1320.0,1899.3v7.2M1332.4,1902.9h7.2M1336.0,1899.3v7.2M1341.4,1902.9h7.2M1345.0,1899.3v7.2M1475.4,1902.9h7.2M1479.0,1899.3v7.2" stroke="#ff0000" stroke-width="1.3" fill="none"/>
<rect x="1129.0" y="1616.9" width="361.2" height="327.0" fill="none" stroke="#8a8a8a" stroke-width="1.6"/>
<line x1="1121.50" y1="1617.90" x2="1129.00" y2="1617.90" stroke="#8a8a8a" stroke-width="1.5"/>
<text transform="translate(1113.50,1617.90) rotate(-90)" font-size="25.5" text-anchor="middle" textLength="31.3" lengthAdjust="spacingAndGlyphs">1.0</text>
<line x1="1121.50" y1="1680.60" x2="1129.00" y2="1680.60" stroke="#8a8a8a" stroke-width="1.5"/>
<text transform="translate(1113.50,1680.60) rotate(-90)" font-size="25.5" text-anchor="middle" textLength="31.3" lengthAdjust="spacingAndGlyphs">0.8</text>
<line x1="1121.50" y1="1743.30" x2="1129.00" y2="1743.30" stroke="#8a8a8a" stroke-width="1.5"/>
<text transform="translate(1113.50,1743.30) rotate(-90)" font-size="25.5" text-anchor="middle" textLength="31.3" lengthAdjust="spacingAndGlyphs">0.6</text>
<line x1="1121.50" y1="1806.40" x2="1129.00" y2="1806.40" stroke="#8a8a8a" stroke-width="1.5"/>
<text transform="translate(1113.50,1806.40) rotate(-90)" font-size="25.5" text-anchor="middle" textLength="31.3" lengthAdjust="spacingAndGlyphs">0.4</text>
<line x1="1121.50" y1="1869.10" x2="1129.00" y2="1869.10" stroke="#8a8a8a" stroke-width="1.5"/>
<text transform="translate(1113.50,1869.10) rotate(-90)" font-size="25.5" text-anchor="middle" textLength="31.3" lengthAdjust="spacingAndGlyphs">0.2</text>
<line x1="1121.50" y1="1931.50" x2="1129.00" y2="1931.50" stroke="#8a8a8a" stroke-width="1.5"/>
<text transform="translate(1113.50,1931.50) rotate(-90)" font-size="25.5" text-anchor="middle" textLength="31.3" lengthAdjust="spacingAndGlyphs">0.0</text>
<line x1="1143.10" y1="1943.90" x2="1143.10" y2="1950.90" stroke="#8a8a8a" stroke-width="1.5"/>
<text x="1143.10" y="1974.60" font-size="21" text-anchor="middle" textLength="12.01" lengthAdjust="spacingAndGlyphs">0</text>
<line x1="1211.80" y1="1943.90" x2="1211.80" y2="1950.90" stroke="#8a8a8a" stroke-width="1.5"/>
<text x="1211.80" y="1974.60" font-size="21" text-anchor="middle" textLength="24.02" lengthAdjust="spacingAndGlyphs">50</text>
<line x1="1280.60" y1="1943.90" x2="1280.60" y2="1950.90" stroke="#8a8a8a" stroke-width="1.5"/>
<text x="1280.60" y="1974.60" font-size="21" text-anchor="middle" textLength="36.03" lengthAdjust="spacingAndGlyphs">100</text>
<line x1="1349.30" y1="1943.90" x2="1349.30" y2="1950.90" stroke="#8a8a8a" stroke-width="1.5"/>
<text x="1349.30" y="1974.60" font-size="21" text-anchor="middle" textLength="36.03" lengthAdjust="spacingAndGlyphs">150</text>
<line x1="1418.00" y1="1943.90" x2="1418.00" y2="1950.90" stroke="#8a8a8a" stroke-width="1.5"/>
<text x="1418.00" y="1974.60" font-size="21" text-anchor="middle" textLength="36.03" lengthAdjust="spacingAndGlyphs">200</text>
<line x1="1487.80" y1="1943.90" x2="1487.80" y2="1950.90" stroke="#8a8a8a" stroke-width="1.5"/>
<text x="1487.80" y="1974.60" font-size="21" text-anchor="middle" textLength="36.03" lengthAdjust="spacingAndGlyphs">250</text>
<text x="1316.10" y="1999.80" font-size="22.5" text-anchor="middle" textLength="144" lengthAdjust="spacingAndGlyphs">Time (months)</text>
<text transform="translate(1082.00,1778.00) rotate(-90)" font-size="22.5" text-anchor="middle" textLength="104" lengthAdjust="spacingAndGlyphs">Probability</text>
<text x="1482.80" y="1639.40" font-size="19" font-family="'DejaVu Sans', 'Liberation Sans', sans-serif" text-anchor="end" fill="#111" textLength="199.5" lengthAdjust="spacingAndGlyphs">HR = 1.35 (1.11 - 1.62)</text>
<text x="1482.80" y="1662.70" font-size="19" font-family="'DejaVu Sans', 'Liberation Sans', sans-serif" text-anchor="end" fill="#111" textLength="163" lengthAdjust="spacingAndGlyphs">logrank P = 0.0019</text>
<text x="1136.70" y="1882.80" font-size="18.5" font-family="'DejaVu Sans', 'Liberation Sans', sans-serif" fill="#111" textLength="90.4" lengthAdjust="spacingAndGlyphs">Expression</text>
<line x1="1144.70" y1="1903.00" x2="1175.90" y2="1903.00" stroke="#555" stroke-width="2"/>
<line x1="1144.70" y1="1923.80" x2="1175.90" y2="1923.80" stroke="#f25555" stroke-width="2"/>
<text x="1191.70" y="1909.50" font-size="19" fill="#111">low</text>
<text x="1191.70" y="1930.30" font-size="19" fill="#111">high</text>
<text x="1324.50" y="1925.40" font-size="21.5" fill="#111" textLength="122" lengthAdjust="spacingAndGlyphs">ovarian cancer</text>
<text x="1128.00" y="2023.90" font-size="22.5" textLength="145" lengthAdjust="spacingAndGlyphs">Number at risk</text>
<text x="1082.00" y="2051.40" font-size="22">low</text>
<text x="1082.00" y="2074.20" font-size="22" fill="#ff0000">high</text>
<text x="1150.80" y="2051.40" font-size="22" text-anchor="middle">308</text>
<text x="1217.00" y="2051.40" font-size="22" text-anchor="middle">26</text>
<text x="1276.00" y="2051.40" font-size="22" text-anchor="middle">6</text>
<text x="1348.70" y="2051.40" font-size="22" text-anchor="middle">1</text>
<text x="1418.20" y="2051.40" font-size="22" text-anchor="middle">0</text>
<text x="1488.00" y="2051.40" font-size="22" text-anchor="middle">0</text>
<text x="1150.80" y="2074.20" font-size="22" text-anchor="middle" fill="#ff0000">306</text>
<text x="1217.00" y="2074.20" font-size="22" text-anchor="middle" fill="#ff0000">28</text>
<text x="1283.00" y="2074.20" font-size="22" text-anchor="middle" fill="#ff0000">10</text>
<text x="1348.70" y="2074.20" font-size="22" text-anchor="middle" fill="#ff0000">1</text>
<text x="1418.20" y="2074.20" font-size="22" text-anchor="middle" fill="#ff0000">1</text>
<text x="1488.00" y="2074.20" font-size="22" text-anchor="middle" fill="#ff0000">0</text>
<text x="1034.20" y="1596.40" font-size="25" font-weight="bold">(j)</text>
<polyline points="122.7,2143.5 132.5,2155.5 144.5,2170.5 158.0,2185.5 170.0,2200.5 188.0,2212.5 200.0,2221.5 212.0,2229.0 227.0,2235.0 245.0,2239.5 260.0,2245.5 267.5,2250.0 296.0,2250.7" fill="none" stroke="#000000" stroke-width="2.0" stroke-linejoin="round"/>
<polyline points="158.0,2185.5 170.0,2200.5 188.0,2212.5 200.0,2221.5 212.0,2229.0 227.0,2235.0 245.0,2239.5 260.0,2245.5 267.5,2250.0 296.0,2250.7" fill="none" stroke="#000000" stroke-width="5.4" stroke-linejoin="round"/>
<polyline points="296.0,2250.7 297.5,2254.1 328.4,2254.1 328.4,2263.8 364.9,2263.8 364.9,2286.5 459.3,2286.5" fill="none" stroke="#000000" stroke-width="1.6" stroke-linejoin="round"/>
<path d="M120.4,2145.1h7.2M124.0,2141.5v7.2M123.4,2148.8h7.2M127.0,2145.2v7.2M126.4,2152.4h7.2M130.0,2148.8v7.2M129.4,2156.1h7.2M133.0,2152.5v7.2M132.4,2159.9h7.2M136.0,2156.3v7.2M135.4,2163.6h7.2M139.0,2160.0v7.2M138.4,2167.4h7.2M142.0,2163.8v7.2M141.4,2171.1h7.2M145.0,2167.5v7.2M144.4,2174.4h7.2M148.0,2170.8v7.2M147.4,2177.7h7.2M151.0,2174.1v7.2M150.4,2181.1h7.2M154.0,2177.5v7.2M153.4,2184.4h7.2M157.0,2180.8v7.2M156.4,2188.0h7.2M160.0,2184.4v7.2M159.4,2191.8h7.2M163.0,2188.2v7.2M162.4,2195.5h7.2M166.0,2191.9v7.2M165.4,2199.2h7.2M169.0,2195.7v7.2M168.4,2201.8h7.2M172.0,2198.2v7.2M171.4,2203.8h7.2M175.0,2200.2v7.2M174.4,2205.8h7.2M178.0,2202.2v7.2M177.4,2207.8h7.2M181.0,2204.2v7.2M180.4,2209.8h7.2M184.0,2206.2v7.2M183.4,2211.8h7.2M187.0,2208.2v7.2M186.4,2214.0h7.2M190.0,2210.4v7.2M189.4,2216.2h7.2M193.0,2212.7v7.2M192.4,2218.5h7.2M196.0,2214.9v7.2M195.4,2220.8h7.2M199.0,2217.2v7.2M198.4,2222.8h7.2M202.0,2219.2v7.2M201.4,2224.6h7.2M205.0,2221.0v7.2M204.4,2226.5h7.2M208.0,2222.9v7.2M207.4,2228.4h7.2M211.0,2224.8v7.2M210.4,2229.8h7.2M214.0,2226.2v7.2M213.4,2231.0h7.2M217.0,2227.4v7.2M216.4,2232.2h7.2M220.0,2228.6v7.2M219.4,2233.4h7.2M223.0,2229.8v7.2M222.4,2234.6h7.2M226.0,2231.0v7.2M225.4,2235.5h7.2M229.0,2231.9v7.2M228.4,2236.2h7.2M232.0,2232.7v7.2M231.4,2237.0h7.2M235.0,2233.4v7.2M234.4,2237.8h7.2M238.0,2234.2v7.2M237.4,2238.5h7.2M241.0,2234.9v7.2M240.4,2239.2h7.2M244.0,2235.7v7.2M243.4,2240.3h7.2M247.0,2236.7v7.2M246.4,2241.5h7.2M250.0,2237.9v7.2M249.4,2242.7h7.2M253.0,2239.1v7.2M252.4,2243.9h7.2M256.0,2240.3v7.2M255.4,2245.1h7.2M259.0,2241.5v7.2M258.4,2246.7h7.2M262.0,2243.1v7.2M261.4,2248.5h7.2M265.0,2244.9v7.2M264.4,2250.0h7.2M268.0,2246.4v7.2M267.4,2250.1h7.2M271.0,2246.5v7.2M270.4,2250.2h7.2M274.0,2246.6v7.2M273.4,2250.2h7.2M277.0,2246.6v7.2M276.4,2250.3h7.2M280.0,2246.7v7.2M279.4,2250.4h7.2M283.0,2246.8v7.2M282.4,2250.5h7.2M286.0,2246.9v7.2M285.4,2250.5h7.2M289.0,2246.9v7.2M288.4,2250.6h7.2M292.0,2247.0v7.2M291.4,2250.7h7.2M295.0,2247.1v7.2M297.4,2254.1h7.2M301.0,2250.5v7.2M301.0,2254.1h7.2M304.6,2250.5v7.2M303.4,2254.1h7.2M307.0,2250.5v7.2M305.1,2254.1h7.2M308.7,2250.5v7.2M306.8,2254.1h7.2M310.4,2250.5v7.2M309.1,2254.1h7.2M312.7,2250.5v7.2M316.1,2254.1h7.2M319.7,2250.5v7.2M322.4,2254.1h7.2M326.0,2250.5v7.2M323.6,2254.1h7.2M327.2,2250.5v7.2M328.8,2263.8h7.2M332.4,2260.2v7.2M333.5,2263.8h7.2M337.1,2260.2v7.2M334.6,2263.8h7.2M338.2,2260.2v7.2M340.4,2263.8h7.2M344.0,2260.2v7.2M342.2,2263.8h7.2M345.8,2260.2v7.2M343.9,2263.8h7.2M347.5,2260.2v7.2M347.4,2263.8h7.2M351.0,2260.2v7.2M354.9,2263.8h7.2M358.5,2260.2v7.2M364.8,2286.5h7.2M368.4,2282.9v7.2M367.1,2286.5h7.2M370.7,2282.9v7.2M376.9,2286.5h7.2M380.5,2282.9v7.2M381.6,2286.5h7.2M385.2,2282.9v7.2M412.3,2286.5h7.2M415.9,2282.9v7.2M436.0,2286.5h7.2M439.6,2282.9v7.2M451.7,2286.5h7.2M455.3,2282.9v7.2" stroke="#000000" stroke-width="1.3" fill="none"/>
<polyline points="122.7,2143.5 131.0,2154.0 137.0,2175.0 144.5,2197.5 155.0,2209.5 170.0,2223.0 179.0,2233.5 194.0,2235.0 206.0,2247.0 222.5,2257.5 237.5,2268.0 252.5,2271.0 267.5,2277.0 282.5,2281.6" fill="none" stroke="#ff0000" stroke-width="1.8" stroke-linejoin="round"/>
<polyline points="222.5,2257.5 237.5,2268.0 252.5,2271.0 267.5,2277.0 282.5,2281.6" fill="none" stroke="#ff0000" stroke-width="4.6" stroke-linejoin="round"/>
<polyline points="282.5,2281.6 446.6,2281.6" fill="none" stroke="#ff0000" stroke-width="1.5" stroke-linejoin="round"/>
<path d="M120.4,2145.1h7.2M124.0,2141.5v7.2M123.4,2148.9h7.2M127.0,2145.3v7.2M126.4,2152.7h7.2M130.0,2149.1v7.2M129.4,2161.0h7.2M133.0,2157.4v7.2M132.4,2171.5h7.2M136.0,2167.9v7.2M135.4,2181.0h7.2M139.0,2177.4v7.2M138.4,2190.0h7.2M142.0,2186.4v7.2M141.4,2198.1h7.2M145.0,2194.5v7.2M144.4,2201.5h7.2M148.0,2197.9v7.2M147.4,2204.9h7.2M151.0,2201.3v7.2M150.4,2208.4h7.2M154.0,2204.8v7.2M153.4,2211.3h7.2M157.0,2207.7v7.2M156.4,2214.0h7.2M160.0,2210.4v7.2M159.4,2216.7h7.2M163.0,2213.1v7.2M162.4,2219.4h7.2M166.0,2215.8v7.2M165.4,2222.1h7.2M169.0,2218.5v7.2M168.4,2225.3h7.2M172.0,2221.7v7.2M171.4,2228.8h7.2M175.0,2225.2v7.2M174.4,2232.3h7.2M178.0,2228.7v7.2M177.4,2233.7h7.2M181.0,2230.1v7.2M180.4,2234.0h7.2M184.0,2230.4v7.2M183.4,2234.3h7.2M187.0,2230.7v7.2M186.4,2234.6h7.2M190.0,2231.0v7.2M189.4,2234.9h7.2M193.0,2231.3v7.2M192.4,2237.0h7.2M196.0,2233.4v7.2M195.4,2240.0h7.2M199.0,2236.4v7.2M198.4,2243.0h7.2M202.0,2239.4v7.2M201.4,2246.0h7.2M205.0,2242.4v7.2M204.4,2248.3h7.2M208.0,2244.7v7.2M207.4,2250.2h7.2M211.0,2246.6v7.2M210.4,2252.1h7.2M214.0,2248.5v7.2M213.4,2254.0h7.2M217.0,2250.4v7.2M216.4,2255.9h7.2M220.0,2252.3v7.2M219.4,2257.8h7.2M223.0,2254.2v7.2M222.4,2259.9h7.2M226.0,2256.3v7.2M225.4,2262.1h7.2M229.0,2258.5v7.2M228.4,2264.2h7.2M232.0,2260.6v7.2M231.4,2266.2h7.2M235.0,2262.7v7.2M234.4,2268.1h7.2M238.0,2264.5v7.2M237.4,2268.7h7.2M241.0,2265.1v7.2M240.4,2269.3h7.2M244.0,2265.7v7.2M243.4,2269.9h7.2M247.0,2266.3v7.2M246.4,2270.5h7.2M250.0,2266.9v7.2M249.4,2271.2h7.2M253.0,2267.6v7.2M252.4,2272.4h7.2M256.0,2268.8v7.2M255.4,2273.6h7.2M259.0,2270.0v7.2M258.4,2274.8h7.2M262.0,2271.2v7.2M261.4,2276.0h7.2M265.0,2272.4v7.2M264.4,2277.2h7.2M268.0,2273.6v7.2M267.4,2278.1h7.2M271.0,2274.5v7.2M270.4,2279.0h7.2M274.0,2275.4v7.2M273.4,2279.9h7.2M277.0,2276.3v7.2M276.4,2280.8h7.2M280.0,2277.2v7.2M279.4,2281.6h7.2M283.0,2278.0v7.2M282.4,2281.6h7.2M286.0,2278.0v7.2M285.4,2281.6h7.2M289.0,2278.0v7.2M299.9,2281.6h7.2M303.5,2278.0v7.2M304.5,2281.6h7.2M308.1,2278.0v7.2M306.2,2281.6h7.2M309.8,2278.0v7.2M308.0,2281.6h7.2M311.6,2278.0v7.2M311.5,2281.6h7.2M315.1,2278.0v7.2M313.8,2281.6h7.2M317.4,2278.0v7.2M315.5,2281.6h7.2M319.1,2278.0v7.2M319.0,2281.6h7.2M322.6,2278.0v7.2M326.5,2281.6h7.2M330.1,2278.0v7.2M333.5,2281.6h7.2M337.1,2278.0v7.2M342.2,2281.6h7.2M345.8,2278.0v7.2M343.3,2281.6h7.2M346.9,2278.0v7.2M345.1,2281.6h7.2M348.7,2278.0v7.2M347.4,2281.6h7.2M351.0,2278.0v7.2M350.9,2281.6h7.2M354.5,2278.0v7.2M353.8,2281.6h7.2M357.4,2278.0v7.2M355.5,2281.6h7.2M359.1,2278.0v7.2M370.0,2281.6h7.2M373.6,2278.0v7.2M376.4,2281.6h7.2M380.0,2278.0v7.2M386.2,2281.6h7.2M389.8,2278.0v7.2M400.7,2281.6h7.2M404.3,2278.0v7.2M439.5,2281.6h7.2M443.1,2278.0v7.2" stroke="#ff0000" stroke-width="1.3" fill="none"/>
<rect x="107.7" y="2130.1" width="362.0" height="328.9" fill="none" stroke="#8a8a8a" stroke-width="1.6"/>
<line x1="100.20" y1="2142.70" x2="107.70" y2="2142.70" stroke="#8a8a8a" stroke-width="1.5"/>
<text transform="translate(92.20,2142.70) rotate(-90)" font-size="25.5" text-anchor="middle" textLength="31.3" lengthAdjust="spacingAndGlyphs">1.0</text>
<line x1="100.20" y1="2204.10" x2="107.70" y2="2204.10" stroke="#8a8a8a" stroke-width="1.5"/>
<text transform="translate(92.20,2204.10) rotate(-90)" font-size="25.5" text-anchor="middle" textLength="31.3" lengthAdjust="spacingAndGlyphs">0.8</text>
<line x1="100.20" y1="2264.70" x2="107.70" y2="2264.70" stroke="#8a8a8a" stroke-width="1.5"/>
<text transform="translate(92.20,2264.70) rotate(-90)" font-size="25.5" text-anchor="middle" textLength="31.3" lengthAdjust="spacingAndGlyphs">0.6</text>
<line x1="100.20" y1="2325.70" x2="107.70" y2="2325.70" stroke="#8a8a8a" stroke-width="1.5"/>
<text transform="translate(92.20,2325.70) rotate(-90)" font-size="25.5" text-anchor="middle" textLength="31.3" lengthAdjust="spacingAndGlyphs">0.4</text>
<line x1="100.20" y1="2386.40" x2="107.70" y2="2386.40" stroke="#8a8a8a" stroke-width="1.5"/>
<text transform="translate(92.20,2386.40) rotate(-90)" font-size="25.5" text-anchor="middle" textLength="31.3" lengthAdjust="spacingAndGlyphs">0.2</text>
<line x1="100.20" y1="2447.10" x2="107.70" y2="2447.10" stroke="#8a8a8a" stroke-width="1.5"/>
<text transform="translate(92.20,2447.10) rotate(-90)" font-size="25.5" text-anchor="middle" textLength="31.3" lengthAdjust="spacingAndGlyphs">0.0</text>
<line x1="121.00" y1="2459.00" x2="121.00" y2="2466.00" stroke="#8a8a8a" stroke-width="1.5"/>
<text x="121.00" y="2490.40" font-size="21" text-anchor="middle" textLength="12.01" lengthAdjust="spacingAndGlyphs">0</text>
<line x1="167.00" y1="2459.00" x2="167.00" y2="2466.00" stroke="#8a8a8a" stroke-width="1.5"/>
<text x="167.00" y="2490.40" font-size="21" text-anchor="middle" textLength="24.02" lengthAdjust="spacingAndGlyphs">20</text>
<line x1="214.00" y1="2459.00" x2="214.00" y2="2466.00" stroke="#8a8a8a" stroke-width="1.5"/>
<text x="214.00" y="2490.40" font-size="21" text-anchor="middle" textLength="24.02" lengthAdjust="spacingAndGlyphs">40</text>
<line x1="260.40" y1="2459.00" x2="260.40" y2="2466.00" stroke="#8a8a8a" stroke-width="1.5"/>
<text x="260.40" y="2490.40" font-size="21" text-anchor="middle" textLength="24.02" lengthAdjust="spacingAndGlyphs">60</text>
<line x1="306.70" y1="2459.00" x2="306.70" y2="2466.00" stroke="#8a8a8a" stroke-width="1.5"/>
<text x="306.70" y="2490.40" font-size="21" text-anchor="middle" textLength="24.02" lengthAdjust="spacingAndGlyphs">80</text>
<line x1="353.40" y1="2459.00" x2="353.40" y2="2466.00" stroke="#8a8a8a" stroke-width="1.5"/>
<text x="353.40" y="2490.40" font-size="21" text-anchor="middle" textLength="36.03" lengthAdjust="spacingAndGlyphs">100</text>
<line x1="399.80" y1="2459.00" x2="399.80" y2="2466.00" stroke="#8a8a8a" stroke-width="1.5"/>
<text x="399.80" y="2490.40" font-size="21" text-anchor="middle" textLength="36.03" lengthAdjust="spacingAndGlyphs">120</text>
<line x1="446.50" y1="2459.00" x2="446.50" y2="2466.00" stroke="#8a8a8a" stroke-width="1.5"/>
<text x="446.50" y="2490.40" font-size="21" text-anchor="middle" textLength="36.03" lengthAdjust="spacingAndGlyphs">140</text>
<text x="282.90" y="2514.90" font-size="22.5" text-anchor="middle" textLength="144" lengthAdjust="spacingAndGlyphs">Time (months)</text>
<text transform="translate(60.00,2282.00) rotate(-90)" font-size="22.5" text-anchor="middle" textLength="104" lengthAdjust="spacingAndGlyphs">Probability</text>
<text x="460.80" y="2154.60" font-size="19" font-family="'DejaVu Sans', 'Liberation Sans', sans-serif" text-anchor="end" fill="#111" textLength="199.5" lengthAdjust="spacingAndGlyphs">HR = 1.36 (1.04 - 1.78)</text>
<text x="460.80" y="2177.90" font-size="19" font-family="'DejaVu Sans', 'Liberation Sans', sans-serif" text-anchor="end" fill="#111" textLength="151.8" lengthAdjust="spacingAndGlyphs">logrank P = 0.026</text>
<text x="115.90" y="2398.30" font-size="18.5" font-family="'DejaVu Sans', 'Liberation Sans', sans-serif" fill="#111" textLength="90.4" lengthAdjust="spacingAndGlyphs">Expression</text>
<line x1="123.40" y1="2418.10" x2="155.10" y2="2418.10" stroke="#555" stroke-width="2"/>
<line x1="123.40" y1="2439.90" x2="155.10" y2="2439.90" stroke="#f25555" stroke-width="2"/>
<text x="170.90" y="2424.60" font-size="19" fill="#111">low</text>
<text x="170.90" y="2446.40" font-size="19" fill="#111">high</text>
<text x="362.00" y="2422.20" font-size="21.5" fill="#111" textLength="96.4" lengthAdjust="spacingAndGlyphs">lung cancer</text>
<text x="104.00" y="2540.80" font-size="22.5" textLength="145" lengthAdjust="spacingAndGlyphs">Number at risk</text>
<text x="58.60" y="2568.80" font-size="22">low</text>
<text x="58.60" y="2591.90" font-size="22" fill="#ff0000">high</text>
<text x="127.50" y="2568.80" font-size="22" text-anchor="middle">313</text>
<text x="174.20" y="2568.80" font-size="22" text-anchor="middle">245</text>
<text x="220.70" y="2568.80" font-size="22" text-anchor="middle">182</text>
<text x="266.40" y="2568.80" font-size="22" text-anchor="middle">105</text>
<text x="306.70" y="2568.80" font-size="22" text-anchor="middle">34</text>
<text x="354.00" y="2568.80" font-size="22" text-anchor="middle">10</text>
<text x="401.70" y="2568.80" font-size="22" text-anchor="middle">3</text>
<text x="444.10" y="2568.80" font-size="22" text-anchor="middle">1</text>
<text x="127.50" y="2591.90" font-size="22" text-anchor="middle" fill="#ff0000">283</text>
<text x="174.20" y="2591.90" font-size="22" text-anchor="middle" fill="#ff0000">200</text>
<text x="220.70" y="2591.90" font-size="22" text-anchor="middle" fill="#ff0000">143</text>
<text x="259.00" y="2591.90" font-size="22" text-anchor="middle" fill="#ff0000">81</text>
<text x="306.70" y="2591.90" font-size="22" text-anchor="middle" fill="#ff0000">26</text>
<text x="346.80" y="2591.90" font-size="22" text-anchor="middle" fill="#ff0000">8</text>
<text x="401.70" y="2591.90" font-size="22" text-anchor="middle" fill="#ff0000">2</text>
<text x="445.60" y="2591.90" font-size="22" text-anchor="middle" fill="#ff0000">0</text>
<text x="0.70" y="2113.60" font-size="25" font-weight="bold">(k)</text>
<polyline points="629.7,2145.5 635.0,2165.0 641.0,2178.5 645.5,2198.0 651.5,2216.0 657.5,2231.0 662.0,2240.0 669.5,2253.5 674.0,2261.0 681.5,2267.0 687.5,2277.5 698.0,2283.5 710.0,2287.2 717.5,2289.5 726.5,2297.0 740.0,2298.5 755.0,2300.0 762.5,2304.5 780.0,2303.6 793.6,2306.4 797.7,2310.4 804.5,2314.5 902.0,2314.5 902.0,2336.4 967.5,2336.4" fill="none" stroke="#000000" stroke-width="1.6" stroke-linejoin="round"/>
<path d="M626.4,2146.6h7.2M630.0,2143.0v7.2M628.4,2154.0h7.2M632.0,2150.4v7.2M630.4,2161.3h7.2M634.0,2157.7v7.2M632.4,2167.2h7.2M636.0,2163.7v7.2M634.4,2171.8h7.2M638.0,2168.2v7.2M636.4,2176.2h7.2M640.0,2172.7v7.2M638.4,2182.8h7.2M642.0,2179.2v7.2M641.4,2195.8h7.2M645.0,2192.2v7.2M644.4,2205.5h7.2M648.0,2201.9v7.2M647.4,2214.5h7.2M651.0,2210.9v7.2M650.4,2222.2h7.2M654.0,2218.7v7.2M652.4,2227.2h7.2M656.0,2223.7v7.2M654.4,2232.0h7.2M658.0,2228.4v7.2M656.4,2236.0h7.2M660.0,2232.4v7.2M660.4,2243.6h7.2M664.0,2240.0v7.2M664.4,2250.8h7.2M668.0,2247.2v7.2M666.4,2254.3h7.2M670.0,2250.7v7.2M669.4,2259.3h7.2M673.0,2255.7v7.2M672.4,2262.6h7.2M676.0,2259.0v7.2M680.4,2271.4h7.2M684.0,2267.8v7.2M683.4,2276.6h7.2M687.0,2273.0v7.2M685.4,2278.4h7.2M689.0,2274.8v7.2M692.4,2282.4h7.2M696.0,2278.8v7.2M704.4,2286.6h7.2M708.0,2283.0v7.2M716.4,2291.6h7.2M720.0,2288.0v7.2M719.4,2294.1h7.2M723.0,2290.5v7.2M721.4,2295.8h7.2M725.0,2292.2v7.2M724.4,2297.2h7.2M728.0,2293.6v7.2M726.4,2297.4h7.2M730.0,2293.8v7.2M732.4,2298.1h7.2M736.0,2294.5v7.2M734.4,2298.3h7.2M738.0,2294.7v7.2M737.4,2298.6h7.2M741.0,2295.0v7.2M740.4,2298.9h7.2M744.0,2295.3v7.2M742.4,2299.1h7.2M746.0,2295.5v7.2M744.4,2299.3h7.2M748.0,2295.7v7.2M746.4,2299.5h7.2M750.0,2295.9v7.2M748.4,2299.7h7.2M752.0,2296.1v7.2M750.4,2299.9h7.2M754.0,2296.3v7.2M752.4,2300.6h7.2M756.0,2297.0v7.2M754.4,2301.8h7.2M758.0,2298.2v7.2M756.4,2303.0h7.2M760.0,2299.4v7.2M757.4,2303.6h7.2M761.0,2300.0v7.2M758.4,2304.2h7.2M762.0,2300.6v7.2M760.4,2304.4h7.2M764.0,2300.8v7.2M762.4,2304.3h7.2M766.0,2300.7v7.2M764.4,2304.2h7.2M768.0,2300.6v7.2M766.4,2304.1h7.2M770.0,2300.5v7.2M768.4,2304.0h7.2M772.0,2300.4v7.2M771.4,2303.9h7.2M775.0,2300.3v7.2M773.4,2303.8h7.2M777.0,2300.2v7.2M777.8,2303.9h7.2M781.4,2300.3v7.2M780.5,2304.4h7.2M784.1,2300.8v7.2M784.6,2305.3h7.2M788.2,2301.7v7.2M787.3,2305.8h7.2M790.9,2302.2v7.2M803.7,2314.5h7.2M807.3,2310.9v7.2M812.5,2314.5h7.2M816.1,2310.9v7.2M813.2,2314.5h7.2M816.8,2310.9v7.2M819.3,2314.5h7.2M822.9,2310.9v7.2M820.7,2314.5h7.2M824.3,2310.9v7.2M826.8,2314.5h7.2M830.4,2310.9v7.2M830.9,2314.5h7.2M834.5,2310.9v7.2M835.0,2314.5h7.2M838.6,2310.9v7.2M839.1,2314.5h7.2M842.7,2310.9v7.2M847.3,2314.5h7.2M850.9,2310.9v7.2M853.4,2314.5h7.2M857.0,2310.9v7.2M864.3,2314.5h7.2M867.9,2310.9v7.2M869.8,2314.5h7.2M873.4,2310.9v7.2M870.5,2314.5h7.2M874.1,2310.9v7.2M883.4,2314.5h7.2M887.0,2310.9v7.2M884.8,2314.5h7.2M888.4,2310.9v7.2M894.3,2314.5h7.2M897.9,2310.9v7.2M895.7,2314.5h7.2M899.3,2310.9v7.2M898.4,2314.5h7.2M902.0,2310.9v7.2M913.4,2336.4h7.2M917.0,2332.8v7.2M920.2,2336.4h7.2M923.8,2332.8v7.2M960.4,2336.4h7.2M964.0,2332.8v7.2" stroke="#000000" stroke-width="1.3" fill="none"/>
<polyline points="629.7,2145.5 636.5,2163.5 642.5,2187.5 648.5,2213.0 653.0,2234.0 657.5,2255.0 662.0,2270.0 668.0,2279.0 674.0,2286.5 681.5,2294.0 689.0,2306.0 699.5,2312.0 710.0,2318.0 722.0,2324.0 737.0,2327.0 746.0,2330.0 765.0,2331.5 780.0,2332.3 793.6,2338.4 800.4,2341.8 807.3,2348.6 816.8,2352.7 819.5,2355.2 833.2,2355.2 835.9,2359.8 878.2,2359.8 878.2,2366.3 904.7,2366.3 904.7,2378.3 957.2,2378.3" fill="none" stroke="#ff0000" stroke-width="1.6" stroke-linejoin="round"/>
<path d="M626.4,2146.3h7.2M630.0,2142.7v7.2M628.4,2151.6h7.2M632.0,2148.0v7.2M630.4,2156.9h7.2M634.0,2153.3v7.2M632.4,2162.2h7.2M636.0,2158.6v7.2M634.4,2169.5h7.2M638.0,2165.9v7.2M636.4,2177.5h7.2M640.0,2173.9v7.2M638.4,2185.5h7.2M642.0,2181.9v7.2M641.4,2198.1h7.2M645.0,2194.5v7.2M643.4,2206.6h7.2M647.0,2203.0v7.2M645.4,2215.3h7.2M649.0,2211.7v7.2M648.4,2229.3h7.2M652.0,2225.7v7.2M650.4,2238.7h7.2M654.0,2235.1v7.2M653.4,2252.7h7.2M657.0,2249.1v7.2M656.4,2263.3h7.2M660.0,2259.7v7.2M660.4,2273.0h7.2M664.0,2269.4v7.2M662.4,2276.0h7.2M666.0,2272.4v7.2M663.4,2277.5h7.2M667.0,2273.9v7.2M666.4,2281.5h7.2M670.0,2277.9v7.2M668.4,2284.0h7.2M672.0,2280.4v7.2M672.4,2288.5h7.2M676.0,2284.9v7.2M678.4,2294.8h7.2M682.0,2291.2v7.2M684.4,2304.4h7.2M688.0,2300.8v7.2M686.4,2306.6h7.2M690.0,2303.0v7.2M702.4,2315.7h7.2M706.0,2312.1v7.2M703.4,2316.3h7.2M707.0,2312.7v7.2M704.4,2316.9h7.2M708.0,2313.3v7.2M720.4,2324.4h7.2M724.0,2320.8v7.2M722.4,2324.8h7.2M726.0,2321.2v7.2M723.4,2325.0h7.2M727.0,2321.4v7.2M724.4,2325.2h7.2M728.0,2321.6v7.2M729.4,2326.2h7.2M733.0,2322.6v7.2M734.4,2327.3h7.2M738.0,2323.7v7.2M736.4,2328.0h7.2M740.0,2324.4v7.2M779.1,2333.5h7.2M782.7,2329.9v7.2M781.9,2334.8h7.2M785.5,2331.2v7.2M784.6,2336.0h7.2M788.2,2332.4v7.2M787.3,2337.2h7.2M790.9,2333.6v7.2M794.1,2340.5h7.2M797.7,2336.9v7.2M796.8,2341.8h7.2M800.4,2338.2v7.2M799.6,2344.6h7.2M803.2,2341.0v7.2M802.3,2347.2h7.2M805.9,2343.6v7.2M805.0,2349.2h7.2M808.6,2345.6v7.2M807.8,2350.4h7.2M811.4,2346.8v7.2M810.5,2351.5h7.2M814.1,2347.9v7.2M820.0,2355.2h7.2M823.6,2351.6v7.2M823.4,2355.2h7.2M827.0,2351.6v7.2M828.2,2355.2h7.2M831.8,2351.6v7.2M833.7,2359.8h7.2M837.3,2356.2v7.2M836.4,2359.8h7.2M840.0,2356.2v7.2M839.1,2359.8h7.2M842.7,2356.2v7.2M841.8,2359.8h7.2M845.4,2356.2v7.2M860.9,2359.8h7.2M864.5,2356.2v7.2M869.1,2359.8h7.2M872.7,2356.2v7.2M881.4,2366.3h7.2M885.0,2362.7v7.2M884.1,2366.3h7.2M887.7,2362.7v7.2M886.8,2366.3h7.2M890.4,2362.7v7.2M910.0,2378.3h7.2M913.6,2374.7v7.2M918.2,2378.3h7.2M921.8,2374.7v7.2M919.5,2378.3h7.2M923.1,2374.7v7.2M939.3,2378.3h7.2M942.9,2374.7v7.2M943.4,2378.3h7.2M947.0,2374.7v7.2M950.9,2378.3h7.2M954.5,2374.7v7.2" stroke="#ff0000" stroke-width="1.3" fill="none"/>
<rect x="615.9" y="2131.8" width="361.3" height="327.9" fill="none" stroke="#8a8a8a" stroke-width="1.6"/>
<line x1="608.40" y1="2144.40" x2="615.90" y2="2144.40" stroke="#8a8a8a" stroke-width="1.5"/>
<text transform="translate(600.40,2144.40) rotate(-90)" font-size="25.5" text-anchor="middle" textLength="31.3" lengthAdjust="spacingAndGlyphs">1.0</text>
<line x1="608.40" y1="2205.10" x2="615.90" y2="2205.10" stroke="#8a8a8a" stroke-width="1.5"/>
<text transform="translate(600.40,2205.10) rotate(-90)" font-size="25.5" text-anchor="middle" textLength="31.3" lengthAdjust="spacingAndGlyphs">0.8</text>
<line x1="608.40" y1="2266.10" x2="615.90" y2="2266.10" stroke="#8a8a8a" stroke-width="1.5"/>
<text transform="translate(600.40,2266.10) rotate(-90)" font-size="25.5" text-anchor="middle" textLength="31.3" lengthAdjust="spacingAndGlyphs">0.6</text>
<line x1="608.40" y1="2326.80" x2="615.90" y2="2326.80" stroke="#8a8a8a" stroke-width="1.5"/>
<text transform="translate(600.40,2326.80) rotate(-90)" font-size="25.5" text-anchor="middle" textLength="31.3" lengthAdjust="spacingAndGlyphs">0.4</text>
<line x1="608.40" y1="2387.40" x2="615.90" y2="2387.40" stroke="#8a8a8a" stroke-width="1.5"/>
<text transform="translate(600.40,2387.40) rotate(-90)" font-size="25.5" text-anchor="middle" textLength="31.3" lengthAdjust="spacingAndGlyphs">0.2</text>
<line x1="608.40" y1="2448.40" x2="615.90" y2="2448.40" stroke="#8a8a8a" stroke-width="1.5"/>
<text transform="translate(600.40,2448.40) rotate(-90)" font-size="25.5" text-anchor="middle" textLength="31.3" lengthAdjust="spacingAndGlyphs">0.0</text>
<line x1="629.50" y1="2459.70" x2="629.50" y2="2466.70" stroke="#8a8a8a" stroke-width="1.5"/>
<text x="629.50" y="2490.40" font-size="21" text-anchor="middle" textLength="12.01" lengthAdjust="spacingAndGlyphs">0</text>
<line x1="739.60" y1="2459.70" x2="739.60" y2="2466.70" stroke="#8a8a8a" stroke-width="1.5"/>
<text x="739.60" y="2490.40" font-size="21" text-anchor="middle" textLength="24.02" lengthAdjust="spacingAndGlyphs">50</text>
<line x1="849.40" y1="2459.70" x2="849.40" y2="2466.70" stroke="#8a8a8a" stroke-width="1.5"/>
<text x="849.40" y="2490.40" font-size="21" text-anchor="middle" textLength="36.03" lengthAdjust="spacingAndGlyphs">100</text>
<line x1="959.40" y1="2459.70" x2="959.40" y2="2466.70" stroke="#8a8a8a" stroke-width="1.5"/>
<text x="959.40" y="2490.40" font-size="21" text-anchor="middle" textLength="36.03" lengthAdjust="spacingAndGlyphs">150</text>
<text x="798.20" y="2514.90" font-size="22.5" text-anchor="middle" textLength="144" lengthAdjust="spacingAndGlyphs">Time (months)</text>
<text transform="translate(567.00,2282.00) rotate(-90)" font-size="22.5" text-anchor="middle" textLength="104" lengthAdjust="spacingAndGlyphs">Probability</text>
<text x="969.70" y="2155.70" font-size="19" font-family="'DejaVu Sans', 'Liberation Sans', sans-serif" text-anchor="end" fill="#111" textLength="199.5" lengthAdjust="spacingAndGlyphs">HR = 1.32 (1.04 - 1.68)</text>
<text x="969.70" y="2179.00" font-size="19" font-family="'DejaVu Sans', 'Liberation Sans', sans-serif" text-anchor="end" fill="#111" textLength="151.8" lengthAdjust="spacingAndGlyphs">logrank P = 0.021</text>
<text x="623.40" y="2398.30" font-size="18.5" font-family="'DejaVu Sans', 'Liberation Sans', sans-serif" fill="#111" textLength="90.4" lengthAdjust="spacingAndGlyphs">Expression</text>
<line x1="631.20" y1="2418.80" x2="662.90" y2="2418.80" stroke="#555" stroke-width="2"/>
<line x1="631.20" y1="2439.90" x2="662.90" y2="2439.90" stroke="#f25555" stroke-width="2"/>
<text x="678.70" y="2425.30" font-size="19" fill="#111">low</text>
<text x="678.70" y="2446.40" font-size="19" fill="#111">high</text>
<text x="819.70" y="2422.20" font-size="21.5" fill="#111" textLength="115.9" lengthAdjust="spacingAndGlyphs">gastric cancer</text>
<text x="615.90" y="2540.80" font-size="22.5" textLength="145" lengthAdjust="spacingAndGlyphs">Number at risk</text>
<text x="569.90" y="2568.80" font-size="22">low</text>
<text x="569.90" y="2591.90" font-size="22" fill="#ff0000">high</text>
<text x="639.30" y="2568.80" font-size="22" text-anchor="middle">273</text>
<text x="747.10" y="2568.80" font-size="22" text-anchor="middle">102</text>
<text x="852.70" y="2568.80" font-size="22" text-anchor="middle">17</text>
<text x="960.10" y="2568.80" font-size="22" text-anchor="middle">1</text>
<text x="639.30" y="2591.90" font-size="22" text-anchor="middle" fill="#ff0000">249</text>
<text x="741.00" y="2591.90" font-size="22" text-anchor="middle" fill="#ff0000">60</text>
<text x="852.70" y="2591.90" font-size="22" text-anchor="middle" fill="#ff0000">15</text>
<text x="961.00" y="2591.90" font-size="22" text-anchor="middle" fill="#ff0000">0</text>
<text x="511.60" y="2113.60" font-size="25" font-weight="bold">(l)</text>
</svg></body></html>
